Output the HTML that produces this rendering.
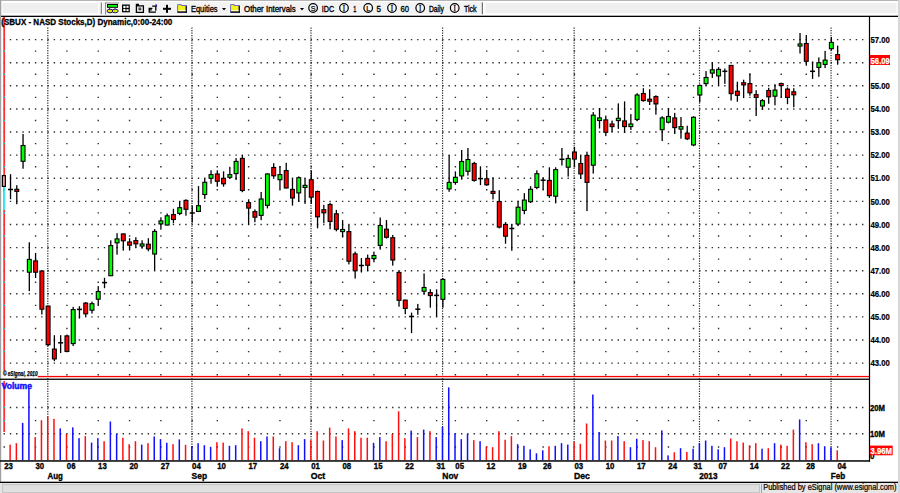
<!DOCTYPE html>
<html><head><meta charset="utf-8"><title>SBUX chart</title>
<style>html,body{margin:0;padding:0;background:#fff;width:900px;height:493px;overflow:hidden}svg{display:block}</style>
</head><body>
<svg width="900" height="493" viewBox="0 0 900 493"><rect x="0.00" y="0.00" width="900.00" height="493.00" fill="#ffffff"/>
<rect x="0.00" y="0.00" width="900.00" height="16.00" fill="#f3f3f3"/>
<rect x="0.00" y="0.00" width="900.00" height="1.10" fill="#b4b4b4"/>
<rect x="0.00" y="1.00" width="900.00" height="1.00" fill="#ffffff"/>
<rect x="2.00" y="2.50" width="96.50" height="11.30" fill="#efefef" stroke="#ffffff" stroke-width="1"/>
<rect x="100.80" y="2.50" width="1.20" height="12.00" fill="#888888"/><rect x="102.00" y="2.50" width="1.00" height="12.00" fill="#ffffff"/>
<rect x="485.00" y="2.50" width="412.00" height="11.30" fill="#efefef" stroke="#ffffff" stroke-width="1"/>
<rect x="481.80" y="2.50" width="1.30" height="12.50" fill="#707070"/><rect x="483.10" y="2.50" width="1.00" height="12.50" fill="#ffffff"/>
<rect x="0.00" y="14.20" width="900.00" height="1.50" fill="#ffffff"/>
<rect x="0.00" y="15.70" width="899.00" height="1.30" fill="#000000"/>
<rect x="0.00" y="0.00" width="1.20" height="483.00" fill="#a0a0a0"/>
<rect x="898.00" y="0.00" width="2.00" height="493.00" fill="#d6d6d6"/>
<path d="M3.55 362.44h1.40v1.40h-1.40zM9.82 362.44h1.40v1.40h-1.40zM16.08 362.44h1.40v1.40h-1.40zM22.35 362.44h1.40v1.40h-1.40zM28.61 362.44h1.40v1.40h-1.40zM34.88 362.44h1.40v1.40h-1.40zM41.15 362.44h1.40v1.40h-1.40zM47.41 362.44h1.40v1.40h-1.40zM53.68 362.44h1.40v1.40h-1.40zM59.94 362.44h1.40v1.40h-1.40zM66.21 362.44h1.40v1.40h-1.40zM72.48 362.44h1.40v1.40h-1.40zM78.74 362.44h1.40v1.40h-1.40zM85.01 362.44h1.40v1.40h-1.40zM91.27 362.44h1.40v1.40h-1.40zM97.54 362.44h1.40v1.40h-1.40zM103.81 362.44h1.40v1.40h-1.40zM110.07 362.44h1.40v1.40h-1.40zM116.34 362.44h1.40v1.40h-1.40zM122.60 362.44h1.40v1.40h-1.40zM128.87 362.44h1.40v1.40h-1.40zM135.14 362.44h1.40v1.40h-1.40zM141.40 362.44h1.40v1.40h-1.40zM147.67 362.44h1.40v1.40h-1.40zM153.93 362.44h1.40v1.40h-1.40zM160.20 362.44h1.40v1.40h-1.40zM166.47 362.44h1.40v1.40h-1.40zM172.73 362.44h1.40v1.40h-1.40zM179.00 362.44h1.40v1.40h-1.40zM185.26 362.44h1.40v1.40h-1.40zM191.53 362.44h1.40v1.40h-1.40zM197.80 362.44h1.40v1.40h-1.40zM204.06 362.44h1.40v1.40h-1.40zM210.33 362.44h1.40v1.40h-1.40zM216.59 362.44h1.40v1.40h-1.40zM222.86 362.44h1.40v1.40h-1.40zM229.13 362.44h1.40v1.40h-1.40zM235.39 362.44h1.40v1.40h-1.40zM241.66 362.44h1.40v1.40h-1.40zM247.92 362.44h1.40v1.40h-1.40zM254.19 362.44h1.40v1.40h-1.40zM260.46 362.44h1.40v1.40h-1.40zM266.72 362.44h1.40v1.40h-1.40zM272.99 362.44h1.40v1.40h-1.40zM279.25 362.44h1.40v1.40h-1.40zM285.52 362.44h1.40v1.40h-1.40zM291.79 362.44h1.40v1.40h-1.40zM298.05 362.44h1.40v1.40h-1.40zM304.32 362.44h1.40v1.40h-1.40zM310.58 362.44h1.40v1.40h-1.40zM316.85 362.44h1.40v1.40h-1.40zM323.12 362.44h1.40v1.40h-1.40zM329.38 362.44h1.40v1.40h-1.40zM335.65 362.44h1.40v1.40h-1.40zM341.91 362.44h1.40v1.40h-1.40zM348.18 362.44h1.40v1.40h-1.40zM354.45 362.44h1.40v1.40h-1.40zM360.71 362.44h1.40v1.40h-1.40zM366.98 362.44h1.40v1.40h-1.40zM373.24 362.44h1.40v1.40h-1.40zM379.51 362.44h1.40v1.40h-1.40zM385.78 362.44h1.40v1.40h-1.40zM392.04 362.44h1.40v1.40h-1.40zM398.31 362.44h1.40v1.40h-1.40zM404.57 362.44h1.40v1.40h-1.40zM410.84 362.44h1.40v1.40h-1.40zM417.11 362.44h1.40v1.40h-1.40zM423.37 362.44h1.40v1.40h-1.40zM429.64 362.44h1.40v1.40h-1.40zM435.90 362.44h1.40v1.40h-1.40zM442.17 362.44h1.40v1.40h-1.40zM448.44 362.44h1.40v1.40h-1.40zM454.70 362.44h1.40v1.40h-1.40zM460.97 362.44h1.40v1.40h-1.40zM467.23 362.44h1.40v1.40h-1.40zM473.50 362.44h1.40v1.40h-1.40zM479.77 362.44h1.40v1.40h-1.40zM486.03 362.44h1.40v1.40h-1.40zM492.30 362.44h1.40v1.40h-1.40zM498.56 362.44h1.40v1.40h-1.40zM504.83 362.44h1.40v1.40h-1.40zM511.10 362.44h1.40v1.40h-1.40zM517.36 362.44h1.40v1.40h-1.40zM523.63 362.44h1.40v1.40h-1.40zM529.89 362.44h1.40v1.40h-1.40zM536.16 362.44h1.40v1.40h-1.40zM542.43 362.44h1.40v1.40h-1.40zM548.69 362.44h1.40v1.40h-1.40zM554.96 362.44h1.40v1.40h-1.40zM561.22 362.44h1.40v1.40h-1.40zM567.49 362.44h1.40v1.40h-1.40zM573.76 362.44h1.40v1.40h-1.40zM580.02 362.44h1.40v1.40h-1.40zM586.29 362.44h1.40v1.40h-1.40zM592.55 362.44h1.40v1.40h-1.40zM598.82 362.44h1.40v1.40h-1.40zM605.09 362.44h1.40v1.40h-1.40zM611.35 362.44h1.40v1.40h-1.40zM617.62 362.44h1.40v1.40h-1.40zM623.88 362.44h1.40v1.40h-1.40zM630.15 362.44h1.40v1.40h-1.40zM636.42 362.44h1.40v1.40h-1.40zM642.68 362.44h1.40v1.40h-1.40zM648.95 362.44h1.40v1.40h-1.40zM655.21 362.44h1.40v1.40h-1.40zM661.48 362.44h1.40v1.40h-1.40zM667.75 362.44h1.40v1.40h-1.40zM674.01 362.44h1.40v1.40h-1.40zM680.28 362.44h1.40v1.40h-1.40zM686.54 362.44h1.40v1.40h-1.40zM692.81 362.44h1.40v1.40h-1.40zM699.08 362.44h1.40v1.40h-1.40zM705.34 362.44h1.40v1.40h-1.40zM711.61 362.44h1.40v1.40h-1.40zM717.87 362.44h1.40v1.40h-1.40zM724.14 362.44h1.40v1.40h-1.40zM730.41 362.44h1.40v1.40h-1.40zM736.67 362.44h1.40v1.40h-1.40zM742.94 362.44h1.40v1.40h-1.40zM749.20 362.44h1.40v1.40h-1.40zM755.47 362.44h1.40v1.40h-1.40zM761.74 362.44h1.40v1.40h-1.40zM768.00 362.44h1.40v1.40h-1.40zM774.27 362.44h1.40v1.40h-1.40zM780.53 362.44h1.40v1.40h-1.40zM786.80 362.44h1.40v1.40h-1.40zM793.07 362.44h1.40v1.40h-1.40zM799.33 362.44h1.40v1.40h-1.40zM805.60 362.44h1.40v1.40h-1.40zM811.86 362.44h1.40v1.40h-1.40zM818.13 362.44h1.40v1.40h-1.40zM824.40 362.44h1.40v1.40h-1.40zM830.66 362.44h1.40v1.40h-1.40zM836.93 362.44h1.40v1.40h-1.40zM843.19 362.44h1.40v1.40h-1.40zM849.46 362.44h1.40v1.40h-1.40zM855.73 362.44h1.40v1.40h-1.40zM861.99 362.44h1.40v1.40h-1.40zM3.55 339.33h1.40v1.40h-1.40zM9.82 339.33h1.40v1.40h-1.40zM16.08 339.33h1.40v1.40h-1.40zM22.35 339.33h1.40v1.40h-1.40zM28.61 339.33h1.40v1.40h-1.40zM34.88 339.33h1.40v1.40h-1.40zM41.15 339.33h1.40v1.40h-1.40zM47.41 339.33h1.40v1.40h-1.40zM53.68 339.33h1.40v1.40h-1.40zM59.94 339.33h1.40v1.40h-1.40zM66.21 339.33h1.40v1.40h-1.40zM72.48 339.33h1.40v1.40h-1.40zM78.74 339.33h1.40v1.40h-1.40zM85.01 339.33h1.40v1.40h-1.40zM91.27 339.33h1.40v1.40h-1.40zM97.54 339.33h1.40v1.40h-1.40zM103.81 339.33h1.40v1.40h-1.40zM110.07 339.33h1.40v1.40h-1.40zM116.34 339.33h1.40v1.40h-1.40zM122.60 339.33h1.40v1.40h-1.40zM128.87 339.33h1.40v1.40h-1.40zM135.14 339.33h1.40v1.40h-1.40zM141.40 339.33h1.40v1.40h-1.40zM147.67 339.33h1.40v1.40h-1.40zM153.93 339.33h1.40v1.40h-1.40zM160.20 339.33h1.40v1.40h-1.40zM166.47 339.33h1.40v1.40h-1.40zM172.73 339.33h1.40v1.40h-1.40zM179.00 339.33h1.40v1.40h-1.40zM185.26 339.33h1.40v1.40h-1.40zM191.53 339.33h1.40v1.40h-1.40zM197.80 339.33h1.40v1.40h-1.40zM204.06 339.33h1.40v1.40h-1.40zM210.33 339.33h1.40v1.40h-1.40zM216.59 339.33h1.40v1.40h-1.40zM222.86 339.33h1.40v1.40h-1.40zM229.13 339.33h1.40v1.40h-1.40zM235.39 339.33h1.40v1.40h-1.40zM241.66 339.33h1.40v1.40h-1.40zM247.92 339.33h1.40v1.40h-1.40zM254.19 339.33h1.40v1.40h-1.40zM260.46 339.33h1.40v1.40h-1.40zM266.72 339.33h1.40v1.40h-1.40zM272.99 339.33h1.40v1.40h-1.40zM279.25 339.33h1.40v1.40h-1.40zM285.52 339.33h1.40v1.40h-1.40zM291.79 339.33h1.40v1.40h-1.40zM298.05 339.33h1.40v1.40h-1.40zM304.32 339.33h1.40v1.40h-1.40zM310.58 339.33h1.40v1.40h-1.40zM316.85 339.33h1.40v1.40h-1.40zM323.12 339.33h1.40v1.40h-1.40zM329.38 339.33h1.40v1.40h-1.40zM335.65 339.33h1.40v1.40h-1.40zM341.91 339.33h1.40v1.40h-1.40zM348.18 339.33h1.40v1.40h-1.40zM354.45 339.33h1.40v1.40h-1.40zM360.71 339.33h1.40v1.40h-1.40zM366.98 339.33h1.40v1.40h-1.40zM373.24 339.33h1.40v1.40h-1.40zM379.51 339.33h1.40v1.40h-1.40zM385.78 339.33h1.40v1.40h-1.40zM392.04 339.33h1.40v1.40h-1.40zM398.31 339.33h1.40v1.40h-1.40zM404.57 339.33h1.40v1.40h-1.40zM410.84 339.33h1.40v1.40h-1.40zM417.11 339.33h1.40v1.40h-1.40zM423.37 339.33h1.40v1.40h-1.40zM429.64 339.33h1.40v1.40h-1.40zM435.90 339.33h1.40v1.40h-1.40zM442.17 339.33h1.40v1.40h-1.40zM448.44 339.33h1.40v1.40h-1.40zM454.70 339.33h1.40v1.40h-1.40zM460.97 339.33h1.40v1.40h-1.40zM467.23 339.33h1.40v1.40h-1.40zM473.50 339.33h1.40v1.40h-1.40zM479.77 339.33h1.40v1.40h-1.40zM486.03 339.33h1.40v1.40h-1.40zM492.30 339.33h1.40v1.40h-1.40zM498.56 339.33h1.40v1.40h-1.40zM504.83 339.33h1.40v1.40h-1.40zM511.10 339.33h1.40v1.40h-1.40zM517.36 339.33h1.40v1.40h-1.40zM523.63 339.33h1.40v1.40h-1.40zM529.89 339.33h1.40v1.40h-1.40zM536.16 339.33h1.40v1.40h-1.40zM542.43 339.33h1.40v1.40h-1.40zM548.69 339.33h1.40v1.40h-1.40zM554.96 339.33h1.40v1.40h-1.40zM561.22 339.33h1.40v1.40h-1.40zM567.49 339.33h1.40v1.40h-1.40zM573.76 339.33h1.40v1.40h-1.40zM580.02 339.33h1.40v1.40h-1.40zM586.29 339.33h1.40v1.40h-1.40zM592.55 339.33h1.40v1.40h-1.40zM598.82 339.33h1.40v1.40h-1.40zM605.09 339.33h1.40v1.40h-1.40zM611.35 339.33h1.40v1.40h-1.40zM617.62 339.33h1.40v1.40h-1.40zM623.88 339.33h1.40v1.40h-1.40zM630.15 339.33h1.40v1.40h-1.40zM636.42 339.33h1.40v1.40h-1.40zM642.68 339.33h1.40v1.40h-1.40zM648.95 339.33h1.40v1.40h-1.40zM655.21 339.33h1.40v1.40h-1.40zM661.48 339.33h1.40v1.40h-1.40zM667.75 339.33h1.40v1.40h-1.40zM674.01 339.33h1.40v1.40h-1.40zM680.28 339.33h1.40v1.40h-1.40zM686.54 339.33h1.40v1.40h-1.40zM692.81 339.33h1.40v1.40h-1.40zM699.08 339.33h1.40v1.40h-1.40zM705.34 339.33h1.40v1.40h-1.40zM711.61 339.33h1.40v1.40h-1.40zM717.87 339.33h1.40v1.40h-1.40zM724.14 339.33h1.40v1.40h-1.40zM730.41 339.33h1.40v1.40h-1.40zM736.67 339.33h1.40v1.40h-1.40zM742.94 339.33h1.40v1.40h-1.40zM749.20 339.33h1.40v1.40h-1.40zM755.47 339.33h1.40v1.40h-1.40zM761.74 339.33h1.40v1.40h-1.40zM768.00 339.33h1.40v1.40h-1.40zM774.27 339.33h1.40v1.40h-1.40zM780.53 339.33h1.40v1.40h-1.40zM786.80 339.33h1.40v1.40h-1.40zM793.07 339.33h1.40v1.40h-1.40zM799.33 339.33h1.40v1.40h-1.40zM805.60 339.33h1.40v1.40h-1.40zM811.86 339.33h1.40v1.40h-1.40zM818.13 339.33h1.40v1.40h-1.40zM824.40 339.33h1.40v1.40h-1.40zM830.66 339.33h1.40v1.40h-1.40zM836.93 339.33h1.40v1.40h-1.40zM843.19 339.33h1.40v1.40h-1.40zM849.46 339.33h1.40v1.40h-1.40zM855.73 339.33h1.40v1.40h-1.40zM861.99 339.33h1.40v1.40h-1.40zM3.55 316.22h1.40v1.40h-1.40zM9.82 316.22h1.40v1.40h-1.40zM16.08 316.22h1.40v1.40h-1.40zM22.35 316.22h1.40v1.40h-1.40zM28.61 316.22h1.40v1.40h-1.40zM34.88 316.22h1.40v1.40h-1.40zM41.15 316.22h1.40v1.40h-1.40zM47.41 316.22h1.40v1.40h-1.40zM53.68 316.22h1.40v1.40h-1.40zM59.94 316.22h1.40v1.40h-1.40zM66.21 316.22h1.40v1.40h-1.40zM72.48 316.22h1.40v1.40h-1.40zM78.74 316.22h1.40v1.40h-1.40zM85.01 316.22h1.40v1.40h-1.40zM91.27 316.22h1.40v1.40h-1.40zM97.54 316.22h1.40v1.40h-1.40zM103.81 316.22h1.40v1.40h-1.40zM110.07 316.22h1.40v1.40h-1.40zM116.34 316.22h1.40v1.40h-1.40zM122.60 316.22h1.40v1.40h-1.40zM128.87 316.22h1.40v1.40h-1.40zM135.14 316.22h1.40v1.40h-1.40zM141.40 316.22h1.40v1.40h-1.40zM147.67 316.22h1.40v1.40h-1.40zM153.93 316.22h1.40v1.40h-1.40zM160.20 316.22h1.40v1.40h-1.40zM166.47 316.22h1.40v1.40h-1.40zM172.73 316.22h1.40v1.40h-1.40zM179.00 316.22h1.40v1.40h-1.40zM185.26 316.22h1.40v1.40h-1.40zM191.53 316.22h1.40v1.40h-1.40zM197.80 316.22h1.40v1.40h-1.40zM204.06 316.22h1.40v1.40h-1.40zM210.33 316.22h1.40v1.40h-1.40zM216.59 316.22h1.40v1.40h-1.40zM222.86 316.22h1.40v1.40h-1.40zM229.13 316.22h1.40v1.40h-1.40zM235.39 316.22h1.40v1.40h-1.40zM241.66 316.22h1.40v1.40h-1.40zM247.92 316.22h1.40v1.40h-1.40zM254.19 316.22h1.40v1.40h-1.40zM260.46 316.22h1.40v1.40h-1.40zM266.72 316.22h1.40v1.40h-1.40zM272.99 316.22h1.40v1.40h-1.40zM279.25 316.22h1.40v1.40h-1.40zM285.52 316.22h1.40v1.40h-1.40zM291.79 316.22h1.40v1.40h-1.40zM298.05 316.22h1.40v1.40h-1.40zM304.32 316.22h1.40v1.40h-1.40zM310.58 316.22h1.40v1.40h-1.40zM316.85 316.22h1.40v1.40h-1.40zM323.12 316.22h1.40v1.40h-1.40zM329.38 316.22h1.40v1.40h-1.40zM335.65 316.22h1.40v1.40h-1.40zM341.91 316.22h1.40v1.40h-1.40zM348.18 316.22h1.40v1.40h-1.40zM354.45 316.22h1.40v1.40h-1.40zM360.71 316.22h1.40v1.40h-1.40zM366.98 316.22h1.40v1.40h-1.40zM373.24 316.22h1.40v1.40h-1.40zM379.51 316.22h1.40v1.40h-1.40zM385.78 316.22h1.40v1.40h-1.40zM392.04 316.22h1.40v1.40h-1.40zM398.31 316.22h1.40v1.40h-1.40zM404.57 316.22h1.40v1.40h-1.40zM410.84 316.22h1.40v1.40h-1.40zM417.11 316.22h1.40v1.40h-1.40zM423.37 316.22h1.40v1.40h-1.40zM429.64 316.22h1.40v1.40h-1.40zM435.90 316.22h1.40v1.40h-1.40zM442.17 316.22h1.40v1.40h-1.40zM448.44 316.22h1.40v1.40h-1.40zM454.70 316.22h1.40v1.40h-1.40zM460.97 316.22h1.40v1.40h-1.40zM467.23 316.22h1.40v1.40h-1.40zM473.50 316.22h1.40v1.40h-1.40zM479.77 316.22h1.40v1.40h-1.40zM486.03 316.22h1.40v1.40h-1.40zM492.30 316.22h1.40v1.40h-1.40zM498.56 316.22h1.40v1.40h-1.40zM504.83 316.22h1.40v1.40h-1.40zM511.10 316.22h1.40v1.40h-1.40zM517.36 316.22h1.40v1.40h-1.40zM523.63 316.22h1.40v1.40h-1.40zM529.89 316.22h1.40v1.40h-1.40zM536.16 316.22h1.40v1.40h-1.40zM542.43 316.22h1.40v1.40h-1.40zM548.69 316.22h1.40v1.40h-1.40zM554.96 316.22h1.40v1.40h-1.40zM561.22 316.22h1.40v1.40h-1.40zM567.49 316.22h1.40v1.40h-1.40zM573.76 316.22h1.40v1.40h-1.40zM580.02 316.22h1.40v1.40h-1.40zM586.29 316.22h1.40v1.40h-1.40zM592.55 316.22h1.40v1.40h-1.40zM598.82 316.22h1.40v1.40h-1.40zM605.09 316.22h1.40v1.40h-1.40zM611.35 316.22h1.40v1.40h-1.40zM617.62 316.22h1.40v1.40h-1.40zM623.88 316.22h1.40v1.40h-1.40zM630.15 316.22h1.40v1.40h-1.40zM636.42 316.22h1.40v1.40h-1.40zM642.68 316.22h1.40v1.40h-1.40zM648.95 316.22h1.40v1.40h-1.40zM655.21 316.22h1.40v1.40h-1.40zM661.48 316.22h1.40v1.40h-1.40zM667.75 316.22h1.40v1.40h-1.40zM674.01 316.22h1.40v1.40h-1.40zM680.28 316.22h1.40v1.40h-1.40zM686.54 316.22h1.40v1.40h-1.40zM692.81 316.22h1.40v1.40h-1.40zM699.08 316.22h1.40v1.40h-1.40zM705.34 316.22h1.40v1.40h-1.40zM711.61 316.22h1.40v1.40h-1.40zM717.87 316.22h1.40v1.40h-1.40zM724.14 316.22h1.40v1.40h-1.40zM730.41 316.22h1.40v1.40h-1.40zM736.67 316.22h1.40v1.40h-1.40zM742.94 316.22h1.40v1.40h-1.40zM749.20 316.22h1.40v1.40h-1.40zM755.47 316.22h1.40v1.40h-1.40zM761.74 316.22h1.40v1.40h-1.40zM768.00 316.22h1.40v1.40h-1.40zM774.27 316.22h1.40v1.40h-1.40zM780.53 316.22h1.40v1.40h-1.40zM786.80 316.22h1.40v1.40h-1.40zM793.07 316.22h1.40v1.40h-1.40zM799.33 316.22h1.40v1.40h-1.40zM805.60 316.22h1.40v1.40h-1.40zM811.86 316.22h1.40v1.40h-1.40zM818.13 316.22h1.40v1.40h-1.40zM824.40 316.22h1.40v1.40h-1.40zM830.66 316.22h1.40v1.40h-1.40zM836.93 316.22h1.40v1.40h-1.40zM843.19 316.22h1.40v1.40h-1.40zM849.46 316.22h1.40v1.40h-1.40zM855.73 316.22h1.40v1.40h-1.40zM861.99 316.22h1.40v1.40h-1.40zM3.55 293.11h1.40v1.40h-1.40zM9.82 293.11h1.40v1.40h-1.40zM16.08 293.11h1.40v1.40h-1.40zM22.35 293.11h1.40v1.40h-1.40zM28.61 293.11h1.40v1.40h-1.40zM34.88 293.11h1.40v1.40h-1.40zM41.15 293.11h1.40v1.40h-1.40zM47.41 293.11h1.40v1.40h-1.40zM53.68 293.11h1.40v1.40h-1.40zM59.94 293.11h1.40v1.40h-1.40zM66.21 293.11h1.40v1.40h-1.40zM72.48 293.11h1.40v1.40h-1.40zM78.74 293.11h1.40v1.40h-1.40zM85.01 293.11h1.40v1.40h-1.40zM91.27 293.11h1.40v1.40h-1.40zM97.54 293.11h1.40v1.40h-1.40zM103.81 293.11h1.40v1.40h-1.40zM110.07 293.11h1.40v1.40h-1.40zM116.34 293.11h1.40v1.40h-1.40zM122.60 293.11h1.40v1.40h-1.40zM128.87 293.11h1.40v1.40h-1.40zM135.14 293.11h1.40v1.40h-1.40zM141.40 293.11h1.40v1.40h-1.40zM147.67 293.11h1.40v1.40h-1.40zM153.93 293.11h1.40v1.40h-1.40zM160.20 293.11h1.40v1.40h-1.40zM166.47 293.11h1.40v1.40h-1.40zM172.73 293.11h1.40v1.40h-1.40zM179.00 293.11h1.40v1.40h-1.40zM185.26 293.11h1.40v1.40h-1.40zM191.53 293.11h1.40v1.40h-1.40zM197.80 293.11h1.40v1.40h-1.40zM204.06 293.11h1.40v1.40h-1.40zM210.33 293.11h1.40v1.40h-1.40zM216.59 293.11h1.40v1.40h-1.40zM222.86 293.11h1.40v1.40h-1.40zM229.13 293.11h1.40v1.40h-1.40zM235.39 293.11h1.40v1.40h-1.40zM241.66 293.11h1.40v1.40h-1.40zM247.92 293.11h1.40v1.40h-1.40zM254.19 293.11h1.40v1.40h-1.40zM260.46 293.11h1.40v1.40h-1.40zM266.72 293.11h1.40v1.40h-1.40zM272.99 293.11h1.40v1.40h-1.40zM279.25 293.11h1.40v1.40h-1.40zM285.52 293.11h1.40v1.40h-1.40zM291.79 293.11h1.40v1.40h-1.40zM298.05 293.11h1.40v1.40h-1.40zM304.32 293.11h1.40v1.40h-1.40zM310.58 293.11h1.40v1.40h-1.40zM316.85 293.11h1.40v1.40h-1.40zM323.12 293.11h1.40v1.40h-1.40zM329.38 293.11h1.40v1.40h-1.40zM335.65 293.11h1.40v1.40h-1.40zM341.91 293.11h1.40v1.40h-1.40zM348.18 293.11h1.40v1.40h-1.40zM354.45 293.11h1.40v1.40h-1.40zM360.71 293.11h1.40v1.40h-1.40zM366.98 293.11h1.40v1.40h-1.40zM373.24 293.11h1.40v1.40h-1.40zM379.51 293.11h1.40v1.40h-1.40zM385.78 293.11h1.40v1.40h-1.40zM392.04 293.11h1.40v1.40h-1.40zM398.31 293.11h1.40v1.40h-1.40zM404.57 293.11h1.40v1.40h-1.40zM410.84 293.11h1.40v1.40h-1.40zM417.11 293.11h1.40v1.40h-1.40zM423.37 293.11h1.40v1.40h-1.40zM429.64 293.11h1.40v1.40h-1.40zM435.90 293.11h1.40v1.40h-1.40zM442.17 293.11h1.40v1.40h-1.40zM448.44 293.11h1.40v1.40h-1.40zM454.70 293.11h1.40v1.40h-1.40zM460.97 293.11h1.40v1.40h-1.40zM467.23 293.11h1.40v1.40h-1.40zM473.50 293.11h1.40v1.40h-1.40zM479.77 293.11h1.40v1.40h-1.40zM486.03 293.11h1.40v1.40h-1.40zM492.30 293.11h1.40v1.40h-1.40zM498.56 293.11h1.40v1.40h-1.40zM504.83 293.11h1.40v1.40h-1.40zM511.10 293.11h1.40v1.40h-1.40zM517.36 293.11h1.40v1.40h-1.40zM523.63 293.11h1.40v1.40h-1.40zM529.89 293.11h1.40v1.40h-1.40zM536.16 293.11h1.40v1.40h-1.40zM542.43 293.11h1.40v1.40h-1.40zM548.69 293.11h1.40v1.40h-1.40zM554.96 293.11h1.40v1.40h-1.40zM561.22 293.11h1.40v1.40h-1.40zM567.49 293.11h1.40v1.40h-1.40zM573.76 293.11h1.40v1.40h-1.40zM580.02 293.11h1.40v1.40h-1.40zM586.29 293.11h1.40v1.40h-1.40zM592.55 293.11h1.40v1.40h-1.40zM598.82 293.11h1.40v1.40h-1.40zM605.09 293.11h1.40v1.40h-1.40zM611.35 293.11h1.40v1.40h-1.40zM617.62 293.11h1.40v1.40h-1.40zM623.88 293.11h1.40v1.40h-1.40zM630.15 293.11h1.40v1.40h-1.40zM636.42 293.11h1.40v1.40h-1.40zM642.68 293.11h1.40v1.40h-1.40zM648.95 293.11h1.40v1.40h-1.40zM655.21 293.11h1.40v1.40h-1.40zM661.48 293.11h1.40v1.40h-1.40zM667.75 293.11h1.40v1.40h-1.40zM674.01 293.11h1.40v1.40h-1.40zM680.28 293.11h1.40v1.40h-1.40zM686.54 293.11h1.40v1.40h-1.40zM692.81 293.11h1.40v1.40h-1.40zM699.08 293.11h1.40v1.40h-1.40zM705.34 293.11h1.40v1.40h-1.40zM711.61 293.11h1.40v1.40h-1.40zM717.87 293.11h1.40v1.40h-1.40zM724.14 293.11h1.40v1.40h-1.40zM730.41 293.11h1.40v1.40h-1.40zM736.67 293.11h1.40v1.40h-1.40zM742.94 293.11h1.40v1.40h-1.40zM749.20 293.11h1.40v1.40h-1.40zM755.47 293.11h1.40v1.40h-1.40zM761.74 293.11h1.40v1.40h-1.40zM768.00 293.11h1.40v1.40h-1.40zM774.27 293.11h1.40v1.40h-1.40zM780.53 293.11h1.40v1.40h-1.40zM786.80 293.11h1.40v1.40h-1.40zM793.07 293.11h1.40v1.40h-1.40zM799.33 293.11h1.40v1.40h-1.40zM805.60 293.11h1.40v1.40h-1.40zM811.86 293.11h1.40v1.40h-1.40zM818.13 293.11h1.40v1.40h-1.40zM824.40 293.11h1.40v1.40h-1.40zM830.66 293.11h1.40v1.40h-1.40zM836.93 293.11h1.40v1.40h-1.40zM843.19 293.11h1.40v1.40h-1.40zM849.46 293.11h1.40v1.40h-1.40zM855.73 293.11h1.40v1.40h-1.40zM861.99 293.11h1.40v1.40h-1.40zM3.55 270.00h1.40v1.40h-1.40zM9.82 270.00h1.40v1.40h-1.40zM16.08 270.00h1.40v1.40h-1.40zM22.35 270.00h1.40v1.40h-1.40zM28.61 270.00h1.40v1.40h-1.40zM34.88 270.00h1.40v1.40h-1.40zM41.15 270.00h1.40v1.40h-1.40zM47.41 270.00h1.40v1.40h-1.40zM53.68 270.00h1.40v1.40h-1.40zM59.94 270.00h1.40v1.40h-1.40zM66.21 270.00h1.40v1.40h-1.40zM72.48 270.00h1.40v1.40h-1.40zM78.74 270.00h1.40v1.40h-1.40zM85.01 270.00h1.40v1.40h-1.40zM91.27 270.00h1.40v1.40h-1.40zM97.54 270.00h1.40v1.40h-1.40zM103.81 270.00h1.40v1.40h-1.40zM110.07 270.00h1.40v1.40h-1.40zM116.34 270.00h1.40v1.40h-1.40zM122.60 270.00h1.40v1.40h-1.40zM128.87 270.00h1.40v1.40h-1.40zM135.14 270.00h1.40v1.40h-1.40zM141.40 270.00h1.40v1.40h-1.40zM147.67 270.00h1.40v1.40h-1.40zM153.93 270.00h1.40v1.40h-1.40zM160.20 270.00h1.40v1.40h-1.40zM166.47 270.00h1.40v1.40h-1.40zM172.73 270.00h1.40v1.40h-1.40zM179.00 270.00h1.40v1.40h-1.40zM185.26 270.00h1.40v1.40h-1.40zM191.53 270.00h1.40v1.40h-1.40zM197.80 270.00h1.40v1.40h-1.40zM204.06 270.00h1.40v1.40h-1.40zM210.33 270.00h1.40v1.40h-1.40zM216.59 270.00h1.40v1.40h-1.40zM222.86 270.00h1.40v1.40h-1.40zM229.13 270.00h1.40v1.40h-1.40zM235.39 270.00h1.40v1.40h-1.40zM241.66 270.00h1.40v1.40h-1.40zM247.92 270.00h1.40v1.40h-1.40zM254.19 270.00h1.40v1.40h-1.40zM260.46 270.00h1.40v1.40h-1.40zM266.72 270.00h1.40v1.40h-1.40zM272.99 270.00h1.40v1.40h-1.40zM279.25 270.00h1.40v1.40h-1.40zM285.52 270.00h1.40v1.40h-1.40zM291.79 270.00h1.40v1.40h-1.40zM298.05 270.00h1.40v1.40h-1.40zM304.32 270.00h1.40v1.40h-1.40zM310.58 270.00h1.40v1.40h-1.40zM316.85 270.00h1.40v1.40h-1.40zM323.12 270.00h1.40v1.40h-1.40zM329.38 270.00h1.40v1.40h-1.40zM335.65 270.00h1.40v1.40h-1.40zM341.91 270.00h1.40v1.40h-1.40zM348.18 270.00h1.40v1.40h-1.40zM354.45 270.00h1.40v1.40h-1.40zM360.71 270.00h1.40v1.40h-1.40zM366.98 270.00h1.40v1.40h-1.40zM373.24 270.00h1.40v1.40h-1.40zM379.51 270.00h1.40v1.40h-1.40zM385.78 270.00h1.40v1.40h-1.40zM392.04 270.00h1.40v1.40h-1.40zM398.31 270.00h1.40v1.40h-1.40zM404.57 270.00h1.40v1.40h-1.40zM410.84 270.00h1.40v1.40h-1.40zM417.11 270.00h1.40v1.40h-1.40zM423.37 270.00h1.40v1.40h-1.40zM429.64 270.00h1.40v1.40h-1.40zM435.90 270.00h1.40v1.40h-1.40zM442.17 270.00h1.40v1.40h-1.40zM448.44 270.00h1.40v1.40h-1.40zM454.70 270.00h1.40v1.40h-1.40zM460.97 270.00h1.40v1.40h-1.40zM467.23 270.00h1.40v1.40h-1.40zM473.50 270.00h1.40v1.40h-1.40zM479.77 270.00h1.40v1.40h-1.40zM486.03 270.00h1.40v1.40h-1.40zM492.30 270.00h1.40v1.40h-1.40zM498.56 270.00h1.40v1.40h-1.40zM504.83 270.00h1.40v1.40h-1.40zM511.10 270.00h1.40v1.40h-1.40zM517.36 270.00h1.40v1.40h-1.40zM523.63 270.00h1.40v1.40h-1.40zM529.89 270.00h1.40v1.40h-1.40zM536.16 270.00h1.40v1.40h-1.40zM542.43 270.00h1.40v1.40h-1.40zM548.69 270.00h1.40v1.40h-1.40zM554.96 270.00h1.40v1.40h-1.40zM561.22 270.00h1.40v1.40h-1.40zM567.49 270.00h1.40v1.40h-1.40zM573.76 270.00h1.40v1.40h-1.40zM580.02 270.00h1.40v1.40h-1.40zM586.29 270.00h1.40v1.40h-1.40zM592.55 270.00h1.40v1.40h-1.40zM598.82 270.00h1.40v1.40h-1.40zM605.09 270.00h1.40v1.40h-1.40zM611.35 270.00h1.40v1.40h-1.40zM617.62 270.00h1.40v1.40h-1.40zM623.88 270.00h1.40v1.40h-1.40zM630.15 270.00h1.40v1.40h-1.40zM636.42 270.00h1.40v1.40h-1.40zM642.68 270.00h1.40v1.40h-1.40zM648.95 270.00h1.40v1.40h-1.40zM655.21 270.00h1.40v1.40h-1.40zM661.48 270.00h1.40v1.40h-1.40zM667.75 270.00h1.40v1.40h-1.40zM674.01 270.00h1.40v1.40h-1.40zM680.28 270.00h1.40v1.40h-1.40zM686.54 270.00h1.40v1.40h-1.40zM692.81 270.00h1.40v1.40h-1.40zM699.08 270.00h1.40v1.40h-1.40zM705.34 270.00h1.40v1.40h-1.40zM711.61 270.00h1.40v1.40h-1.40zM717.87 270.00h1.40v1.40h-1.40zM724.14 270.00h1.40v1.40h-1.40zM730.41 270.00h1.40v1.40h-1.40zM736.67 270.00h1.40v1.40h-1.40zM742.94 270.00h1.40v1.40h-1.40zM749.20 270.00h1.40v1.40h-1.40zM755.47 270.00h1.40v1.40h-1.40zM761.74 270.00h1.40v1.40h-1.40zM768.00 270.00h1.40v1.40h-1.40zM774.27 270.00h1.40v1.40h-1.40zM780.53 270.00h1.40v1.40h-1.40zM786.80 270.00h1.40v1.40h-1.40zM793.07 270.00h1.40v1.40h-1.40zM799.33 270.00h1.40v1.40h-1.40zM805.60 270.00h1.40v1.40h-1.40zM811.86 270.00h1.40v1.40h-1.40zM818.13 270.00h1.40v1.40h-1.40zM824.40 270.00h1.40v1.40h-1.40zM830.66 270.00h1.40v1.40h-1.40zM836.93 270.00h1.40v1.40h-1.40zM843.19 270.00h1.40v1.40h-1.40zM849.46 270.00h1.40v1.40h-1.40zM855.73 270.00h1.40v1.40h-1.40zM861.99 270.00h1.40v1.40h-1.40zM3.55 246.89h1.40v1.40h-1.40zM9.82 246.89h1.40v1.40h-1.40zM16.08 246.89h1.40v1.40h-1.40zM22.35 246.89h1.40v1.40h-1.40zM28.61 246.89h1.40v1.40h-1.40zM34.88 246.89h1.40v1.40h-1.40zM41.15 246.89h1.40v1.40h-1.40zM47.41 246.89h1.40v1.40h-1.40zM53.68 246.89h1.40v1.40h-1.40zM59.94 246.89h1.40v1.40h-1.40zM66.21 246.89h1.40v1.40h-1.40zM72.48 246.89h1.40v1.40h-1.40zM78.74 246.89h1.40v1.40h-1.40zM85.01 246.89h1.40v1.40h-1.40zM91.27 246.89h1.40v1.40h-1.40zM97.54 246.89h1.40v1.40h-1.40zM103.81 246.89h1.40v1.40h-1.40zM110.07 246.89h1.40v1.40h-1.40zM116.34 246.89h1.40v1.40h-1.40zM122.60 246.89h1.40v1.40h-1.40zM128.87 246.89h1.40v1.40h-1.40zM135.14 246.89h1.40v1.40h-1.40zM141.40 246.89h1.40v1.40h-1.40zM147.67 246.89h1.40v1.40h-1.40zM153.93 246.89h1.40v1.40h-1.40zM160.20 246.89h1.40v1.40h-1.40zM166.47 246.89h1.40v1.40h-1.40zM172.73 246.89h1.40v1.40h-1.40zM179.00 246.89h1.40v1.40h-1.40zM185.26 246.89h1.40v1.40h-1.40zM191.53 246.89h1.40v1.40h-1.40zM197.80 246.89h1.40v1.40h-1.40zM204.06 246.89h1.40v1.40h-1.40zM210.33 246.89h1.40v1.40h-1.40zM216.59 246.89h1.40v1.40h-1.40zM222.86 246.89h1.40v1.40h-1.40zM229.13 246.89h1.40v1.40h-1.40zM235.39 246.89h1.40v1.40h-1.40zM241.66 246.89h1.40v1.40h-1.40zM247.92 246.89h1.40v1.40h-1.40zM254.19 246.89h1.40v1.40h-1.40zM260.46 246.89h1.40v1.40h-1.40zM266.72 246.89h1.40v1.40h-1.40zM272.99 246.89h1.40v1.40h-1.40zM279.25 246.89h1.40v1.40h-1.40zM285.52 246.89h1.40v1.40h-1.40zM291.79 246.89h1.40v1.40h-1.40zM298.05 246.89h1.40v1.40h-1.40zM304.32 246.89h1.40v1.40h-1.40zM310.58 246.89h1.40v1.40h-1.40zM316.85 246.89h1.40v1.40h-1.40zM323.12 246.89h1.40v1.40h-1.40zM329.38 246.89h1.40v1.40h-1.40zM335.65 246.89h1.40v1.40h-1.40zM341.91 246.89h1.40v1.40h-1.40zM348.18 246.89h1.40v1.40h-1.40zM354.45 246.89h1.40v1.40h-1.40zM360.71 246.89h1.40v1.40h-1.40zM366.98 246.89h1.40v1.40h-1.40zM373.24 246.89h1.40v1.40h-1.40zM379.51 246.89h1.40v1.40h-1.40zM385.78 246.89h1.40v1.40h-1.40zM392.04 246.89h1.40v1.40h-1.40zM398.31 246.89h1.40v1.40h-1.40zM404.57 246.89h1.40v1.40h-1.40zM410.84 246.89h1.40v1.40h-1.40zM417.11 246.89h1.40v1.40h-1.40zM423.37 246.89h1.40v1.40h-1.40zM429.64 246.89h1.40v1.40h-1.40zM435.90 246.89h1.40v1.40h-1.40zM442.17 246.89h1.40v1.40h-1.40zM448.44 246.89h1.40v1.40h-1.40zM454.70 246.89h1.40v1.40h-1.40zM460.97 246.89h1.40v1.40h-1.40zM467.23 246.89h1.40v1.40h-1.40zM473.50 246.89h1.40v1.40h-1.40zM479.77 246.89h1.40v1.40h-1.40zM486.03 246.89h1.40v1.40h-1.40zM492.30 246.89h1.40v1.40h-1.40zM498.56 246.89h1.40v1.40h-1.40zM504.83 246.89h1.40v1.40h-1.40zM511.10 246.89h1.40v1.40h-1.40zM517.36 246.89h1.40v1.40h-1.40zM523.63 246.89h1.40v1.40h-1.40zM529.89 246.89h1.40v1.40h-1.40zM536.16 246.89h1.40v1.40h-1.40zM542.43 246.89h1.40v1.40h-1.40zM548.69 246.89h1.40v1.40h-1.40zM554.96 246.89h1.40v1.40h-1.40zM561.22 246.89h1.40v1.40h-1.40zM567.49 246.89h1.40v1.40h-1.40zM573.76 246.89h1.40v1.40h-1.40zM580.02 246.89h1.40v1.40h-1.40zM586.29 246.89h1.40v1.40h-1.40zM592.55 246.89h1.40v1.40h-1.40zM598.82 246.89h1.40v1.40h-1.40zM605.09 246.89h1.40v1.40h-1.40zM611.35 246.89h1.40v1.40h-1.40zM617.62 246.89h1.40v1.40h-1.40zM623.88 246.89h1.40v1.40h-1.40zM630.15 246.89h1.40v1.40h-1.40zM636.42 246.89h1.40v1.40h-1.40zM642.68 246.89h1.40v1.40h-1.40zM648.95 246.89h1.40v1.40h-1.40zM655.21 246.89h1.40v1.40h-1.40zM661.48 246.89h1.40v1.40h-1.40zM667.75 246.89h1.40v1.40h-1.40zM674.01 246.89h1.40v1.40h-1.40zM680.28 246.89h1.40v1.40h-1.40zM686.54 246.89h1.40v1.40h-1.40zM692.81 246.89h1.40v1.40h-1.40zM699.08 246.89h1.40v1.40h-1.40zM705.34 246.89h1.40v1.40h-1.40zM711.61 246.89h1.40v1.40h-1.40zM717.87 246.89h1.40v1.40h-1.40zM724.14 246.89h1.40v1.40h-1.40zM730.41 246.89h1.40v1.40h-1.40zM736.67 246.89h1.40v1.40h-1.40zM742.94 246.89h1.40v1.40h-1.40zM749.20 246.89h1.40v1.40h-1.40zM755.47 246.89h1.40v1.40h-1.40zM761.74 246.89h1.40v1.40h-1.40zM768.00 246.89h1.40v1.40h-1.40zM774.27 246.89h1.40v1.40h-1.40zM780.53 246.89h1.40v1.40h-1.40zM786.80 246.89h1.40v1.40h-1.40zM793.07 246.89h1.40v1.40h-1.40zM799.33 246.89h1.40v1.40h-1.40zM805.60 246.89h1.40v1.40h-1.40zM811.86 246.89h1.40v1.40h-1.40zM818.13 246.89h1.40v1.40h-1.40zM824.40 246.89h1.40v1.40h-1.40zM830.66 246.89h1.40v1.40h-1.40zM836.93 246.89h1.40v1.40h-1.40zM843.19 246.89h1.40v1.40h-1.40zM849.46 246.89h1.40v1.40h-1.40zM855.73 246.89h1.40v1.40h-1.40zM861.99 246.89h1.40v1.40h-1.40zM3.55 223.78h1.40v1.40h-1.40zM9.82 223.78h1.40v1.40h-1.40zM16.08 223.78h1.40v1.40h-1.40zM22.35 223.78h1.40v1.40h-1.40zM28.61 223.78h1.40v1.40h-1.40zM34.88 223.78h1.40v1.40h-1.40zM41.15 223.78h1.40v1.40h-1.40zM47.41 223.78h1.40v1.40h-1.40zM53.68 223.78h1.40v1.40h-1.40zM59.94 223.78h1.40v1.40h-1.40zM66.21 223.78h1.40v1.40h-1.40zM72.48 223.78h1.40v1.40h-1.40zM78.74 223.78h1.40v1.40h-1.40zM85.01 223.78h1.40v1.40h-1.40zM91.27 223.78h1.40v1.40h-1.40zM97.54 223.78h1.40v1.40h-1.40zM103.81 223.78h1.40v1.40h-1.40zM110.07 223.78h1.40v1.40h-1.40zM116.34 223.78h1.40v1.40h-1.40zM122.60 223.78h1.40v1.40h-1.40zM128.87 223.78h1.40v1.40h-1.40zM135.14 223.78h1.40v1.40h-1.40zM141.40 223.78h1.40v1.40h-1.40zM147.67 223.78h1.40v1.40h-1.40zM153.93 223.78h1.40v1.40h-1.40zM160.20 223.78h1.40v1.40h-1.40zM166.47 223.78h1.40v1.40h-1.40zM172.73 223.78h1.40v1.40h-1.40zM179.00 223.78h1.40v1.40h-1.40zM185.26 223.78h1.40v1.40h-1.40zM191.53 223.78h1.40v1.40h-1.40zM197.80 223.78h1.40v1.40h-1.40zM204.06 223.78h1.40v1.40h-1.40zM210.33 223.78h1.40v1.40h-1.40zM216.59 223.78h1.40v1.40h-1.40zM222.86 223.78h1.40v1.40h-1.40zM229.13 223.78h1.40v1.40h-1.40zM235.39 223.78h1.40v1.40h-1.40zM241.66 223.78h1.40v1.40h-1.40zM247.92 223.78h1.40v1.40h-1.40zM254.19 223.78h1.40v1.40h-1.40zM260.46 223.78h1.40v1.40h-1.40zM266.72 223.78h1.40v1.40h-1.40zM272.99 223.78h1.40v1.40h-1.40zM279.25 223.78h1.40v1.40h-1.40zM285.52 223.78h1.40v1.40h-1.40zM291.79 223.78h1.40v1.40h-1.40zM298.05 223.78h1.40v1.40h-1.40zM304.32 223.78h1.40v1.40h-1.40zM310.58 223.78h1.40v1.40h-1.40zM316.85 223.78h1.40v1.40h-1.40zM323.12 223.78h1.40v1.40h-1.40zM329.38 223.78h1.40v1.40h-1.40zM335.65 223.78h1.40v1.40h-1.40zM341.91 223.78h1.40v1.40h-1.40zM348.18 223.78h1.40v1.40h-1.40zM354.45 223.78h1.40v1.40h-1.40zM360.71 223.78h1.40v1.40h-1.40zM366.98 223.78h1.40v1.40h-1.40zM373.24 223.78h1.40v1.40h-1.40zM379.51 223.78h1.40v1.40h-1.40zM385.78 223.78h1.40v1.40h-1.40zM392.04 223.78h1.40v1.40h-1.40zM398.31 223.78h1.40v1.40h-1.40zM404.57 223.78h1.40v1.40h-1.40zM410.84 223.78h1.40v1.40h-1.40zM417.11 223.78h1.40v1.40h-1.40zM423.37 223.78h1.40v1.40h-1.40zM429.64 223.78h1.40v1.40h-1.40zM435.90 223.78h1.40v1.40h-1.40zM442.17 223.78h1.40v1.40h-1.40zM448.44 223.78h1.40v1.40h-1.40zM454.70 223.78h1.40v1.40h-1.40zM460.97 223.78h1.40v1.40h-1.40zM467.23 223.78h1.40v1.40h-1.40zM473.50 223.78h1.40v1.40h-1.40zM479.77 223.78h1.40v1.40h-1.40zM486.03 223.78h1.40v1.40h-1.40zM492.30 223.78h1.40v1.40h-1.40zM498.56 223.78h1.40v1.40h-1.40zM504.83 223.78h1.40v1.40h-1.40zM511.10 223.78h1.40v1.40h-1.40zM517.36 223.78h1.40v1.40h-1.40zM523.63 223.78h1.40v1.40h-1.40zM529.89 223.78h1.40v1.40h-1.40zM536.16 223.78h1.40v1.40h-1.40zM542.43 223.78h1.40v1.40h-1.40zM548.69 223.78h1.40v1.40h-1.40zM554.96 223.78h1.40v1.40h-1.40zM561.22 223.78h1.40v1.40h-1.40zM567.49 223.78h1.40v1.40h-1.40zM573.76 223.78h1.40v1.40h-1.40zM580.02 223.78h1.40v1.40h-1.40zM586.29 223.78h1.40v1.40h-1.40zM592.55 223.78h1.40v1.40h-1.40zM598.82 223.78h1.40v1.40h-1.40zM605.09 223.78h1.40v1.40h-1.40zM611.35 223.78h1.40v1.40h-1.40zM617.62 223.78h1.40v1.40h-1.40zM623.88 223.78h1.40v1.40h-1.40zM630.15 223.78h1.40v1.40h-1.40zM636.42 223.78h1.40v1.40h-1.40zM642.68 223.78h1.40v1.40h-1.40zM648.95 223.78h1.40v1.40h-1.40zM655.21 223.78h1.40v1.40h-1.40zM661.48 223.78h1.40v1.40h-1.40zM667.75 223.78h1.40v1.40h-1.40zM674.01 223.78h1.40v1.40h-1.40zM680.28 223.78h1.40v1.40h-1.40zM686.54 223.78h1.40v1.40h-1.40zM692.81 223.78h1.40v1.40h-1.40zM699.08 223.78h1.40v1.40h-1.40zM705.34 223.78h1.40v1.40h-1.40zM711.61 223.78h1.40v1.40h-1.40zM717.87 223.78h1.40v1.40h-1.40zM724.14 223.78h1.40v1.40h-1.40zM730.41 223.78h1.40v1.40h-1.40zM736.67 223.78h1.40v1.40h-1.40zM742.94 223.78h1.40v1.40h-1.40zM749.20 223.78h1.40v1.40h-1.40zM755.47 223.78h1.40v1.40h-1.40zM761.74 223.78h1.40v1.40h-1.40zM768.00 223.78h1.40v1.40h-1.40zM774.27 223.78h1.40v1.40h-1.40zM780.53 223.78h1.40v1.40h-1.40zM786.80 223.78h1.40v1.40h-1.40zM793.07 223.78h1.40v1.40h-1.40zM799.33 223.78h1.40v1.40h-1.40zM805.60 223.78h1.40v1.40h-1.40zM811.86 223.78h1.40v1.40h-1.40zM818.13 223.78h1.40v1.40h-1.40zM824.40 223.78h1.40v1.40h-1.40zM830.66 223.78h1.40v1.40h-1.40zM836.93 223.78h1.40v1.40h-1.40zM843.19 223.78h1.40v1.40h-1.40zM849.46 223.78h1.40v1.40h-1.40zM855.73 223.78h1.40v1.40h-1.40zM861.99 223.78h1.40v1.40h-1.40zM3.55 200.67h1.40v1.40h-1.40zM9.82 200.67h1.40v1.40h-1.40zM16.08 200.67h1.40v1.40h-1.40zM22.35 200.67h1.40v1.40h-1.40zM28.61 200.67h1.40v1.40h-1.40zM34.88 200.67h1.40v1.40h-1.40zM41.15 200.67h1.40v1.40h-1.40zM47.41 200.67h1.40v1.40h-1.40zM53.68 200.67h1.40v1.40h-1.40zM59.94 200.67h1.40v1.40h-1.40zM66.21 200.67h1.40v1.40h-1.40zM72.48 200.67h1.40v1.40h-1.40zM78.74 200.67h1.40v1.40h-1.40zM85.01 200.67h1.40v1.40h-1.40zM91.27 200.67h1.40v1.40h-1.40zM97.54 200.67h1.40v1.40h-1.40zM103.81 200.67h1.40v1.40h-1.40zM110.07 200.67h1.40v1.40h-1.40zM116.34 200.67h1.40v1.40h-1.40zM122.60 200.67h1.40v1.40h-1.40zM128.87 200.67h1.40v1.40h-1.40zM135.14 200.67h1.40v1.40h-1.40zM141.40 200.67h1.40v1.40h-1.40zM147.67 200.67h1.40v1.40h-1.40zM153.93 200.67h1.40v1.40h-1.40zM160.20 200.67h1.40v1.40h-1.40zM166.47 200.67h1.40v1.40h-1.40zM172.73 200.67h1.40v1.40h-1.40zM179.00 200.67h1.40v1.40h-1.40zM185.26 200.67h1.40v1.40h-1.40zM191.53 200.67h1.40v1.40h-1.40zM197.80 200.67h1.40v1.40h-1.40zM204.06 200.67h1.40v1.40h-1.40zM210.33 200.67h1.40v1.40h-1.40zM216.59 200.67h1.40v1.40h-1.40zM222.86 200.67h1.40v1.40h-1.40zM229.13 200.67h1.40v1.40h-1.40zM235.39 200.67h1.40v1.40h-1.40zM241.66 200.67h1.40v1.40h-1.40zM247.92 200.67h1.40v1.40h-1.40zM254.19 200.67h1.40v1.40h-1.40zM260.46 200.67h1.40v1.40h-1.40zM266.72 200.67h1.40v1.40h-1.40zM272.99 200.67h1.40v1.40h-1.40zM279.25 200.67h1.40v1.40h-1.40zM285.52 200.67h1.40v1.40h-1.40zM291.79 200.67h1.40v1.40h-1.40zM298.05 200.67h1.40v1.40h-1.40zM304.32 200.67h1.40v1.40h-1.40zM310.58 200.67h1.40v1.40h-1.40zM316.85 200.67h1.40v1.40h-1.40zM323.12 200.67h1.40v1.40h-1.40zM329.38 200.67h1.40v1.40h-1.40zM335.65 200.67h1.40v1.40h-1.40zM341.91 200.67h1.40v1.40h-1.40zM348.18 200.67h1.40v1.40h-1.40zM354.45 200.67h1.40v1.40h-1.40zM360.71 200.67h1.40v1.40h-1.40zM366.98 200.67h1.40v1.40h-1.40zM373.24 200.67h1.40v1.40h-1.40zM379.51 200.67h1.40v1.40h-1.40zM385.78 200.67h1.40v1.40h-1.40zM392.04 200.67h1.40v1.40h-1.40zM398.31 200.67h1.40v1.40h-1.40zM404.57 200.67h1.40v1.40h-1.40zM410.84 200.67h1.40v1.40h-1.40zM417.11 200.67h1.40v1.40h-1.40zM423.37 200.67h1.40v1.40h-1.40zM429.64 200.67h1.40v1.40h-1.40zM435.90 200.67h1.40v1.40h-1.40zM442.17 200.67h1.40v1.40h-1.40zM448.44 200.67h1.40v1.40h-1.40zM454.70 200.67h1.40v1.40h-1.40zM460.97 200.67h1.40v1.40h-1.40zM467.23 200.67h1.40v1.40h-1.40zM473.50 200.67h1.40v1.40h-1.40zM479.77 200.67h1.40v1.40h-1.40zM486.03 200.67h1.40v1.40h-1.40zM492.30 200.67h1.40v1.40h-1.40zM498.56 200.67h1.40v1.40h-1.40zM504.83 200.67h1.40v1.40h-1.40zM511.10 200.67h1.40v1.40h-1.40zM517.36 200.67h1.40v1.40h-1.40zM523.63 200.67h1.40v1.40h-1.40zM529.89 200.67h1.40v1.40h-1.40zM536.16 200.67h1.40v1.40h-1.40zM542.43 200.67h1.40v1.40h-1.40zM548.69 200.67h1.40v1.40h-1.40zM554.96 200.67h1.40v1.40h-1.40zM561.22 200.67h1.40v1.40h-1.40zM567.49 200.67h1.40v1.40h-1.40zM573.76 200.67h1.40v1.40h-1.40zM580.02 200.67h1.40v1.40h-1.40zM586.29 200.67h1.40v1.40h-1.40zM592.55 200.67h1.40v1.40h-1.40zM598.82 200.67h1.40v1.40h-1.40zM605.09 200.67h1.40v1.40h-1.40zM611.35 200.67h1.40v1.40h-1.40zM617.62 200.67h1.40v1.40h-1.40zM623.88 200.67h1.40v1.40h-1.40zM630.15 200.67h1.40v1.40h-1.40zM636.42 200.67h1.40v1.40h-1.40zM642.68 200.67h1.40v1.40h-1.40zM648.95 200.67h1.40v1.40h-1.40zM655.21 200.67h1.40v1.40h-1.40zM661.48 200.67h1.40v1.40h-1.40zM667.75 200.67h1.40v1.40h-1.40zM674.01 200.67h1.40v1.40h-1.40zM680.28 200.67h1.40v1.40h-1.40zM686.54 200.67h1.40v1.40h-1.40zM692.81 200.67h1.40v1.40h-1.40zM699.08 200.67h1.40v1.40h-1.40zM705.34 200.67h1.40v1.40h-1.40zM711.61 200.67h1.40v1.40h-1.40zM717.87 200.67h1.40v1.40h-1.40zM724.14 200.67h1.40v1.40h-1.40zM730.41 200.67h1.40v1.40h-1.40zM736.67 200.67h1.40v1.40h-1.40zM742.94 200.67h1.40v1.40h-1.40zM749.20 200.67h1.40v1.40h-1.40zM755.47 200.67h1.40v1.40h-1.40zM761.74 200.67h1.40v1.40h-1.40zM768.00 200.67h1.40v1.40h-1.40zM774.27 200.67h1.40v1.40h-1.40zM780.53 200.67h1.40v1.40h-1.40zM786.80 200.67h1.40v1.40h-1.40zM793.07 200.67h1.40v1.40h-1.40zM799.33 200.67h1.40v1.40h-1.40zM805.60 200.67h1.40v1.40h-1.40zM811.86 200.67h1.40v1.40h-1.40zM818.13 200.67h1.40v1.40h-1.40zM824.40 200.67h1.40v1.40h-1.40zM830.66 200.67h1.40v1.40h-1.40zM836.93 200.67h1.40v1.40h-1.40zM843.19 200.67h1.40v1.40h-1.40zM849.46 200.67h1.40v1.40h-1.40zM855.73 200.67h1.40v1.40h-1.40zM861.99 200.67h1.40v1.40h-1.40zM3.55 177.56h1.40v1.40h-1.40zM9.82 177.56h1.40v1.40h-1.40zM16.08 177.56h1.40v1.40h-1.40zM22.35 177.56h1.40v1.40h-1.40zM28.61 177.56h1.40v1.40h-1.40zM34.88 177.56h1.40v1.40h-1.40zM41.15 177.56h1.40v1.40h-1.40zM47.41 177.56h1.40v1.40h-1.40zM53.68 177.56h1.40v1.40h-1.40zM59.94 177.56h1.40v1.40h-1.40zM66.21 177.56h1.40v1.40h-1.40zM72.48 177.56h1.40v1.40h-1.40zM78.74 177.56h1.40v1.40h-1.40zM85.01 177.56h1.40v1.40h-1.40zM91.27 177.56h1.40v1.40h-1.40zM97.54 177.56h1.40v1.40h-1.40zM103.81 177.56h1.40v1.40h-1.40zM110.07 177.56h1.40v1.40h-1.40zM116.34 177.56h1.40v1.40h-1.40zM122.60 177.56h1.40v1.40h-1.40zM128.87 177.56h1.40v1.40h-1.40zM135.14 177.56h1.40v1.40h-1.40zM141.40 177.56h1.40v1.40h-1.40zM147.67 177.56h1.40v1.40h-1.40zM153.93 177.56h1.40v1.40h-1.40zM160.20 177.56h1.40v1.40h-1.40zM166.47 177.56h1.40v1.40h-1.40zM172.73 177.56h1.40v1.40h-1.40zM179.00 177.56h1.40v1.40h-1.40zM185.26 177.56h1.40v1.40h-1.40zM191.53 177.56h1.40v1.40h-1.40zM197.80 177.56h1.40v1.40h-1.40zM204.06 177.56h1.40v1.40h-1.40zM210.33 177.56h1.40v1.40h-1.40zM216.59 177.56h1.40v1.40h-1.40zM222.86 177.56h1.40v1.40h-1.40zM229.13 177.56h1.40v1.40h-1.40zM235.39 177.56h1.40v1.40h-1.40zM241.66 177.56h1.40v1.40h-1.40zM247.92 177.56h1.40v1.40h-1.40zM254.19 177.56h1.40v1.40h-1.40zM260.46 177.56h1.40v1.40h-1.40zM266.72 177.56h1.40v1.40h-1.40zM272.99 177.56h1.40v1.40h-1.40zM279.25 177.56h1.40v1.40h-1.40zM285.52 177.56h1.40v1.40h-1.40zM291.79 177.56h1.40v1.40h-1.40zM298.05 177.56h1.40v1.40h-1.40zM304.32 177.56h1.40v1.40h-1.40zM310.58 177.56h1.40v1.40h-1.40zM316.85 177.56h1.40v1.40h-1.40zM323.12 177.56h1.40v1.40h-1.40zM329.38 177.56h1.40v1.40h-1.40zM335.65 177.56h1.40v1.40h-1.40zM341.91 177.56h1.40v1.40h-1.40zM348.18 177.56h1.40v1.40h-1.40zM354.45 177.56h1.40v1.40h-1.40zM360.71 177.56h1.40v1.40h-1.40zM366.98 177.56h1.40v1.40h-1.40zM373.24 177.56h1.40v1.40h-1.40zM379.51 177.56h1.40v1.40h-1.40zM385.78 177.56h1.40v1.40h-1.40zM392.04 177.56h1.40v1.40h-1.40zM398.31 177.56h1.40v1.40h-1.40zM404.57 177.56h1.40v1.40h-1.40zM410.84 177.56h1.40v1.40h-1.40zM417.11 177.56h1.40v1.40h-1.40zM423.37 177.56h1.40v1.40h-1.40zM429.64 177.56h1.40v1.40h-1.40zM435.90 177.56h1.40v1.40h-1.40zM442.17 177.56h1.40v1.40h-1.40zM448.44 177.56h1.40v1.40h-1.40zM454.70 177.56h1.40v1.40h-1.40zM460.97 177.56h1.40v1.40h-1.40zM467.23 177.56h1.40v1.40h-1.40zM473.50 177.56h1.40v1.40h-1.40zM479.77 177.56h1.40v1.40h-1.40zM486.03 177.56h1.40v1.40h-1.40zM492.30 177.56h1.40v1.40h-1.40zM498.56 177.56h1.40v1.40h-1.40zM504.83 177.56h1.40v1.40h-1.40zM511.10 177.56h1.40v1.40h-1.40zM517.36 177.56h1.40v1.40h-1.40zM523.63 177.56h1.40v1.40h-1.40zM529.89 177.56h1.40v1.40h-1.40zM536.16 177.56h1.40v1.40h-1.40zM542.43 177.56h1.40v1.40h-1.40zM548.69 177.56h1.40v1.40h-1.40zM554.96 177.56h1.40v1.40h-1.40zM561.22 177.56h1.40v1.40h-1.40zM567.49 177.56h1.40v1.40h-1.40zM573.76 177.56h1.40v1.40h-1.40zM580.02 177.56h1.40v1.40h-1.40zM586.29 177.56h1.40v1.40h-1.40zM592.55 177.56h1.40v1.40h-1.40zM598.82 177.56h1.40v1.40h-1.40zM605.09 177.56h1.40v1.40h-1.40zM611.35 177.56h1.40v1.40h-1.40zM617.62 177.56h1.40v1.40h-1.40zM623.88 177.56h1.40v1.40h-1.40zM630.15 177.56h1.40v1.40h-1.40zM636.42 177.56h1.40v1.40h-1.40zM642.68 177.56h1.40v1.40h-1.40zM648.95 177.56h1.40v1.40h-1.40zM655.21 177.56h1.40v1.40h-1.40zM661.48 177.56h1.40v1.40h-1.40zM667.75 177.56h1.40v1.40h-1.40zM674.01 177.56h1.40v1.40h-1.40zM680.28 177.56h1.40v1.40h-1.40zM686.54 177.56h1.40v1.40h-1.40zM692.81 177.56h1.40v1.40h-1.40zM699.08 177.56h1.40v1.40h-1.40zM705.34 177.56h1.40v1.40h-1.40zM711.61 177.56h1.40v1.40h-1.40zM717.87 177.56h1.40v1.40h-1.40zM724.14 177.56h1.40v1.40h-1.40zM730.41 177.56h1.40v1.40h-1.40zM736.67 177.56h1.40v1.40h-1.40zM742.94 177.56h1.40v1.40h-1.40zM749.20 177.56h1.40v1.40h-1.40zM755.47 177.56h1.40v1.40h-1.40zM761.74 177.56h1.40v1.40h-1.40zM768.00 177.56h1.40v1.40h-1.40zM774.27 177.56h1.40v1.40h-1.40zM780.53 177.56h1.40v1.40h-1.40zM786.80 177.56h1.40v1.40h-1.40zM793.07 177.56h1.40v1.40h-1.40zM799.33 177.56h1.40v1.40h-1.40zM805.60 177.56h1.40v1.40h-1.40zM811.86 177.56h1.40v1.40h-1.40zM818.13 177.56h1.40v1.40h-1.40zM824.40 177.56h1.40v1.40h-1.40zM830.66 177.56h1.40v1.40h-1.40zM836.93 177.56h1.40v1.40h-1.40zM843.19 177.56h1.40v1.40h-1.40zM849.46 177.56h1.40v1.40h-1.40zM855.73 177.56h1.40v1.40h-1.40zM861.99 177.56h1.40v1.40h-1.40zM3.55 154.45h1.40v1.40h-1.40zM9.82 154.45h1.40v1.40h-1.40zM16.08 154.45h1.40v1.40h-1.40zM22.35 154.45h1.40v1.40h-1.40zM28.61 154.45h1.40v1.40h-1.40zM34.88 154.45h1.40v1.40h-1.40zM41.15 154.45h1.40v1.40h-1.40zM47.41 154.45h1.40v1.40h-1.40zM53.68 154.45h1.40v1.40h-1.40zM59.94 154.45h1.40v1.40h-1.40zM66.21 154.45h1.40v1.40h-1.40zM72.48 154.45h1.40v1.40h-1.40zM78.74 154.45h1.40v1.40h-1.40zM85.01 154.45h1.40v1.40h-1.40zM91.27 154.45h1.40v1.40h-1.40zM97.54 154.45h1.40v1.40h-1.40zM103.81 154.45h1.40v1.40h-1.40zM110.07 154.45h1.40v1.40h-1.40zM116.34 154.45h1.40v1.40h-1.40zM122.60 154.45h1.40v1.40h-1.40zM128.87 154.45h1.40v1.40h-1.40zM135.14 154.45h1.40v1.40h-1.40zM141.40 154.45h1.40v1.40h-1.40zM147.67 154.45h1.40v1.40h-1.40zM153.93 154.45h1.40v1.40h-1.40zM160.20 154.45h1.40v1.40h-1.40zM166.47 154.45h1.40v1.40h-1.40zM172.73 154.45h1.40v1.40h-1.40zM179.00 154.45h1.40v1.40h-1.40zM185.26 154.45h1.40v1.40h-1.40zM191.53 154.45h1.40v1.40h-1.40zM197.80 154.45h1.40v1.40h-1.40zM204.06 154.45h1.40v1.40h-1.40zM210.33 154.45h1.40v1.40h-1.40zM216.59 154.45h1.40v1.40h-1.40zM222.86 154.45h1.40v1.40h-1.40zM229.13 154.45h1.40v1.40h-1.40zM235.39 154.45h1.40v1.40h-1.40zM241.66 154.45h1.40v1.40h-1.40zM247.92 154.45h1.40v1.40h-1.40zM254.19 154.45h1.40v1.40h-1.40zM260.46 154.45h1.40v1.40h-1.40zM266.72 154.45h1.40v1.40h-1.40zM272.99 154.45h1.40v1.40h-1.40zM279.25 154.45h1.40v1.40h-1.40zM285.52 154.45h1.40v1.40h-1.40zM291.79 154.45h1.40v1.40h-1.40zM298.05 154.45h1.40v1.40h-1.40zM304.32 154.45h1.40v1.40h-1.40zM310.58 154.45h1.40v1.40h-1.40zM316.85 154.45h1.40v1.40h-1.40zM323.12 154.45h1.40v1.40h-1.40zM329.38 154.45h1.40v1.40h-1.40zM335.65 154.45h1.40v1.40h-1.40zM341.91 154.45h1.40v1.40h-1.40zM348.18 154.45h1.40v1.40h-1.40zM354.45 154.45h1.40v1.40h-1.40zM360.71 154.45h1.40v1.40h-1.40zM366.98 154.45h1.40v1.40h-1.40zM373.24 154.45h1.40v1.40h-1.40zM379.51 154.45h1.40v1.40h-1.40zM385.78 154.45h1.40v1.40h-1.40zM392.04 154.45h1.40v1.40h-1.40zM398.31 154.45h1.40v1.40h-1.40zM404.57 154.45h1.40v1.40h-1.40zM410.84 154.45h1.40v1.40h-1.40zM417.11 154.45h1.40v1.40h-1.40zM423.37 154.45h1.40v1.40h-1.40zM429.64 154.45h1.40v1.40h-1.40zM435.90 154.45h1.40v1.40h-1.40zM442.17 154.45h1.40v1.40h-1.40zM448.44 154.45h1.40v1.40h-1.40zM454.70 154.45h1.40v1.40h-1.40zM460.97 154.45h1.40v1.40h-1.40zM467.23 154.45h1.40v1.40h-1.40zM473.50 154.45h1.40v1.40h-1.40zM479.77 154.45h1.40v1.40h-1.40zM486.03 154.45h1.40v1.40h-1.40zM492.30 154.45h1.40v1.40h-1.40zM498.56 154.45h1.40v1.40h-1.40zM504.83 154.45h1.40v1.40h-1.40zM511.10 154.45h1.40v1.40h-1.40zM517.36 154.45h1.40v1.40h-1.40zM523.63 154.45h1.40v1.40h-1.40zM529.89 154.45h1.40v1.40h-1.40zM536.16 154.45h1.40v1.40h-1.40zM542.43 154.45h1.40v1.40h-1.40zM548.69 154.45h1.40v1.40h-1.40zM554.96 154.45h1.40v1.40h-1.40zM561.22 154.45h1.40v1.40h-1.40zM567.49 154.45h1.40v1.40h-1.40zM573.76 154.45h1.40v1.40h-1.40zM580.02 154.45h1.40v1.40h-1.40zM586.29 154.45h1.40v1.40h-1.40zM592.55 154.45h1.40v1.40h-1.40zM598.82 154.45h1.40v1.40h-1.40zM605.09 154.45h1.40v1.40h-1.40zM611.35 154.45h1.40v1.40h-1.40zM617.62 154.45h1.40v1.40h-1.40zM623.88 154.45h1.40v1.40h-1.40zM630.15 154.45h1.40v1.40h-1.40zM636.42 154.45h1.40v1.40h-1.40zM642.68 154.45h1.40v1.40h-1.40zM648.95 154.45h1.40v1.40h-1.40zM655.21 154.45h1.40v1.40h-1.40zM661.48 154.45h1.40v1.40h-1.40zM667.75 154.45h1.40v1.40h-1.40zM674.01 154.45h1.40v1.40h-1.40zM680.28 154.45h1.40v1.40h-1.40zM686.54 154.45h1.40v1.40h-1.40zM692.81 154.45h1.40v1.40h-1.40zM699.08 154.45h1.40v1.40h-1.40zM705.34 154.45h1.40v1.40h-1.40zM711.61 154.45h1.40v1.40h-1.40zM717.87 154.45h1.40v1.40h-1.40zM724.14 154.45h1.40v1.40h-1.40zM730.41 154.45h1.40v1.40h-1.40zM736.67 154.45h1.40v1.40h-1.40zM742.94 154.45h1.40v1.40h-1.40zM749.20 154.45h1.40v1.40h-1.40zM755.47 154.45h1.40v1.40h-1.40zM761.74 154.45h1.40v1.40h-1.40zM768.00 154.45h1.40v1.40h-1.40zM774.27 154.45h1.40v1.40h-1.40zM780.53 154.45h1.40v1.40h-1.40zM786.80 154.45h1.40v1.40h-1.40zM793.07 154.45h1.40v1.40h-1.40zM799.33 154.45h1.40v1.40h-1.40zM805.60 154.45h1.40v1.40h-1.40zM811.86 154.45h1.40v1.40h-1.40zM818.13 154.45h1.40v1.40h-1.40zM824.40 154.45h1.40v1.40h-1.40zM830.66 154.45h1.40v1.40h-1.40zM836.93 154.45h1.40v1.40h-1.40zM843.19 154.45h1.40v1.40h-1.40zM849.46 154.45h1.40v1.40h-1.40zM855.73 154.45h1.40v1.40h-1.40zM861.99 154.45h1.40v1.40h-1.40zM3.55 131.34h1.40v1.40h-1.40zM9.82 131.34h1.40v1.40h-1.40zM16.08 131.34h1.40v1.40h-1.40zM22.35 131.34h1.40v1.40h-1.40zM28.61 131.34h1.40v1.40h-1.40zM34.88 131.34h1.40v1.40h-1.40zM41.15 131.34h1.40v1.40h-1.40zM47.41 131.34h1.40v1.40h-1.40zM53.68 131.34h1.40v1.40h-1.40zM59.94 131.34h1.40v1.40h-1.40zM66.21 131.34h1.40v1.40h-1.40zM72.48 131.34h1.40v1.40h-1.40zM78.74 131.34h1.40v1.40h-1.40zM85.01 131.34h1.40v1.40h-1.40zM91.27 131.34h1.40v1.40h-1.40zM97.54 131.34h1.40v1.40h-1.40zM103.81 131.34h1.40v1.40h-1.40zM110.07 131.34h1.40v1.40h-1.40zM116.34 131.34h1.40v1.40h-1.40zM122.60 131.34h1.40v1.40h-1.40zM128.87 131.34h1.40v1.40h-1.40zM135.14 131.34h1.40v1.40h-1.40zM141.40 131.34h1.40v1.40h-1.40zM147.67 131.34h1.40v1.40h-1.40zM153.93 131.34h1.40v1.40h-1.40zM160.20 131.34h1.40v1.40h-1.40zM166.47 131.34h1.40v1.40h-1.40zM172.73 131.34h1.40v1.40h-1.40zM179.00 131.34h1.40v1.40h-1.40zM185.26 131.34h1.40v1.40h-1.40zM191.53 131.34h1.40v1.40h-1.40zM197.80 131.34h1.40v1.40h-1.40zM204.06 131.34h1.40v1.40h-1.40zM210.33 131.34h1.40v1.40h-1.40zM216.59 131.34h1.40v1.40h-1.40zM222.86 131.34h1.40v1.40h-1.40zM229.13 131.34h1.40v1.40h-1.40zM235.39 131.34h1.40v1.40h-1.40zM241.66 131.34h1.40v1.40h-1.40zM247.92 131.34h1.40v1.40h-1.40zM254.19 131.34h1.40v1.40h-1.40zM260.46 131.34h1.40v1.40h-1.40zM266.72 131.34h1.40v1.40h-1.40zM272.99 131.34h1.40v1.40h-1.40zM279.25 131.34h1.40v1.40h-1.40zM285.52 131.34h1.40v1.40h-1.40zM291.79 131.34h1.40v1.40h-1.40zM298.05 131.34h1.40v1.40h-1.40zM304.32 131.34h1.40v1.40h-1.40zM310.58 131.34h1.40v1.40h-1.40zM316.85 131.34h1.40v1.40h-1.40zM323.12 131.34h1.40v1.40h-1.40zM329.38 131.34h1.40v1.40h-1.40zM335.65 131.34h1.40v1.40h-1.40zM341.91 131.34h1.40v1.40h-1.40zM348.18 131.34h1.40v1.40h-1.40zM354.45 131.34h1.40v1.40h-1.40zM360.71 131.34h1.40v1.40h-1.40zM366.98 131.34h1.40v1.40h-1.40zM373.24 131.34h1.40v1.40h-1.40zM379.51 131.34h1.40v1.40h-1.40zM385.78 131.34h1.40v1.40h-1.40zM392.04 131.34h1.40v1.40h-1.40zM398.31 131.34h1.40v1.40h-1.40zM404.57 131.34h1.40v1.40h-1.40zM410.84 131.34h1.40v1.40h-1.40zM417.11 131.34h1.40v1.40h-1.40zM423.37 131.34h1.40v1.40h-1.40zM429.64 131.34h1.40v1.40h-1.40zM435.90 131.34h1.40v1.40h-1.40zM442.17 131.34h1.40v1.40h-1.40zM448.44 131.34h1.40v1.40h-1.40zM454.70 131.34h1.40v1.40h-1.40zM460.97 131.34h1.40v1.40h-1.40zM467.23 131.34h1.40v1.40h-1.40zM473.50 131.34h1.40v1.40h-1.40zM479.77 131.34h1.40v1.40h-1.40zM486.03 131.34h1.40v1.40h-1.40zM492.30 131.34h1.40v1.40h-1.40zM498.56 131.34h1.40v1.40h-1.40zM504.83 131.34h1.40v1.40h-1.40zM511.10 131.34h1.40v1.40h-1.40zM517.36 131.34h1.40v1.40h-1.40zM523.63 131.34h1.40v1.40h-1.40zM529.89 131.34h1.40v1.40h-1.40zM536.16 131.34h1.40v1.40h-1.40zM542.43 131.34h1.40v1.40h-1.40zM548.69 131.34h1.40v1.40h-1.40zM554.96 131.34h1.40v1.40h-1.40zM561.22 131.34h1.40v1.40h-1.40zM567.49 131.34h1.40v1.40h-1.40zM573.76 131.34h1.40v1.40h-1.40zM580.02 131.34h1.40v1.40h-1.40zM586.29 131.34h1.40v1.40h-1.40zM592.55 131.34h1.40v1.40h-1.40zM598.82 131.34h1.40v1.40h-1.40zM605.09 131.34h1.40v1.40h-1.40zM611.35 131.34h1.40v1.40h-1.40zM617.62 131.34h1.40v1.40h-1.40zM623.88 131.34h1.40v1.40h-1.40zM630.15 131.34h1.40v1.40h-1.40zM636.42 131.34h1.40v1.40h-1.40zM642.68 131.34h1.40v1.40h-1.40zM648.95 131.34h1.40v1.40h-1.40zM655.21 131.34h1.40v1.40h-1.40zM661.48 131.34h1.40v1.40h-1.40zM667.75 131.34h1.40v1.40h-1.40zM674.01 131.34h1.40v1.40h-1.40zM680.28 131.34h1.40v1.40h-1.40zM686.54 131.34h1.40v1.40h-1.40zM692.81 131.34h1.40v1.40h-1.40zM699.08 131.34h1.40v1.40h-1.40zM705.34 131.34h1.40v1.40h-1.40zM711.61 131.34h1.40v1.40h-1.40zM717.87 131.34h1.40v1.40h-1.40zM724.14 131.34h1.40v1.40h-1.40zM730.41 131.34h1.40v1.40h-1.40zM736.67 131.34h1.40v1.40h-1.40zM742.94 131.34h1.40v1.40h-1.40zM749.20 131.34h1.40v1.40h-1.40zM755.47 131.34h1.40v1.40h-1.40zM761.74 131.34h1.40v1.40h-1.40zM768.00 131.34h1.40v1.40h-1.40zM774.27 131.34h1.40v1.40h-1.40zM780.53 131.34h1.40v1.40h-1.40zM786.80 131.34h1.40v1.40h-1.40zM793.07 131.34h1.40v1.40h-1.40zM799.33 131.34h1.40v1.40h-1.40zM805.60 131.34h1.40v1.40h-1.40zM811.86 131.34h1.40v1.40h-1.40zM818.13 131.34h1.40v1.40h-1.40zM824.40 131.34h1.40v1.40h-1.40zM830.66 131.34h1.40v1.40h-1.40zM836.93 131.34h1.40v1.40h-1.40zM843.19 131.34h1.40v1.40h-1.40zM849.46 131.34h1.40v1.40h-1.40zM855.73 131.34h1.40v1.40h-1.40zM861.99 131.34h1.40v1.40h-1.40zM3.55 108.23h1.40v1.40h-1.40zM9.82 108.23h1.40v1.40h-1.40zM16.08 108.23h1.40v1.40h-1.40zM22.35 108.23h1.40v1.40h-1.40zM28.61 108.23h1.40v1.40h-1.40zM34.88 108.23h1.40v1.40h-1.40zM41.15 108.23h1.40v1.40h-1.40zM47.41 108.23h1.40v1.40h-1.40zM53.68 108.23h1.40v1.40h-1.40zM59.94 108.23h1.40v1.40h-1.40zM66.21 108.23h1.40v1.40h-1.40zM72.48 108.23h1.40v1.40h-1.40zM78.74 108.23h1.40v1.40h-1.40zM85.01 108.23h1.40v1.40h-1.40zM91.27 108.23h1.40v1.40h-1.40zM97.54 108.23h1.40v1.40h-1.40zM103.81 108.23h1.40v1.40h-1.40zM110.07 108.23h1.40v1.40h-1.40zM116.34 108.23h1.40v1.40h-1.40zM122.60 108.23h1.40v1.40h-1.40zM128.87 108.23h1.40v1.40h-1.40zM135.14 108.23h1.40v1.40h-1.40zM141.40 108.23h1.40v1.40h-1.40zM147.67 108.23h1.40v1.40h-1.40zM153.93 108.23h1.40v1.40h-1.40zM160.20 108.23h1.40v1.40h-1.40zM166.47 108.23h1.40v1.40h-1.40zM172.73 108.23h1.40v1.40h-1.40zM179.00 108.23h1.40v1.40h-1.40zM185.26 108.23h1.40v1.40h-1.40zM191.53 108.23h1.40v1.40h-1.40zM197.80 108.23h1.40v1.40h-1.40zM204.06 108.23h1.40v1.40h-1.40zM210.33 108.23h1.40v1.40h-1.40zM216.59 108.23h1.40v1.40h-1.40zM222.86 108.23h1.40v1.40h-1.40zM229.13 108.23h1.40v1.40h-1.40zM235.39 108.23h1.40v1.40h-1.40zM241.66 108.23h1.40v1.40h-1.40zM247.92 108.23h1.40v1.40h-1.40zM254.19 108.23h1.40v1.40h-1.40zM260.46 108.23h1.40v1.40h-1.40zM266.72 108.23h1.40v1.40h-1.40zM272.99 108.23h1.40v1.40h-1.40zM279.25 108.23h1.40v1.40h-1.40zM285.52 108.23h1.40v1.40h-1.40zM291.79 108.23h1.40v1.40h-1.40zM298.05 108.23h1.40v1.40h-1.40zM304.32 108.23h1.40v1.40h-1.40zM310.58 108.23h1.40v1.40h-1.40zM316.85 108.23h1.40v1.40h-1.40zM323.12 108.23h1.40v1.40h-1.40zM329.38 108.23h1.40v1.40h-1.40zM335.65 108.23h1.40v1.40h-1.40zM341.91 108.23h1.40v1.40h-1.40zM348.18 108.23h1.40v1.40h-1.40zM354.45 108.23h1.40v1.40h-1.40zM360.71 108.23h1.40v1.40h-1.40zM366.98 108.23h1.40v1.40h-1.40zM373.24 108.23h1.40v1.40h-1.40zM379.51 108.23h1.40v1.40h-1.40zM385.78 108.23h1.40v1.40h-1.40zM392.04 108.23h1.40v1.40h-1.40zM398.31 108.23h1.40v1.40h-1.40zM404.57 108.23h1.40v1.40h-1.40zM410.84 108.23h1.40v1.40h-1.40zM417.11 108.23h1.40v1.40h-1.40zM423.37 108.23h1.40v1.40h-1.40zM429.64 108.23h1.40v1.40h-1.40zM435.90 108.23h1.40v1.40h-1.40zM442.17 108.23h1.40v1.40h-1.40zM448.44 108.23h1.40v1.40h-1.40zM454.70 108.23h1.40v1.40h-1.40zM460.97 108.23h1.40v1.40h-1.40zM467.23 108.23h1.40v1.40h-1.40zM473.50 108.23h1.40v1.40h-1.40zM479.77 108.23h1.40v1.40h-1.40zM486.03 108.23h1.40v1.40h-1.40zM492.30 108.23h1.40v1.40h-1.40zM498.56 108.23h1.40v1.40h-1.40zM504.83 108.23h1.40v1.40h-1.40zM511.10 108.23h1.40v1.40h-1.40zM517.36 108.23h1.40v1.40h-1.40zM523.63 108.23h1.40v1.40h-1.40zM529.89 108.23h1.40v1.40h-1.40zM536.16 108.23h1.40v1.40h-1.40zM542.43 108.23h1.40v1.40h-1.40zM548.69 108.23h1.40v1.40h-1.40zM554.96 108.23h1.40v1.40h-1.40zM561.22 108.23h1.40v1.40h-1.40zM567.49 108.23h1.40v1.40h-1.40zM573.76 108.23h1.40v1.40h-1.40zM580.02 108.23h1.40v1.40h-1.40zM586.29 108.23h1.40v1.40h-1.40zM592.55 108.23h1.40v1.40h-1.40zM598.82 108.23h1.40v1.40h-1.40zM605.09 108.23h1.40v1.40h-1.40zM611.35 108.23h1.40v1.40h-1.40zM617.62 108.23h1.40v1.40h-1.40zM623.88 108.23h1.40v1.40h-1.40zM630.15 108.23h1.40v1.40h-1.40zM636.42 108.23h1.40v1.40h-1.40zM642.68 108.23h1.40v1.40h-1.40zM648.95 108.23h1.40v1.40h-1.40zM655.21 108.23h1.40v1.40h-1.40zM661.48 108.23h1.40v1.40h-1.40zM667.75 108.23h1.40v1.40h-1.40zM674.01 108.23h1.40v1.40h-1.40zM680.28 108.23h1.40v1.40h-1.40zM686.54 108.23h1.40v1.40h-1.40zM692.81 108.23h1.40v1.40h-1.40zM699.08 108.23h1.40v1.40h-1.40zM705.34 108.23h1.40v1.40h-1.40zM711.61 108.23h1.40v1.40h-1.40zM717.87 108.23h1.40v1.40h-1.40zM724.14 108.23h1.40v1.40h-1.40zM730.41 108.23h1.40v1.40h-1.40zM736.67 108.23h1.40v1.40h-1.40zM742.94 108.23h1.40v1.40h-1.40zM749.20 108.23h1.40v1.40h-1.40zM755.47 108.23h1.40v1.40h-1.40zM761.74 108.23h1.40v1.40h-1.40zM768.00 108.23h1.40v1.40h-1.40zM774.27 108.23h1.40v1.40h-1.40zM780.53 108.23h1.40v1.40h-1.40zM786.80 108.23h1.40v1.40h-1.40zM793.07 108.23h1.40v1.40h-1.40zM799.33 108.23h1.40v1.40h-1.40zM805.60 108.23h1.40v1.40h-1.40zM811.86 108.23h1.40v1.40h-1.40zM818.13 108.23h1.40v1.40h-1.40zM824.40 108.23h1.40v1.40h-1.40zM830.66 108.23h1.40v1.40h-1.40zM836.93 108.23h1.40v1.40h-1.40zM843.19 108.23h1.40v1.40h-1.40zM849.46 108.23h1.40v1.40h-1.40zM855.73 108.23h1.40v1.40h-1.40zM861.99 108.23h1.40v1.40h-1.40zM3.55 85.12h1.40v1.40h-1.40zM9.82 85.12h1.40v1.40h-1.40zM16.08 85.12h1.40v1.40h-1.40zM22.35 85.12h1.40v1.40h-1.40zM28.61 85.12h1.40v1.40h-1.40zM34.88 85.12h1.40v1.40h-1.40zM41.15 85.12h1.40v1.40h-1.40zM47.41 85.12h1.40v1.40h-1.40zM53.68 85.12h1.40v1.40h-1.40zM59.94 85.12h1.40v1.40h-1.40zM66.21 85.12h1.40v1.40h-1.40zM72.48 85.12h1.40v1.40h-1.40zM78.74 85.12h1.40v1.40h-1.40zM85.01 85.12h1.40v1.40h-1.40zM91.27 85.12h1.40v1.40h-1.40zM97.54 85.12h1.40v1.40h-1.40zM103.81 85.12h1.40v1.40h-1.40zM110.07 85.12h1.40v1.40h-1.40zM116.34 85.12h1.40v1.40h-1.40zM122.60 85.12h1.40v1.40h-1.40zM128.87 85.12h1.40v1.40h-1.40zM135.14 85.12h1.40v1.40h-1.40zM141.40 85.12h1.40v1.40h-1.40zM147.67 85.12h1.40v1.40h-1.40zM153.93 85.12h1.40v1.40h-1.40zM160.20 85.12h1.40v1.40h-1.40zM166.47 85.12h1.40v1.40h-1.40zM172.73 85.12h1.40v1.40h-1.40zM179.00 85.12h1.40v1.40h-1.40zM185.26 85.12h1.40v1.40h-1.40zM191.53 85.12h1.40v1.40h-1.40zM197.80 85.12h1.40v1.40h-1.40zM204.06 85.12h1.40v1.40h-1.40zM210.33 85.12h1.40v1.40h-1.40zM216.59 85.12h1.40v1.40h-1.40zM222.86 85.12h1.40v1.40h-1.40zM229.13 85.12h1.40v1.40h-1.40zM235.39 85.12h1.40v1.40h-1.40zM241.66 85.12h1.40v1.40h-1.40zM247.92 85.12h1.40v1.40h-1.40zM254.19 85.12h1.40v1.40h-1.40zM260.46 85.12h1.40v1.40h-1.40zM266.72 85.12h1.40v1.40h-1.40zM272.99 85.12h1.40v1.40h-1.40zM279.25 85.12h1.40v1.40h-1.40zM285.52 85.12h1.40v1.40h-1.40zM291.79 85.12h1.40v1.40h-1.40zM298.05 85.12h1.40v1.40h-1.40zM304.32 85.12h1.40v1.40h-1.40zM310.58 85.12h1.40v1.40h-1.40zM316.85 85.12h1.40v1.40h-1.40zM323.12 85.12h1.40v1.40h-1.40zM329.38 85.12h1.40v1.40h-1.40zM335.65 85.12h1.40v1.40h-1.40zM341.91 85.12h1.40v1.40h-1.40zM348.18 85.12h1.40v1.40h-1.40zM354.45 85.12h1.40v1.40h-1.40zM360.71 85.12h1.40v1.40h-1.40zM366.98 85.12h1.40v1.40h-1.40zM373.24 85.12h1.40v1.40h-1.40zM379.51 85.12h1.40v1.40h-1.40zM385.78 85.12h1.40v1.40h-1.40zM392.04 85.12h1.40v1.40h-1.40zM398.31 85.12h1.40v1.40h-1.40zM404.57 85.12h1.40v1.40h-1.40zM410.84 85.12h1.40v1.40h-1.40zM417.11 85.12h1.40v1.40h-1.40zM423.37 85.12h1.40v1.40h-1.40zM429.64 85.12h1.40v1.40h-1.40zM435.90 85.12h1.40v1.40h-1.40zM442.17 85.12h1.40v1.40h-1.40zM448.44 85.12h1.40v1.40h-1.40zM454.70 85.12h1.40v1.40h-1.40zM460.97 85.12h1.40v1.40h-1.40zM467.23 85.12h1.40v1.40h-1.40zM473.50 85.12h1.40v1.40h-1.40zM479.77 85.12h1.40v1.40h-1.40zM486.03 85.12h1.40v1.40h-1.40zM492.30 85.12h1.40v1.40h-1.40zM498.56 85.12h1.40v1.40h-1.40zM504.83 85.12h1.40v1.40h-1.40zM511.10 85.12h1.40v1.40h-1.40zM517.36 85.12h1.40v1.40h-1.40zM523.63 85.12h1.40v1.40h-1.40zM529.89 85.12h1.40v1.40h-1.40zM536.16 85.12h1.40v1.40h-1.40zM542.43 85.12h1.40v1.40h-1.40zM548.69 85.12h1.40v1.40h-1.40zM554.96 85.12h1.40v1.40h-1.40zM561.22 85.12h1.40v1.40h-1.40zM567.49 85.12h1.40v1.40h-1.40zM573.76 85.12h1.40v1.40h-1.40zM580.02 85.12h1.40v1.40h-1.40zM586.29 85.12h1.40v1.40h-1.40zM592.55 85.12h1.40v1.40h-1.40zM598.82 85.12h1.40v1.40h-1.40zM605.09 85.12h1.40v1.40h-1.40zM611.35 85.12h1.40v1.40h-1.40zM617.62 85.12h1.40v1.40h-1.40zM623.88 85.12h1.40v1.40h-1.40zM630.15 85.12h1.40v1.40h-1.40zM636.42 85.12h1.40v1.40h-1.40zM642.68 85.12h1.40v1.40h-1.40zM648.95 85.12h1.40v1.40h-1.40zM655.21 85.12h1.40v1.40h-1.40zM661.48 85.12h1.40v1.40h-1.40zM667.75 85.12h1.40v1.40h-1.40zM674.01 85.12h1.40v1.40h-1.40zM680.28 85.12h1.40v1.40h-1.40zM686.54 85.12h1.40v1.40h-1.40zM692.81 85.12h1.40v1.40h-1.40zM699.08 85.12h1.40v1.40h-1.40zM705.34 85.12h1.40v1.40h-1.40zM711.61 85.12h1.40v1.40h-1.40zM717.87 85.12h1.40v1.40h-1.40zM724.14 85.12h1.40v1.40h-1.40zM730.41 85.12h1.40v1.40h-1.40zM736.67 85.12h1.40v1.40h-1.40zM742.94 85.12h1.40v1.40h-1.40zM749.20 85.12h1.40v1.40h-1.40zM755.47 85.12h1.40v1.40h-1.40zM761.74 85.12h1.40v1.40h-1.40zM768.00 85.12h1.40v1.40h-1.40zM774.27 85.12h1.40v1.40h-1.40zM780.53 85.12h1.40v1.40h-1.40zM786.80 85.12h1.40v1.40h-1.40zM793.07 85.12h1.40v1.40h-1.40zM799.33 85.12h1.40v1.40h-1.40zM805.60 85.12h1.40v1.40h-1.40zM811.86 85.12h1.40v1.40h-1.40zM818.13 85.12h1.40v1.40h-1.40zM824.40 85.12h1.40v1.40h-1.40zM830.66 85.12h1.40v1.40h-1.40zM836.93 85.12h1.40v1.40h-1.40zM843.19 85.12h1.40v1.40h-1.40zM849.46 85.12h1.40v1.40h-1.40zM855.73 85.12h1.40v1.40h-1.40zM861.99 85.12h1.40v1.40h-1.40zM3.55 62.01h1.40v1.40h-1.40zM9.82 62.01h1.40v1.40h-1.40zM16.08 62.01h1.40v1.40h-1.40zM22.35 62.01h1.40v1.40h-1.40zM28.61 62.01h1.40v1.40h-1.40zM34.88 62.01h1.40v1.40h-1.40zM41.15 62.01h1.40v1.40h-1.40zM47.41 62.01h1.40v1.40h-1.40zM53.68 62.01h1.40v1.40h-1.40zM59.94 62.01h1.40v1.40h-1.40zM66.21 62.01h1.40v1.40h-1.40zM72.48 62.01h1.40v1.40h-1.40zM78.74 62.01h1.40v1.40h-1.40zM85.01 62.01h1.40v1.40h-1.40zM91.27 62.01h1.40v1.40h-1.40zM97.54 62.01h1.40v1.40h-1.40zM103.81 62.01h1.40v1.40h-1.40zM110.07 62.01h1.40v1.40h-1.40zM116.34 62.01h1.40v1.40h-1.40zM122.60 62.01h1.40v1.40h-1.40zM128.87 62.01h1.40v1.40h-1.40zM135.14 62.01h1.40v1.40h-1.40zM141.40 62.01h1.40v1.40h-1.40zM147.67 62.01h1.40v1.40h-1.40zM153.93 62.01h1.40v1.40h-1.40zM160.20 62.01h1.40v1.40h-1.40zM166.47 62.01h1.40v1.40h-1.40zM172.73 62.01h1.40v1.40h-1.40zM179.00 62.01h1.40v1.40h-1.40zM185.26 62.01h1.40v1.40h-1.40zM191.53 62.01h1.40v1.40h-1.40zM197.80 62.01h1.40v1.40h-1.40zM204.06 62.01h1.40v1.40h-1.40zM210.33 62.01h1.40v1.40h-1.40zM216.59 62.01h1.40v1.40h-1.40zM222.86 62.01h1.40v1.40h-1.40zM229.13 62.01h1.40v1.40h-1.40zM235.39 62.01h1.40v1.40h-1.40zM241.66 62.01h1.40v1.40h-1.40zM247.92 62.01h1.40v1.40h-1.40zM254.19 62.01h1.40v1.40h-1.40zM260.46 62.01h1.40v1.40h-1.40zM266.72 62.01h1.40v1.40h-1.40zM272.99 62.01h1.40v1.40h-1.40zM279.25 62.01h1.40v1.40h-1.40zM285.52 62.01h1.40v1.40h-1.40zM291.79 62.01h1.40v1.40h-1.40zM298.05 62.01h1.40v1.40h-1.40zM304.32 62.01h1.40v1.40h-1.40zM310.58 62.01h1.40v1.40h-1.40zM316.85 62.01h1.40v1.40h-1.40zM323.12 62.01h1.40v1.40h-1.40zM329.38 62.01h1.40v1.40h-1.40zM335.65 62.01h1.40v1.40h-1.40zM341.91 62.01h1.40v1.40h-1.40zM348.18 62.01h1.40v1.40h-1.40zM354.45 62.01h1.40v1.40h-1.40zM360.71 62.01h1.40v1.40h-1.40zM366.98 62.01h1.40v1.40h-1.40zM373.24 62.01h1.40v1.40h-1.40zM379.51 62.01h1.40v1.40h-1.40zM385.78 62.01h1.40v1.40h-1.40zM392.04 62.01h1.40v1.40h-1.40zM398.31 62.01h1.40v1.40h-1.40zM404.57 62.01h1.40v1.40h-1.40zM410.84 62.01h1.40v1.40h-1.40zM417.11 62.01h1.40v1.40h-1.40zM423.37 62.01h1.40v1.40h-1.40zM429.64 62.01h1.40v1.40h-1.40zM435.90 62.01h1.40v1.40h-1.40zM442.17 62.01h1.40v1.40h-1.40zM448.44 62.01h1.40v1.40h-1.40zM454.70 62.01h1.40v1.40h-1.40zM460.97 62.01h1.40v1.40h-1.40zM467.23 62.01h1.40v1.40h-1.40zM473.50 62.01h1.40v1.40h-1.40zM479.77 62.01h1.40v1.40h-1.40zM486.03 62.01h1.40v1.40h-1.40zM492.30 62.01h1.40v1.40h-1.40zM498.56 62.01h1.40v1.40h-1.40zM504.83 62.01h1.40v1.40h-1.40zM511.10 62.01h1.40v1.40h-1.40zM517.36 62.01h1.40v1.40h-1.40zM523.63 62.01h1.40v1.40h-1.40zM529.89 62.01h1.40v1.40h-1.40zM536.16 62.01h1.40v1.40h-1.40zM542.43 62.01h1.40v1.40h-1.40zM548.69 62.01h1.40v1.40h-1.40zM554.96 62.01h1.40v1.40h-1.40zM561.22 62.01h1.40v1.40h-1.40zM567.49 62.01h1.40v1.40h-1.40zM573.76 62.01h1.40v1.40h-1.40zM580.02 62.01h1.40v1.40h-1.40zM586.29 62.01h1.40v1.40h-1.40zM592.55 62.01h1.40v1.40h-1.40zM598.82 62.01h1.40v1.40h-1.40zM605.09 62.01h1.40v1.40h-1.40zM611.35 62.01h1.40v1.40h-1.40zM617.62 62.01h1.40v1.40h-1.40zM623.88 62.01h1.40v1.40h-1.40zM630.15 62.01h1.40v1.40h-1.40zM636.42 62.01h1.40v1.40h-1.40zM642.68 62.01h1.40v1.40h-1.40zM648.95 62.01h1.40v1.40h-1.40zM655.21 62.01h1.40v1.40h-1.40zM661.48 62.01h1.40v1.40h-1.40zM667.75 62.01h1.40v1.40h-1.40zM674.01 62.01h1.40v1.40h-1.40zM680.28 62.01h1.40v1.40h-1.40zM686.54 62.01h1.40v1.40h-1.40zM692.81 62.01h1.40v1.40h-1.40zM699.08 62.01h1.40v1.40h-1.40zM705.34 62.01h1.40v1.40h-1.40zM711.61 62.01h1.40v1.40h-1.40zM717.87 62.01h1.40v1.40h-1.40zM724.14 62.01h1.40v1.40h-1.40zM730.41 62.01h1.40v1.40h-1.40zM736.67 62.01h1.40v1.40h-1.40zM742.94 62.01h1.40v1.40h-1.40zM749.20 62.01h1.40v1.40h-1.40zM755.47 62.01h1.40v1.40h-1.40zM761.74 62.01h1.40v1.40h-1.40zM768.00 62.01h1.40v1.40h-1.40zM774.27 62.01h1.40v1.40h-1.40zM780.53 62.01h1.40v1.40h-1.40zM786.80 62.01h1.40v1.40h-1.40zM793.07 62.01h1.40v1.40h-1.40zM799.33 62.01h1.40v1.40h-1.40zM805.60 62.01h1.40v1.40h-1.40zM811.86 62.01h1.40v1.40h-1.40zM818.13 62.01h1.40v1.40h-1.40zM824.40 62.01h1.40v1.40h-1.40zM830.66 62.01h1.40v1.40h-1.40zM836.93 62.01h1.40v1.40h-1.40zM843.19 62.01h1.40v1.40h-1.40zM849.46 62.01h1.40v1.40h-1.40zM855.73 62.01h1.40v1.40h-1.40zM861.99 62.01h1.40v1.40h-1.40zM3.55 38.90h1.40v1.40h-1.40zM9.82 38.90h1.40v1.40h-1.40zM16.08 38.90h1.40v1.40h-1.40zM22.35 38.90h1.40v1.40h-1.40zM28.61 38.90h1.40v1.40h-1.40zM34.88 38.90h1.40v1.40h-1.40zM41.15 38.90h1.40v1.40h-1.40zM47.41 38.90h1.40v1.40h-1.40zM53.68 38.90h1.40v1.40h-1.40zM59.94 38.90h1.40v1.40h-1.40zM66.21 38.90h1.40v1.40h-1.40zM72.48 38.90h1.40v1.40h-1.40zM78.74 38.90h1.40v1.40h-1.40zM85.01 38.90h1.40v1.40h-1.40zM91.27 38.90h1.40v1.40h-1.40zM97.54 38.90h1.40v1.40h-1.40zM103.81 38.90h1.40v1.40h-1.40zM110.07 38.90h1.40v1.40h-1.40zM116.34 38.90h1.40v1.40h-1.40zM122.60 38.90h1.40v1.40h-1.40zM128.87 38.90h1.40v1.40h-1.40zM135.14 38.90h1.40v1.40h-1.40zM141.40 38.90h1.40v1.40h-1.40zM147.67 38.90h1.40v1.40h-1.40zM153.93 38.90h1.40v1.40h-1.40zM160.20 38.90h1.40v1.40h-1.40zM166.47 38.90h1.40v1.40h-1.40zM172.73 38.90h1.40v1.40h-1.40zM179.00 38.90h1.40v1.40h-1.40zM185.26 38.90h1.40v1.40h-1.40zM191.53 38.90h1.40v1.40h-1.40zM197.80 38.90h1.40v1.40h-1.40zM204.06 38.90h1.40v1.40h-1.40zM210.33 38.90h1.40v1.40h-1.40zM216.59 38.90h1.40v1.40h-1.40zM222.86 38.90h1.40v1.40h-1.40zM229.13 38.90h1.40v1.40h-1.40zM235.39 38.90h1.40v1.40h-1.40zM241.66 38.90h1.40v1.40h-1.40zM247.92 38.90h1.40v1.40h-1.40zM254.19 38.90h1.40v1.40h-1.40zM260.46 38.90h1.40v1.40h-1.40zM266.72 38.90h1.40v1.40h-1.40zM272.99 38.90h1.40v1.40h-1.40zM279.25 38.90h1.40v1.40h-1.40zM285.52 38.90h1.40v1.40h-1.40zM291.79 38.90h1.40v1.40h-1.40zM298.05 38.90h1.40v1.40h-1.40zM304.32 38.90h1.40v1.40h-1.40zM310.58 38.90h1.40v1.40h-1.40zM316.85 38.90h1.40v1.40h-1.40zM323.12 38.90h1.40v1.40h-1.40zM329.38 38.90h1.40v1.40h-1.40zM335.65 38.90h1.40v1.40h-1.40zM341.91 38.90h1.40v1.40h-1.40zM348.18 38.90h1.40v1.40h-1.40zM354.45 38.90h1.40v1.40h-1.40zM360.71 38.90h1.40v1.40h-1.40zM366.98 38.90h1.40v1.40h-1.40zM373.24 38.90h1.40v1.40h-1.40zM379.51 38.90h1.40v1.40h-1.40zM385.78 38.90h1.40v1.40h-1.40zM392.04 38.90h1.40v1.40h-1.40zM398.31 38.90h1.40v1.40h-1.40zM404.57 38.90h1.40v1.40h-1.40zM410.84 38.90h1.40v1.40h-1.40zM417.11 38.90h1.40v1.40h-1.40zM423.37 38.90h1.40v1.40h-1.40zM429.64 38.90h1.40v1.40h-1.40zM435.90 38.90h1.40v1.40h-1.40zM442.17 38.90h1.40v1.40h-1.40zM448.44 38.90h1.40v1.40h-1.40zM454.70 38.90h1.40v1.40h-1.40zM460.97 38.90h1.40v1.40h-1.40zM467.23 38.90h1.40v1.40h-1.40zM473.50 38.90h1.40v1.40h-1.40zM479.77 38.90h1.40v1.40h-1.40zM486.03 38.90h1.40v1.40h-1.40zM492.30 38.90h1.40v1.40h-1.40zM498.56 38.90h1.40v1.40h-1.40zM504.83 38.90h1.40v1.40h-1.40zM511.10 38.90h1.40v1.40h-1.40zM517.36 38.90h1.40v1.40h-1.40zM523.63 38.90h1.40v1.40h-1.40zM529.89 38.90h1.40v1.40h-1.40zM536.16 38.90h1.40v1.40h-1.40zM542.43 38.90h1.40v1.40h-1.40zM548.69 38.90h1.40v1.40h-1.40zM554.96 38.90h1.40v1.40h-1.40zM561.22 38.90h1.40v1.40h-1.40zM567.49 38.90h1.40v1.40h-1.40zM573.76 38.90h1.40v1.40h-1.40zM580.02 38.90h1.40v1.40h-1.40zM586.29 38.90h1.40v1.40h-1.40zM592.55 38.90h1.40v1.40h-1.40zM598.82 38.90h1.40v1.40h-1.40zM605.09 38.90h1.40v1.40h-1.40zM611.35 38.90h1.40v1.40h-1.40zM617.62 38.90h1.40v1.40h-1.40zM623.88 38.90h1.40v1.40h-1.40zM630.15 38.90h1.40v1.40h-1.40zM636.42 38.90h1.40v1.40h-1.40zM642.68 38.90h1.40v1.40h-1.40zM648.95 38.90h1.40v1.40h-1.40zM655.21 38.90h1.40v1.40h-1.40zM661.48 38.90h1.40v1.40h-1.40zM667.75 38.90h1.40v1.40h-1.40zM674.01 38.90h1.40v1.40h-1.40zM680.28 38.90h1.40v1.40h-1.40zM686.54 38.90h1.40v1.40h-1.40zM692.81 38.90h1.40v1.40h-1.40zM699.08 38.90h1.40v1.40h-1.40zM705.34 38.90h1.40v1.40h-1.40zM711.61 38.90h1.40v1.40h-1.40zM717.87 38.90h1.40v1.40h-1.40zM724.14 38.90h1.40v1.40h-1.40zM730.41 38.90h1.40v1.40h-1.40zM736.67 38.90h1.40v1.40h-1.40zM742.94 38.90h1.40v1.40h-1.40zM749.20 38.90h1.40v1.40h-1.40zM755.47 38.90h1.40v1.40h-1.40zM761.74 38.90h1.40v1.40h-1.40zM768.00 38.90h1.40v1.40h-1.40zM774.27 38.90h1.40v1.40h-1.40zM780.53 38.90h1.40v1.40h-1.40zM786.80 38.90h1.40v1.40h-1.40zM793.07 38.90h1.40v1.40h-1.40zM799.33 38.90h1.40v1.40h-1.40zM805.60 38.90h1.40v1.40h-1.40zM811.86 38.90h1.40v1.40h-1.40zM818.13 38.90h1.40v1.40h-1.40zM824.40 38.90h1.40v1.40h-1.40zM830.66 38.90h1.40v1.40h-1.40zM836.93 38.90h1.40v1.40h-1.40zM843.19 38.90h1.40v1.40h-1.40zM849.46 38.90h1.40v1.40h-1.40zM855.73 38.90h1.40v1.40h-1.40zM861.99 38.90h1.40v1.40h-1.40zM3.55 50.45h1.40v1.40h-1.40zM3.55 73.56h1.40v1.40h-1.40zM3.55 96.67h1.40v1.40h-1.40zM3.55 119.78h1.40v1.40h-1.40zM3.55 142.90h1.40v1.40h-1.40zM3.55 166.00h1.40v1.40h-1.40zM3.55 189.12h1.40v1.40h-1.40zM3.55 212.22h1.40v1.40h-1.40zM3.55 235.34h1.40v1.40h-1.40zM3.55 258.44h1.40v1.40h-1.40zM3.55 281.56h1.40v1.40h-1.40zM3.55 304.67h1.40v1.40h-1.40zM3.55 327.78h1.40v1.40h-1.40zM3.55 350.89h1.40v1.40h-1.40zM3.55 374.00h1.40v1.40h-1.40zM34.88 50.45h1.40v1.40h-1.40zM34.88 73.56h1.40v1.40h-1.40zM34.88 96.67h1.40v1.40h-1.40zM34.88 119.78h1.40v1.40h-1.40zM34.88 142.90h1.40v1.40h-1.40zM34.88 166.00h1.40v1.40h-1.40zM34.88 189.12h1.40v1.40h-1.40zM34.88 212.22h1.40v1.40h-1.40zM34.88 235.34h1.40v1.40h-1.40zM34.88 258.44h1.40v1.40h-1.40zM34.88 281.56h1.40v1.40h-1.40zM34.88 304.67h1.40v1.40h-1.40zM34.88 327.78h1.40v1.40h-1.40zM34.88 350.89h1.40v1.40h-1.40zM34.88 374.00h1.40v1.40h-1.40zM66.21 50.45h1.40v1.40h-1.40zM66.21 73.56h1.40v1.40h-1.40zM66.21 96.67h1.40v1.40h-1.40zM66.21 119.78h1.40v1.40h-1.40zM66.21 142.90h1.40v1.40h-1.40zM66.21 166.00h1.40v1.40h-1.40zM66.21 189.12h1.40v1.40h-1.40zM66.21 212.22h1.40v1.40h-1.40zM66.21 235.34h1.40v1.40h-1.40zM66.21 258.44h1.40v1.40h-1.40zM66.21 281.56h1.40v1.40h-1.40zM66.21 304.67h1.40v1.40h-1.40zM66.21 327.78h1.40v1.40h-1.40zM66.21 350.89h1.40v1.40h-1.40zM66.21 374.00h1.40v1.40h-1.40zM97.54 50.45h1.40v1.40h-1.40zM97.54 73.56h1.40v1.40h-1.40zM97.54 96.67h1.40v1.40h-1.40zM97.54 119.78h1.40v1.40h-1.40zM97.54 142.90h1.40v1.40h-1.40zM97.54 166.00h1.40v1.40h-1.40zM97.54 189.12h1.40v1.40h-1.40zM97.54 212.22h1.40v1.40h-1.40zM97.54 235.34h1.40v1.40h-1.40zM97.54 258.44h1.40v1.40h-1.40zM97.54 281.56h1.40v1.40h-1.40zM97.54 304.67h1.40v1.40h-1.40zM97.54 327.78h1.40v1.40h-1.40zM97.54 350.89h1.40v1.40h-1.40zM97.54 374.00h1.40v1.40h-1.40zM128.87 50.45h1.40v1.40h-1.40zM128.87 73.56h1.40v1.40h-1.40zM128.87 96.67h1.40v1.40h-1.40zM128.87 119.78h1.40v1.40h-1.40zM128.87 142.90h1.40v1.40h-1.40zM128.87 166.00h1.40v1.40h-1.40zM128.87 189.12h1.40v1.40h-1.40zM128.87 212.22h1.40v1.40h-1.40zM128.87 235.34h1.40v1.40h-1.40zM128.87 258.44h1.40v1.40h-1.40zM128.87 281.56h1.40v1.40h-1.40zM128.87 304.67h1.40v1.40h-1.40zM128.87 327.78h1.40v1.40h-1.40zM128.87 350.89h1.40v1.40h-1.40zM128.87 374.00h1.40v1.40h-1.40zM160.20 50.45h1.40v1.40h-1.40zM160.20 73.56h1.40v1.40h-1.40zM160.20 96.67h1.40v1.40h-1.40zM160.20 119.78h1.40v1.40h-1.40zM160.20 142.90h1.40v1.40h-1.40zM160.20 166.00h1.40v1.40h-1.40zM160.20 189.12h1.40v1.40h-1.40zM160.20 212.22h1.40v1.40h-1.40zM160.20 235.34h1.40v1.40h-1.40zM160.20 258.44h1.40v1.40h-1.40zM160.20 281.56h1.40v1.40h-1.40zM160.20 304.67h1.40v1.40h-1.40zM160.20 327.78h1.40v1.40h-1.40zM160.20 350.89h1.40v1.40h-1.40zM160.20 374.00h1.40v1.40h-1.40zM191.53 50.45h1.40v1.40h-1.40zM191.53 73.56h1.40v1.40h-1.40zM191.53 96.67h1.40v1.40h-1.40zM191.53 119.78h1.40v1.40h-1.40zM191.53 142.90h1.40v1.40h-1.40zM191.53 166.00h1.40v1.40h-1.40zM191.53 189.12h1.40v1.40h-1.40zM191.53 212.22h1.40v1.40h-1.40zM191.53 235.34h1.40v1.40h-1.40zM191.53 258.44h1.40v1.40h-1.40zM191.53 281.56h1.40v1.40h-1.40zM191.53 304.67h1.40v1.40h-1.40zM191.53 327.78h1.40v1.40h-1.40zM191.53 350.89h1.40v1.40h-1.40zM191.53 374.00h1.40v1.40h-1.40zM216.59 50.45h1.40v1.40h-1.40zM216.59 73.56h1.40v1.40h-1.40zM216.59 96.67h1.40v1.40h-1.40zM216.59 119.78h1.40v1.40h-1.40zM216.59 142.90h1.40v1.40h-1.40zM216.59 166.00h1.40v1.40h-1.40zM216.59 189.12h1.40v1.40h-1.40zM216.59 212.22h1.40v1.40h-1.40zM216.59 235.34h1.40v1.40h-1.40zM216.59 258.44h1.40v1.40h-1.40zM216.59 281.56h1.40v1.40h-1.40zM216.59 304.67h1.40v1.40h-1.40zM216.59 327.78h1.40v1.40h-1.40zM216.59 350.89h1.40v1.40h-1.40zM216.59 374.00h1.40v1.40h-1.40zM247.92 50.45h1.40v1.40h-1.40zM247.92 73.56h1.40v1.40h-1.40zM247.92 96.67h1.40v1.40h-1.40zM247.92 119.78h1.40v1.40h-1.40zM247.92 142.90h1.40v1.40h-1.40zM247.92 166.00h1.40v1.40h-1.40zM247.92 189.12h1.40v1.40h-1.40zM247.92 212.22h1.40v1.40h-1.40zM247.92 235.34h1.40v1.40h-1.40zM247.92 258.44h1.40v1.40h-1.40zM247.92 281.56h1.40v1.40h-1.40zM247.92 304.67h1.40v1.40h-1.40zM247.92 327.78h1.40v1.40h-1.40zM247.92 350.89h1.40v1.40h-1.40zM247.92 374.00h1.40v1.40h-1.40zM279.25 50.45h1.40v1.40h-1.40zM279.25 73.56h1.40v1.40h-1.40zM279.25 96.67h1.40v1.40h-1.40zM279.25 119.78h1.40v1.40h-1.40zM279.25 142.90h1.40v1.40h-1.40zM279.25 166.00h1.40v1.40h-1.40zM279.25 189.12h1.40v1.40h-1.40zM279.25 212.22h1.40v1.40h-1.40zM279.25 235.34h1.40v1.40h-1.40zM279.25 258.44h1.40v1.40h-1.40zM279.25 281.56h1.40v1.40h-1.40zM279.25 304.67h1.40v1.40h-1.40zM279.25 327.78h1.40v1.40h-1.40zM279.25 350.89h1.40v1.40h-1.40zM279.25 374.00h1.40v1.40h-1.40zM310.58 50.45h1.40v1.40h-1.40zM310.58 73.56h1.40v1.40h-1.40zM310.58 96.67h1.40v1.40h-1.40zM310.58 119.78h1.40v1.40h-1.40zM310.58 142.90h1.40v1.40h-1.40zM310.58 166.00h1.40v1.40h-1.40zM310.58 189.12h1.40v1.40h-1.40zM310.58 212.22h1.40v1.40h-1.40zM310.58 235.34h1.40v1.40h-1.40zM310.58 258.44h1.40v1.40h-1.40zM310.58 281.56h1.40v1.40h-1.40zM310.58 304.67h1.40v1.40h-1.40zM310.58 327.78h1.40v1.40h-1.40zM310.58 350.89h1.40v1.40h-1.40zM310.58 374.00h1.40v1.40h-1.40zM341.91 50.45h1.40v1.40h-1.40zM341.91 73.56h1.40v1.40h-1.40zM341.91 96.67h1.40v1.40h-1.40zM341.91 119.78h1.40v1.40h-1.40zM341.91 142.90h1.40v1.40h-1.40zM341.91 166.00h1.40v1.40h-1.40zM341.91 189.12h1.40v1.40h-1.40zM341.91 212.22h1.40v1.40h-1.40zM341.91 235.34h1.40v1.40h-1.40zM341.91 258.44h1.40v1.40h-1.40zM341.91 281.56h1.40v1.40h-1.40zM341.91 304.67h1.40v1.40h-1.40zM341.91 327.78h1.40v1.40h-1.40zM341.91 350.89h1.40v1.40h-1.40zM341.91 374.00h1.40v1.40h-1.40zM373.24 50.45h1.40v1.40h-1.40zM373.24 73.56h1.40v1.40h-1.40zM373.24 96.67h1.40v1.40h-1.40zM373.24 119.78h1.40v1.40h-1.40zM373.24 142.90h1.40v1.40h-1.40zM373.24 166.00h1.40v1.40h-1.40zM373.24 189.12h1.40v1.40h-1.40zM373.24 212.22h1.40v1.40h-1.40zM373.24 235.34h1.40v1.40h-1.40zM373.24 258.44h1.40v1.40h-1.40zM373.24 281.56h1.40v1.40h-1.40zM373.24 304.67h1.40v1.40h-1.40zM373.24 327.78h1.40v1.40h-1.40zM373.24 350.89h1.40v1.40h-1.40zM373.24 374.00h1.40v1.40h-1.40zM404.57 50.45h1.40v1.40h-1.40zM404.57 73.56h1.40v1.40h-1.40zM404.57 96.67h1.40v1.40h-1.40zM404.57 119.78h1.40v1.40h-1.40zM404.57 142.90h1.40v1.40h-1.40zM404.57 166.00h1.40v1.40h-1.40zM404.57 189.12h1.40v1.40h-1.40zM404.57 212.22h1.40v1.40h-1.40zM404.57 235.34h1.40v1.40h-1.40zM404.57 258.44h1.40v1.40h-1.40zM404.57 281.56h1.40v1.40h-1.40zM404.57 304.67h1.40v1.40h-1.40zM404.57 327.78h1.40v1.40h-1.40zM404.57 350.89h1.40v1.40h-1.40zM404.57 374.00h1.40v1.40h-1.40zM435.90 50.45h1.40v1.40h-1.40zM435.90 73.56h1.40v1.40h-1.40zM435.90 96.67h1.40v1.40h-1.40zM435.90 119.78h1.40v1.40h-1.40zM435.90 142.90h1.40v1.40h-1.40zM435.90 166.00h1.40v1.40h-1.40zM435.90 189.12h1.40v1.40h-1.40zM435.90 212.22h1.40v1.40h-1.40zM435.90 235.34h1.40v1.40h-1.40zM435.90 258.44h1.40v1.40h-1.40zM435.90 281.56h1.40v1.40h-1.40zM435.90 304.67h1.40v1.40h-1.40zM435.90 327.78h1.40v1.40h-1.40zM435.90 350.89h1.40v1.40h-1.40zM435.90 374.00h1.40v1.40h-1.40zM454.70 50.45h1.40v1.40h-1.40zM454.70 73.56h1.40v1.40h-1.40zM454.70 96.67h1.40v1.40h-1.40zM454.70 119.78h1.40v1.40h-1.40zM454.70 142.90h1.40v1.40h-1.40zM454.70 166.00h1.40v1.40h-1.40zM454.70 189.12h1.40v1.40h-1.40zM454.70 212.22h1.40v1.40h-1.40zM454.70 235.34h1.40v1.40h-1.40zM454.70 258.44h1.40v1.40h-1.40zM454.70 281.56h1.40v1.40h-1.40zM454.70 304.67h1.40v1.40h-1.40zM454.70 327.78h1.40v1.40h-1.40zM454.70 350.89h1.40v1.40h-1.40zM454.70 374.00h1.40v1.40h-1.40zM486.03 50.45h1.40v1.40h-1.40zM486.03 73.56h1.40v1.40h-1.40zM486.03 96.67h1.40v1.40h-1.40zM486.03 119.78h1.40v1.40h-1.40zM486.03 142.90h1.40v1.40h-1.40zM486.03 166.00h1.40v1.40h-1.40zM486.03 189.12h1.40v1.40h-1.40zM486.03 212.22h1.40v1.40h-1.40zM486.03 235.34h1.40v1.40h-1.40zM486.03 258.44h1.40v1.40h-1.40zM486.03 281.56h1.40v1.40h-1.40zM486.03 304.67h1.40v1.40h-1.40zM486.03 327.78h1.40v1.40h-1.40zM486.03 350.89h1.40v1.40h-1.40zM486.03 374.00h1.40v1.40h-1.40zM517.36 50.45h1.40v1.40h-1.40zM517.36 73.56h1.40v1.40h-1.40zM517.36 96.67h1.40v1.40h-1.40zM517.36 119.78h1.40v1.40h-1.40zM517.36 142.90h1.40v1.40h-1.40zM517.36 166.00h1.40v1.40h-1.40zM517.36 189.12h1.40v1.40h-1.40zM517.36 212.22h1.40v1.40h-1.40zM517.36 235.34h1.40v1.40h-1.40zM517.36 258.44h1.40v1.40h-1.40zM517.36 281.56h1.40v1.40h-1.40zM517.36 304.67h1.40v1.40h-1.40zM517.36 327.78h1.40v1.40h-1.40zM517.36 350.89h1.40v1.40h-1.40zM517.36 374.00h1.40v1.40h-1.40zM542.43 50.45h1.40v1.40h-1.40zM542.43 73.56h1.40v1.40h-1.40zM542.43 96.67h1.40v1.40h-1.40zM542.43 119.78h1.40v1.40h-1.40zM542.43 142.90h1.40v1.40h-1.40zM542.43 166.00h1.40v1.40h-1.40zM542.43 189.12h1.40v1.40h-1.40zM542.43 212.22h1.40v1.40h-1.40zM542.43 235.34h1.40v1.40h-1.40zM542.43 258.44h1.40v1.40h-1.40zM542.43 281.56h1.40v1.40h-1.40zM542.43 304.67h1.40v1.40h-1.40zM542.43 327.78h1.40v1.40h-1.40zM542.43 350.89h1.40v1.40h-1.40zM542.43 374.00h1.40v1.40h-1.40zM573.76 50.45h1.40v1.40h-1.40zM573.76 73.56h1.40v1.40h-1.40zM573.76 96.67h1.40v1.40h-1.40zM573.76 119.78h1.40v1.40h-1.40zM573.76 142.90h1.40v1.40h-1.40zM573.76 166.00h1.40v1.40h-1.40zM573.76 189.12h1.40v1.40h-1.40zM573.76 212.22h1.40v1.40h-1.40zM573.76 235.34h1.40v1.40h-1.40zM573.76 258.44h1.40v1.40h-1.40zM573.76 281.56h1.40v1.40h-1.40zM573.76 304.67h1.40v1.40h-1.40zM573.76 327.78h1.40v1.40h-1.40zM573.76 350.89h1.40v1.40h-1.40zM573.76 374.00h1.40v1.40h-1.40zM605.09 50.45h1.40v1.40h-1.40zM605.09 73.56h1.40v1.40h-1.40zM605.09 96.67h1.40v1.40h-1.40zM605.09 119.78h1.40v1.40h-1.40zM605.09 142.90h1.40v1.40h-1.40zM605.09 166.00h1.40v1.40h-1.40zM605.09 189.12h1.40v1.40h-1.40zM605.09 212.22h1.40v1.40h-1.40zM605.09 235.34h1.40v1.40h-1.40zM605.09 258.44h1.40v1.40h-1.40zM605.09 281.56h1.40v1.40h-1.40zM605.09 304.67h1.40v1.40h-1.40zM605.09 327.78h1.40v1.40h-1.40zM605.09 350.89h1.40v1.40h-1.40zM605.09 374.00h1.40v1.40h-1.40zM636.42 50.45h1.40v1.40h-1.40zM636.42 73.56h1.40v1.40h-1.40zM636.42 96.67h1.40v1.40h-1.40zM636.42 119.78h1.40v1.40h-1.40zM636.42 142.90h1.40v1.40h-1.40zM636.42 166.00h1.40v1.40h-1.40zM636.42 189.12h1.40v1.40h-1.40zM636.42 212.22h1.40v1.40h-1.40zM636.42 235.34h1.40v1.40h-1.40zM636.42 258.44h1.40v1.40h-1.40zM636.42 281.56h1.40v1.40h-1.40zM636.42 304.67h1.40v1.40h-1.40zM636.42 327.78h1.40v1.40h-1.40zM636.42 350.89h1.40v1.40h-1.40zM636.42 374.00h1.40v1.40h-1.40zM667.75 50.45h1.40v1.40h-1.40zM667.75 73.56h1.40v1.40h-1.40zM667.75 96.67h1.40v1.40h-1.40zM667.75 119.78h1.40v1.40h-1.40zM667.75 142.90h1.40v1.40h-1.40zM667.75 166.00h1.40v1.40h-1.40zM667.75 189.12h1.40v1.40h-1.40zM667.75 212.22h1.40v1.40h-1.40zM667.75 235.34h1.40v1.40h-1.40zM667.75 258.44h1.40v1.40h-1.40zM667.75 281.56h1.40v1.40h-1.40zM667.75 304.67h1.40v1.40h-1.40zM667.75 327.78h1.40v1.40h-1.40zM667.75 350.89h1.40v1.40h-1.40zM667.75 374.00h1.40v1.40h-1.40zM692.81 50.45h1.40v1.40h-1.40zM692.81 73.56h1.40v1.40h-1.40zM692.81 96.67h1.40v1.40h-1.40zM692.81 119.78h1.40v1.40h-1.40zM692.81 142.90h1.40v1.40h-1.40zM692.81 166.00h1.40v1.40h-1.40zM692.81 189.12h1.40v1.40h-1.40zM692.81 212.22h1.40v1.40h-1.40zM692.81 235.34h1.40v1.40h-1.40zM692.81 258.44h1.40v1.40h-1.40zM692.81 281.56h1.40v1.40h-1.40zM692.81 304.67h1.40v1.40h-1.40zM692.81 327.78h1.40v1.40h-1.40zM692.81 350.89h1.40v1.40h-1.40zM692.81 374.00h1.40v1.40h-1.40zM717.87 50.45h1.40v1.40h-1.40zM717.87 73.56h1.40v1.40h-1.40zM717.87 96.67h1.40v1.40h-1.40zM717.87 119.78h1.40v1.40h-1.40zM717.87 142.90h1.40v1.40h-1.40zM717.87 166.00h1.40v1.40h-1.40zM717.87 189.12h1.40v1.40h-1.40zM717.87 212.22h1.40v1.40h-1.40zM717.87 235.34h1.40v1.40h-1.40zM717.87 258.44h1.40v1.40h-1.40zM717.87 281.56h1.40v1.40h-1.40zM717.87 304.67h1.40v1.40h-1.40zM717.87 327.78h1.40v1.40h-1.40zM717.87 350.89h1.40v1.40h-1.40zM717.87 374.00h1.40v1.40h-1.40zM749.20 50.45h1.40v1.40h-1.40zM749.20 73.56h1.40v1.40h-1.40zM749.20 96.67h1.40v1.40h-1.40zM749.20 119.78h1.40v1.40h-1.40zM749.20 142.90h1.40v1.40h-1.40zM749.20 166.00h1.40v1.40h-1.40zM749.20 189.12h1.40v1.40h-1.40zM749.20 212.22h1.40v1.40h-1.40zM749.20 235.34h1.40v1.40h-1.40zM749.20 258.44h1.40v1.40h-1.40zM749.20 281.56h1.40v1.40h-1.40zM749.20 304.67h1.40v1.40h-1.40zM749.20 327.78h1.40v1.40h-1.40zM749.20 350.89h1.40v1.40h-1.40zM749.20 374.00h1.40v1.40h-1.40zM780.53 50.45h1.40v1.40h-1.40zM780.53 73.56h1.40v1.40h-1.40zM780.53 96.67h1.40v1.40h-1.40zM780.53 119.78h1.40v1.40h-1.40zM780.53 142.90h1.40v1.40h-1.40zM780.53 166.00h1.40v1.40h-1.40zM780.53 189.12h1.40v1.40h-1.40zM780.53 212.22h1.40v1.40h-1.40zM780.53 235.34h1.40v1.40h-1.40zM780.53 258.44h1.40v1.40h-1.40zM780.53 281.56h1.40v1.40h-1.40zM780.53 304.67h1.40v1.40h-1.40zM780.53 327.78h1.40v1.40h-1.40zM780.53 350.89h1.40v1.40h-1.40zM780.53 374.00h1.40v1.40h-1.40zM805.60 50.45h1.40v1.40h-1.40zM805.60 73.56h1.40v1.40h-1.40zM805.60 96.67h1.40v1.40h-1.40zM805.60 119.78h1.40v1.40h-1.40zM805.60 142.90h1.40v1.40h-1.40zM805.60 166.00h1.40v1.40h-1.40zM805.60 189.12h1.40v1.40h-1.40zM805.60 212.22h1.40v1.40h-1.40zM805.60 235.34h1.40v1.40h-1.40zM805.60 258.44h1.40v1.40h-1.40zM805.60 281.56h1.40v1.40h-1.40zM805.60 304.67h1.40v1.40h-1.40zM805.60 327.78h1.40v1.40h-1.40zM805.60 350.89h1.40v1.40h-1.40zM805.60 374.00h1.40v1.40h-1.40zM836.93 50.45h1.40v1.40h-1.40zM836.93 73.56h1.40v1.40h-1.40zM836.93 96.67h1.40v1.40h-1.40zM836.93 119.78h1.40v1.40h-1.40zM836.93 142.90h1.40v1.40h-1.40zM836.93 166.00h1.40v1.40h-1.40zM836.93 189.12h1.40v1.40h-1.40zM836.93 212.22h1.40v1.40h-1.40zM836.93 235.34h1.40v1.40h-1.40zM836.93 258.44h1.40v1.40h-1.40zM836.93 281.56h1.40v1.40h-1.40zM836.93 304.67h1.40v1.40h-1.40zM836.93 327.78h1.40v1.40h-1.40zM836.93 350.89h1.40v1.40h-1.40zM836.93 374.00h1.40v1.40h-1.40zM3.55 433.10h1.40v1.40h-1.40zM9.82 433.10h1.40v1.40h-1.40zM16.08 433.10h1.40v1.40h-1.40zM22.35 433.10h1.40v1.40h-1.40zM28.61 433.10h1.40v1.40h-1.40zM34.88 433.10h1.40v1.40h-1.40zM41.15 433.10h1.40v1.40h-1.40zM47.41 433.10h1.40v1.40h-1.40zM53.68 433.10h1.40v1.40h-1.40zM59.94 433.10h1.40v1.40h-1.40zM66.21 433.10h1.40v1.40h-1.40zM72.48 433.10h1.40v1.40h-1.40zM78.74 433.10h1.40v1.40h-1.40zM85.01 433.10h1.40v1.40h-1.40zM91.27 433.10h1.40v1.40h-1.40zM97.54 433.10h1.40v1.40h-1.40zM103.81 433.10h1.40v1.40h-1.40zM110.07 433.10h1.40v1.40h-1.40zM116.34 433.10h1.40v1.40h-1.40zM122.60 433.10h1.40v1.40h-1.40zM128.87 433.10h1.40v1.40h-1.40zM135.14 433.10h1.40v1.40h-1.40zM141.40 433.10h1.40v1.40h-1.40zM147.67 433.10h1.40v1.40h-1.40zM153.93 433.10h1.40v1.40h-1.40zM160.20 433.10h1.40v1.40h-1.40zM166.47 433.10h1.40v1.40h-1.40zM172.73 433.10h1.40v1.40h-1.40zM179.00 433.10h1.40v1.40h-1.40zM185.26 433.10h1.40v1.40h-1.40zM191.53 433.10h1.40v1.40h-1.40zM197.80 433.10h1.40v1.40h-1.40zM204.06 433.10h1.40v1.40h-1.40zM210.33 433.10h1.40v1.40h-1.40zM216.59 433.10h1.40v1.40h-1.40zM222.86 433.10h1.40v1.40h-1.40zM229.13 433.10h1.40v1.40h-1.40zM235.39 433.10h1.40v1.40h-1.40zM241.66 433.10h1.40v1.40h-1.40zM247.92 433.10h1.40v1.40h-1.40zM254.19 433.10h1.40v1.40h-1.40zM260.46 433.10h1.40v1.40h-1.40zM266.72 433.10h1.40v1.40h-1.40zM272.99 433.10h1.40v1.40h-1.40zM279.25 433.10h1.40v1.40h-1.40zM285.52 433.10h1.40v1.40h-1.40zM291.79 433.10h1.40v1.40h-1.40zM298.05 433.10h1.40v1.40h-1.40zM304.32 433.10h1.40v1.40h-1.40zM310.58 433.10h1.40v1.40h-1.40zM316.85 433.10h1.40v1.40h-1.40zM323.12 433.10h1.40v1.40h-1.40zM329.38 433.10h1.40v1.40h-1.40zM335.65 433.10h1.40v1.40h-1.40zM341.91 433.10h1.40v1.40h-1.40zM348.18 433.10h1.40v1.40h-1.40zM354.45 433.10h1.40v1.40h-1.40zM360.71 433.10h1.40v1.40h-1.40zM366.98 433.10h1.40v1.40h-1.40zM373.24 433.10h1.40v1.40h-1.40zM379.51 433.10h1.40v1.40h-1.40zM385.78 433.10h1.40v1.40h-1.40zM392.04 433.10h1.40v1.40h-1.40zM398.31 433.10h1.40v1.40h-1.40zM404.57 433.10h1.40v1.40h-1.40zM410.84 433.10h1.40v1.40h-1.40zM417.11 433.10h1.40v1.40h-1.40zM423.37 433.10h1.40v1.40h-1.40zM429.64 433.10h1.40v1.40h-1.40zM435.90 433.10h1.40v1.40h-1.40zM442.17 433.10h1.40v1.40h-1.40zM448.44 433.10h1.40v1.40h-1.40zM454.70 433.10h1.40v1.40h-1.40zM460.97 433.10h1.40v1.40h-1.40zM467.23 433.10h1.40v1.40h-1.40zM473.50 433.10h1.40v1.40h-1.40zM479.77 433.10h1.40v1.40h-1.40zM486.03 433.10h1.40v1.40h-1.40zM492.30 433.10h1.40v1.40h-1.40zM498.56 433.10h1.40v1.40h-1.40zM504.83 433.10h1.40v1.40h-1.40zM511.10 433.10h1.40v1.40h-1.40zM517.36 433.10h1.40v1.40h-1.40zM523.63 433.10h1.40v1.40h-1.40zM529.89 433.10h1.40v1.40h-1.40zM536.16 433.10h1.40v1.40h-1.40zM542.43 433.10h1.40v1.40h-1.40zM548.69 433.10h1.40v1.40h-1.40zM554.96 433.10h1.40v1.40h-1.40zM561.22 433.10h1.40v1.40h-1.40zM567.49 433.10h1.40v1.40h-1.40zM573.76 433.10h1.40v1.40h-1.40zM580.02 433.10h1.40v1.40h-1.40zM586.29 433.10h1.40v1.40h-1.40zM592.55 433.10h1.40v1.40h-1.40zM598.82 433.10h1.40v1.40h-1.40zM605.09 433.10h1.40v1.40h-1.40zM611.35 433.10h1.40v1.40h-1.40zM617.62 433.10h1.40v1.40h-1.40zM623.88 433.10h1.40v1.40h-1.40zM630.15 433.10h1.40v1.40h-1.40zM636.42 433.10h1.40v1.40h-1.40zM642.68 433.10h1.40v1.40h-1.40zM648.95 433.10h1.40v1.40h-1.40zM655.21 433.10h1.40v1.40h-1.40zM661.48 433.10h1.40v1.40h-1.40zM667.75 433.10h1.40v1.40h-1.40zM674.01 433.10h1.40v1.40h-1.40zM680.28 433.10h1.40v1.40h-1.40zM686.54 433.10h1.40v1.40h-1.40zM692.81 433.10h1.40v1.40h-1.40zM699.08 433.10h1.40v1.40h-1.40zM705.34 433.10h1.40v1.40h-1.40zM711.61 433.10h1.40v1.40h-1.40zM717.87 433.10h1.40v1.40h-1.40zM724.14 433.10h1.40v1.40h-1.40zM730.41 433.10h1.40v1.40h-1.40zM736.67 433.10h1.40v1.40h-1.40zM742.94 433.10h1.40v1.40h-1.40zM749.20 433.10h1.40v1.40h-1.40zM755.47 433.10h1.40v1.40h-1.40zM761.74 433.10h1.40v1.40h-1.40zM768.00 433.10h1.40v1.40h-1.40zM774.27 433.10h1.40v1.40h-1.40zM780.53 433.10h1.40v1.40h-1.40zM786.80 433.10h1.40v1.40h-1.40zM793.07 433.10h1.40v1.40h-1.40zM799.33 433.10h1.40v1.40h-1.40zM805.60 433.10h1.40v1.40h-1.40zM811.86 433.10h1.40v1.40h-1.40zM818.13 433.10h1.40v1.40h-1.40zM824.40 433.10h1.40v1.40h-1.40zM830.66 433.10h1.40v1.40h-1.40zM836.93 433.10h1.40v1.40h-1.40zM843.19 433.10h1.40v1.40h-1.40zM849.46 433.10h1.40v1.40h-1.40zM855.73 433.10h1.40v1.40h-1.40zM861.99 433.10h1.40v1.40h-1.40zM3.55 406.80h1.40v1.40h-1.40zM9.82 406.80h1.40v1.40h-1.40zM16.08 406.80h1.40v1.40h-1.40zM22.35 406.80h1.40v1.40h-1.40zM28.61 406.80h1.40v1.40h-1.40zM34.88 406.80h1.40v1.40h-1.40zM41.15 406.80h1.40v1.40h-1.40zM47.41 406.80h1.40v1.40h-1.40zM53.68 406.80h1.40v1.40h-1.40zM59.94 406.80h1.40v1.40h-1.40zM66.21 406.80h1.40v1.40h-1.40zM72.48 406.80h1.40v1.40h-1.40zM78.74 406.80h1.40v1.40h-1.40zM85.01 406.80h1.40v1.40h-1.40zM91.27 406.80h1.40v1.40h-1.40zM97.54 406.80h1.40v1.40h-1.40zM103.81 406.80h1.40v1.40h-1.40zM110.07 406.80h1.40v1.40h-1.40zM116.34 406.80h1.40v1.40h-1.40zM122.60 406.80h1.40v1.40h-1.40zM128.87 406.80h1.40v1.40h-1.40zM135.14 406.80h1.40v1.40h-1.40zM141.40 406.80h1.40v1.40h-1.40zM147.67 406.80h1.40v1.40h-1.40zM153.93 406.80h1.40v1.40h-1.40zM160.20 406.80h1.40v1.40h-1.40zM166.47 406.80h1.40v1.40h-1.40zM172.73 406.80h1.40v1.40h-1.40zM179.00 406.80h1.40v1.40h-1.40zM185.26 406.80h1.40v1.40h-1.40zM191.53 406.80h1.40v1.40h-1.40zM197.80 406.80h1.40v1.40h-1.40zM204.06 406.80h1.40v1.40h-1.40zM210.33 406.80h1.40v1.40h-1.40zM216.59 406.80h1.40v1.40h-1.40zM222.86 406.80h1.40v1.40h-1.40zM229.13 406.80h1.40v1.40h-1.40zM235.39 406.80h1.40v1.40h-1.40zM241.66 406.80h1.40v1.40h-1.40zM247.92 406.80h1.40v1.40h-1.40zM254.19 406.80h1.40v1.40h-1.40zM260.46 406.80h1.40v1.40h-1.40zM266.72 406.80h1.40v1.40h-1.40zM272.99 406.80h1.40v1.40h-1.40zM279.25 406.80h1.40v1.40h-1.40zM285.52 406.80h1.40v1.40h-1.40zM291.79 406.80h1.40v1.40h-1.40zM298.05 406.80h1.40v1.40h-1.40zM304.32 406.80h1.40v1.40h-1.40zM310.58 406.80h1.40v1.40h-1.40zM316.85 406.80h1.40v1.40h-1.40zM323.12 406.80h1.40v1.40h-1.40zM329.38 406.80h1.40v1.40h-1.40zM335.65 406.80h1.40v1.40h-1.40zM341.91 406.80h1.40v1.40h-1.40zM348.18 406.80h1.40v1.40h-1.40zM354.45 406.80h1.40v1.40h-1.40zM360.71 406.80h1.40v1.40h-1.40zM366.98 406.80h1.40v1.40h-1.40zM373.24 406.80h1.40v1.40h-1.40zM379.51 406.80h1.40v1.40h-1.40zM385.78 406.80h1.40v1.40h-1.40zM392.04 406.80h1.40v1.40h-1.40zM398.31 406.80h1.40v1.40h-1.40zM404.57 406.80h1.40v1.40h-1.40zM410.84 406.80h1.40v1.40h-1.40zM417.11 406.80h1.40v1.40h-1.40zM423.37 406.80h1.40v1.40h-1.40zM429.64 406.80h1.40v1.40h-1.40zM435.90 406.80h1.40v1.40h-1.40zM442.17 406.80h1.40v1.40h-1.40zM448.44 406.80h1.40v1.40h-1.40zM454.70 406.80h1.40v1.40h-1.40zM460.97 406.80h1.40v1.40h-1.40zM467.23 406.80h1.40v1.40h-1.40zM473.50 406.80h1.40v1.40h-1.40zM479.77 406.80h1.40v1.40h-1.40zM486.03 406.80h1.40v1.40h-1.40zM492.30 406.80h1.40v1.40h-1.40zM498.56 406.80h1.40v1.40h-1.40zM504.83 406.80h1.40v1.40h-1.40zM511.10 406.80h1.40v1.40h-1.40zM517.36 406.80h1.40v1.40h-1.40zM523.63 406.80h1.40v1.40h-1.40zM529.89 406.80h1.40v1.40h-1.40zM536.16 406.80h1.40v1.40h-1.40zM542.43 406.80h1.40v1.40h-1.40zM548.69 406.80h1.40v1.40h-1.40zM554.96 406.80h1.40v1.40h-1.40zM561.22 406.80h1.40v1.40h-1.40zM567.49 406.80h1.40v1.40h-1.40zM573.76 406.80h1.40v1.40h-1.40zM580.02 406.80h1.40v1.40h-1.40zM586.29 406.80h1.40v1.40h-1.40zM592.55 406.80h1.40v1.40h-1.40zM598.82 406.80h1.40v1.40h-1.40zM605.09 406.80h1.40v1.40h-1.40zM611.35 406.80h1.40v1.40h-1.40zM617.62 406.80h1.40v1.40h-1.40zM623.88 406.80h1.40v1.40h-1.40zM630.15 406.80h1.40v1.40h-1.40zM636.42 406.80h1.40v1.40h-1.40zM642.68 406.80h1.40v1.40h-1.40zM648.95 406.80h1.40v1.40h-1.40zM655.21 406.80h1.40v1.40h-1.40zM661.48 406.80h1.40v1.40h-1.40zM667.75 406.80h1.40v1.40h-1.40zM674.01 406.80h1.40v1.40h-1.40zM680.28 406.80h1.40v1.40h-1.40zM686.54 406.80h1.40v1.40h-1.40zM692.81 406.80h1.40v1.40h-1.40zM699.08 406.80h1.40v1.40h-1.40zM705.34 406.80h1.40v1.40h-1.40zM711.61 406.80h1.40v1.40h-1.40zM717.87 406.80h1.40v1.40h-1.40zM724.14 406.80h1.40v1.40h-1.40zM730.41 406.80h1.40v1.40h-1.40zM736.67 406.80h1.40v1.40h-1.40zM742.94 406.80h1.40v1.40h-1.40zM749.20 406.80h1.40v1.40h-1.40zM755.47 406.80h1.40v1.40h-1.40zM761.74 406.80h1.40v1.40h-1.40zM768.00 406.80h1.40v1.40h-1.40zM774.27 406.80h1.40v1.40h-1.40zM780.53 406.80h1.40v1.40h-1.40zM786.80 406.80h1.40v1.40h-1.40zM793.07 406.80h1.40v1.40h-1.40zM799.33 406.80h1.40v1.40h-1.40zM805.60 406.80h1.40v1.40h-1.40zM811.86 406.80h1.40v1.40h-1.40zM818.13 406.80h1.40v1.40h-1.40zM824.40 406.80h1.40v1.40h-1.40zM830.66 406.80h1.40v1.40h-1.40zM836.93 406.80h1.40v1.40h-1.40zM843.19 406.80h1.40v1.40h-1.40zM849.46 406.80h1.40v1.40h-1.40zM855.73 406.80h1.40v1.40h-1.40zM861.99 406.80h1.40v1.40h-1.40zM3.55 446.25h1.40v1.40h-1.40zM3.55 419.95h1.40v1.40h-1.40zM34.88 446.25h1.40v1.40h-1.40zM34.88 419.95h1.40v1.40h-1.40zM66.21 446.25h1.40v1.40h-1.40zM66.21 419.95h1.40v1.40h-1.40zM97.54 446.25h1.40v1.40h-1.40zM97.54 419.95h1.40v1.40h-1.40zM128.87 446.25h1.40v1.40h-1.40zM128.87 419.95h1.40v1.40h-1.40zM160.20 446.25h1.40v1.40h-1.40zM160.20 419.95h1.40v1.40h-1.40zM191.53 446.25h1.40v1.40h-1.40zM191.53 419.95h1.40v1.40h-1.40zM216.59 446.25h1.40v1.40h-1.40zM216.59 419.95h1.40v1.40h-1.40zM247.92 446.25h1.40v1.40h-1.40zM247.92 419.95h1.40v1.40h-1.40zM279.25 446.25h1.40v1.40h-1.40zM279.25 419.95h1.40v1.40h-1.40zM310.58 446.25h1.40v1.40h-1.40zM310.58 419.95h1.40v1.40h-1.40zM341.91 446.25h1.40v1.40h-1.40zM341.91 419.95h1.40v1.40h-1.40zM373.24 446.25h1.40v1.40h-1.40zM373.24 419.95h1.40v1.40h-1.40zM404.57 446.25h1.40v1.40h-1.40zM404.57 419.95h1.40v1.40h-1.40zM435.90 446.25h1.40v1.40h-1.40zM435.90 419.95h1.40v1.40h-1.40zM454.70 446.25h1.40v1.40h-1.40zM454.70 419.95h1.40v1.40h-1.40zM486.03 446.25h1.40v1.40h-1.40zM486.03 419.95h1.40v1.40h-1.40zM517.36 446.25h1.40v1.40h-1.40zM517.36 419.95h1.40v1.40h-1.40zM542.43 446.25h1.40v1.40h-1.40zM542.43 419.95h1.40v1.40h-1.40zM573.76 446.25h1.40v1.40h-1.40zM573.76 419.95h1.40v1.40h-1.40zM605.09 446.25h1.40v1.40h-1.40zM605.09 419.95h1.40v1.40h-1.40zM636.42 446.25h1.40v1.40h-1.40zM636.42 419.95h1.40v1.40h-1.40zM667.75 446.25h1.40v1.40h-1.40zM667.75 419.95h1.40v1.40h-1.40zM692.81 446.25h1.40v1.40h-1.40zM692.81 419.95h1.40v1.40h-1.40zM717.87 446.25h1.40v1.40h-1.40zM717.87 419.95h1.40v1.40h-1.40zM749.20 446.25h1.40v1.40h-1.40zM749.20 419.95h1.40v1.40h-1.40zM780.53 446.25h1.40v1.40h-1.40zM780.53 419.95h1.40v1.40h-1.40zM805.60 446.25h1.40v1.40h-1.40zM805.60 419.95h1.40v1.40h-1.40zM836.93 446.25h1.40v1.40h-1.40zM836.93 419.95h1.40v1.40h-1.40z" fill="#2c2c2c"/>
<path d="M47.21 27.40h1.20v1.25h-1.20zM47.21 29.91h1.20v1.25h-1.20zM47.21 32.41h1.20v1.25h-1.20zM47.21 34.92h1.20v1.25h-1.20zM47.21 37.43h1.20v1.25h-1.20zM47.21 39.93h1.20v1.25h-1.20zM47.21 42.44h1.20v1.25h-1.20zM47.21 44.94h1.20v1.25h-1.20zM47.21 47.45h1.20v1.25h-1.20zM47.21 49.96h1.20v1.25h-1.20zM47.21 52.46h1.20v1.25h-1.20zM47.21 54.97h1.20v1.25h-1.20zM47.21 57.48h1.20v1.25h-1.20zM47.21 59.98h1.20v1.25h-1.20zM47.21 62.49h1.20v1.25h-1.20zM47.21 65.00h1.20v1.25h-1.20zM47.21 67.50h1.20v1.25h-1.20zM47.21 70.01h1.20v1.25h-1.20zM47.21 72.52h1.20v1.25h-1.20zM47.21 75.02h1.20v1.25h-1.20zM47.21 77.53h1.20v1.25h-1.20zM47.21 80.03h1.20v1.25h-1.20zM47.21 82.54h1.20v1.25h-1.20zM47.21 85.05h1.20v1.25h-1.20zM47.21 87.55h1.20v1.25h-1.20zM47.21 90.06h1.20v1.25h-1.20zM47.21 92.57h1.20v1.25h-1.20zM47.21 95.07h1.20v1.25h-1.20zM47.21 97.58h1.20v1.25h-1.20zM47.21 100.09h1.20v1.25h-1.20zM47.21 102.59h1.20v1.25h-1.20zM47.21 105.10h1.20v1.25h-1.20zM47.21 107.60h1.20v1.25h-1.20zM47.21 110.11h1.20v1.25h-1.20zM47.21 112.62h1.20v1.25h-1.20zM47.21 115.12h1.20v1.25h-1.20zM47.21 117.63h1.20v1.25h-1.20zM47.21 120.14h1.20v1.25h-1.20zM47.21 122.64h1.20v1.25h-1.20zM47.21 125.15h1.20v1.25h-1.20zM47.21 127.66h1.20v1.25h-1.20zM47.21 130.16h1.20v1.25h-1.20zM47.21 132.67h1.20v1.25h-1.20zM47.21 135.18h1.20v1.25h-1.20zM47.21 137.68h1.20v1.25h-1.20zM47.21 140.19h1.20v1.25h-1.20zM47.21 142.69h1.20v1.25h-1.20zM47.21 145.20h1.20v1.25h-1.20zM47.21 147.71h1.20v1.25h-1.20zM47.21 150.21h1.20v1.25h-1.20zM47.21 152.72h1.20v1.25h-1.20zM47.21 155.23h1.20v1.25h-1.20zM47.21 157.73h1.20v1.25h-1.20zM47.21 160.24h1.20v1.25h-1.20zM47.21 162.75h1.20v1.25h-1.20zM47.21 165.25h1.20v1.25h-1.20zM47.21 167.76h1.20v1.25h-1.20zM47.21 170.26h1.20v1.25h-1.20zM47.21 172.77h1.20v1.25h-1.20zM47.21 175.28h1.20v1.25h-1.20zM47.21 177.78h1.20v1.25h-1.20zM47.21 180.29h1.20v1.25h-1.20zM47.21 182.80h1.20v1.25h-1.20zM47.21 185.30h1.20v1.25h-1.20zM47.21 187.81h1.20v1.25h-1.20zM47.21 190.32h1.20v1.25h-1.20zM47.21 192.82h1.20v1.25h-1.20zM47.21 195.33h1.20v1.25h-1.20zM47.21 197.84h1.20v1.25h-1.20zM47.21 200.34h1.20v1.25h-1.20zM47.21 202.85h1.20v1.25h-1.20zM47.21 205.35h1.20v1.25h-1.20zM47.21 207.86h1.20v1.25h-1.20zM47.21 210.37h1.20v1.25h-1.20zM47.21 212.87h1.20v1.25h-1.20zM47.21 215.38h1.20v1.25h-1.20zM47.21 217.89h1.20v1.25h-1.20zM47.21 220.39h1.20v1.25h-1.20zM47.21 222.90h1.20v1.25h-1.20zM47.21 225.41h1.20v1.25h-1.20zM47.21 227.91h1.20v1.25h-1.20zM47.21 230.42h1.20v1.25h-1.20zM47.21 232.92h1.20v1.25h-1.20zM47.21 235.43h1.20v1.25h-1.20zM47.21 237.94h1.20v1.25h-1.20zM47.21 240.44h1.20v1.25h-1.20zM47.21 242.95h1.20v1.25h-1.20zM47.21 245.46h1.20v1.25h-1.20zM47.21 247.96h1.20v1.25h-1.20zM47.21 250.47h1.20v1.25h-1.20zM47.21 252.98h1.20v1.25h-1.20zM47.21 255.48h1.20v1.25h-1.20zM47.21 257.99h1.20v1.25h-1.20zM47.21 260.50h1.20v1.25h-1.20zM47.21 263.00h1.20v1.25h-1.20zM47.21 265.51h1.20v1.25h-1.20zM47.21 268.01h1.20v1.25h-1.20zM47.21 270.52h1.20v1.25h-1.20zM47.21 273.03h1.20v1.25h-1.20zM47.21 275.53h1.20v1.25h-1.20zM47.21 278.04h1.20v1.25h-1.20zM47.21 280.55h1.20v1.25h-1.20zM47.21 283.05h1.20v1.25h-1.20zM47.21 285.56h1.20v1.25h-1.20zM47.21 288.07h1.20v1.25h-1.20zM47.21 290.57h1.20v1.25h-1.20zM47.21 293.08h1.20v1.25h-1.20zM47.21 295.58h1.20v1.25h-1.20zM47.21 298.09h1.20v1.25h-1.20zM47.21 300.60h1.20v1.25h-1.20zM47.21 303.10h1.20v1.25h-1.20zM47.21 305.61h1.20v1.25h-1.20zM47.21 308.12h1.20v1.25h-1.20zM47.21 310.62h1.20v1.25h-1.20zM47.21 313.13h1.20v1.25h-1.20zM47.21 315.64h1.20v1.25h-1.20zM47.21 318.14h1.20v1.25h-1.20zM47.21 320.65h1.20v1.25h-1.20zM47.21 323.16h1.20v1.25h-1.20zM47.21 325.66h1.20v1.25h-1.20zM47.21 328.17h1.20v1.25h-1.20zM47.21 330.67h1.20v1.25h-1.20zM47.21 333.18h1.20v1.25h-1.20zM47.21 335.69h1.20v1.25h-1.20zM47.21 338.19h1.20v1.25h-1.20zM47.21 340.70h1.20v1.25h-1.20zM47.21 343.21h1.20v1.25h-1.20zM47.21 345.71h1.20v1.25h-1.20zM47.21 348.22h1.20v1.25h-1.20zM47.21 350.73h1.20v1.25h-1.20zM47.21 353.23h1.20v1.25h-1.20zM47.21 355.74h1.20v1.25h-1.20zM47.21 358.24h1.20v1.25h-1.20zM47.21 360.75h1.20v1.25h-1.20zM47.21 363.26h1.20v1.25h-1.20zM47.21 365.76h1.20v1.25h-1.20zM47.21 368.27h1.20v1.25h-1.20zM47.21 370.78h1.20v1.25h-1.20zM47.21 373.28h1.20v1.25h-1.20zM47.21 375.79h1.20v1.25h-1.20zM47.21 378.30h1.20v1.25h-1.20zM47.21 380.80h1.20v1.25h-1.20zM47.21 383.31h1.20v1.25h-1.20zM47.21 385.82h1.20v1.25h-1.20zM47.21 388.32h1.20v1.25h-1.20zM47.21 390.83h1.20v1.25h-1.20zM47.21 393.33h1.20v1.25h-1.20zM47.21 395.84h1.20v1.25h-1.20zM47.21 398.35h1.20v1.25h-1.20zM47.21 400.85h1.20v1.25h-1.20zM47.21 403.36h1.20v1.25h-1.20zM47.21 405.87h1.20v1.25h-1.20zM47.21 408.37h1.20v1.25h-1.20zM47.21 410.88h1.20v1.25h-1.20zM47.21 413.39h1.20v1.25h-1.20zM47.21 415.89h1.20v1.25h-1.20zM47.21 418.40h1.20v1.25h-1.20zM47.21 420.90h1.20v1.25h-1.20zM47.21 423.41h1.20v1.25h-1.20zM47.21 425.92h1.20v1.25h-1.20zM47.21 428.42h1.20v1.25h-1.20zM47.21 430.93h1.20v1.25h-1.20zM47.21 433.44h1.20v1.25h-1.20zM47.21 435.94h1.20v1.25h-1.20zM47.21 438.45h1.20v1.25h-1.20zM47.21 440.96h1.20v1.25h-1.20zM47.21 443.46h1.20v1.25h-1.20zM47.21 445.97h1.20v1.25h-1.20zM47.21 448.48h1.20v1.25h-1.20zM47.21 450.98h1.20v1.25h-1.20zM47.21 453.49h1.20v1.25h-1.20zM47.21 455.99h1.20v1.25h-1.20zM47.21 458.50h1.20v1.25h-1.20zM191.33 27.40h1.20v1.25h-1.20zM191.33 29.91h1.20v1.25h-1.20zM191.33 32.41h1.20v1.25h-1.20zM191.33 34.92h1.20v1.25h-1.20zM191.33 37.43h1.20v1.25h-1.20zM191.33 39.93h1.20v1.25h-1.20zM191.33 42.44h1.20v1.25h-1.20zM191.33 44.94h1.20v1.25h-1.20zM191.33 47.45h1.20v1.25h-1.20zM191.33 49.96h1.20v1.25h-1.20zM191.33 52.46h1.20v1.25h-1.20zM191.33 54.97h1.20v1.25h-1.20zM191.33 57.48h1.20v1.25h-1.20zM191.33 59.98h1.20v1.25h-1.20zM191.33 62.49h1.20v1.25h-1.20zM191.33 65.00h1.20v1.25h-1.20zM191.33 67.50h1.20v1.25h-1.20zM191.33 70.01h1.20v1.25h-1.20zM191.33 72.52h1.20v1.25h-1.20zM191.33 75.02h1.20v1.25h-1.20zM191.33 77.53h1.20v1.25h-1.20zM191.33 80.03h1.20v1.25h-1.20zM191.33 82.54h1.20v1.25h-1.20zM191.33 85.05h1.20v1.25h-1.20zM191.33 87.55h1.20v1.25h-1.20zM191.33 90.06h1.20v1.25h-1.20zM191.33 92.57h1.20v1.25h-1.20zM191.33 95.07h1.20v1.25h-1.20zM191.33 97.58h1.20v1.25h-1.20zM191.33 100.09h1.20v1.25h-1.20zM191.33 102.59h1.20v1.25h-1.20zM191.33 105.10h1.20v1.25h-1.20zM191.33 107.60h1.20v1.25h-1.20zM191.33 110.11h1.20v1.25h-1.20zM191.33 112.62h1.20v1.25h-1.20zM191.33 115.12h1.20v1.25h-1.20zM191.33 117.63h1.20v1.25h-1.20zM191.33 120.14h1.20v1.25h-1.20zM191.33 122.64h1.20v1.25h-1.20zM191.33 125.15h1.20v1.25h-1.20zM191.33 127.66h1.20v1.25h-1.20zM191.33 130.16h1.20v1.25h-1.20zM191.33 132.67h1.20v1.25h-1.20zM191.33 135.18h1.20v1.25h-1.20zM191.33 137.68h1.20v1.25h-1.20zM191.33 140.19h1.20v1.25h-1.20zM191.33 142.69h1.20v1.25h-1.20zM191.33 145.20h1.20v1.25h-1.20zM191.33 147.71h1.20v1.25h-1.20zM191.33 150.21h1.20v1.25h-1.20zM191.33 152.72h1.20v1.25h-1.20zM191.33 155.23h1.20v1.25h-1.20zM191.33 157.73h1.20v1.25h-1.20zM191.33 160.24h1.20v1.25h-1.20zM191.33 162.75h1.20v1.25h-1.20zM191.33 165.25h1.20v1.25h-1.20zM191.33 167.76h1.20v1.25h-1.20zM191.33 170.26h1.20v1.25h-1.20zM191.33 172.77h1.20v1.25h-1.20zM191.33 175.28h1.20v1.25h-1.20zM191.33 177.78h1.20v1.25h-1.20zM191.33 180.29h1.20v1.25h-1.20zM191.33 182.80h1.20v1.25h-1.20zM191.33 185.30h1.20v1.25h-1.20zM191.33 187.81h1.20v1.25h-1.20zM191.33 190.32h1.20v1.25h-1.20zM191.33 192.82h1.20v1.25h-1.20zM191.33 195.33h1.20v1.25h-1.20zM191.33 197.84h1.20v1.25h-1.20zM191.33 200.34h1.20v1.25h-1.20zM191.33 202.85h1.20v1.25h-1.20zM191.33 205.35h1.20v1.25h-1.20zM191.33 207.86h1.20v1.25h-1.20zM191.33 210.37h1.20v1.25h-1.20zM191.33 212.87h1.20v1.25h-1.20zM191.33 215.38h1.20v1.25h-1.20zM191.33 217.89h1.20v1.25h-1.20zM191.33 220.39h1.20v1.25h-1.20zM191.33 222.90h1.20v1.25h-1.20zM191.33 225.41h1.20v1.25h-1.20zM191.33 227.91h1.20v1.25h-1.20zM191.33 230.42h1.20v1.25h-1.20zM191.33 232.92h1.20v1.25h-1.20zM191.33 235.43h1.20v1.25h-1.20zM191.33 237.94h1.20v1.25h-1.20zM191.33 240.44h1.20v1.25h-1.20zM191.33 242.95h1.20v1.25h-1.20zM191.33 245.46h1.20v1.25h-1.20zM191.33 247.96h1.20v1.25h-1.20zM191.33 250.47h1.20v1.25h-1.20zM191.33 252.98h1.20v1.25h-1.20zM191.33 255.48h1.20v1.25h-1.20zM191.33 257.99h1.20v1.25h-1.20zM191.33 260.50h1.20v1.25h-1.20zM191.33 263.00h1.20v1.25h-1.20zM191.33 265.51h1.20v1.25h-1.20zM191.33 268.01h1.20v1.25h-1.20zM191.33 270.52h1.20v1.25h-1.20zM191.33 273.03h1.20v1.25h-1.20zM191.33 275.53h1.20v1.25h-1.20zM191.33 278.04h1.20v1.25h-1.20zM191.33 280.55h1.20v1.25h-1.20zM191.33 283.05h1.20v1.25h-1.20zM191.33 285.56h1.20v1.25h-1.20zM191.33 288.07h1.20v1.25h-1.20zM191.33 290.57h1.20v1.25h-1.20zM191.33 293.08h1.20v1.25h-1.20zM191.33 295.58h1.20v1.25h-1.20zM191.33 298.09h1.20v1.25h-1.20zM191.33 300.60h1.20v1.25h-1.20zM191.33 303.10h1.20v1.25h-1.20zM191.33 305.61h1.20v1.25h-1.20zM191.33 308.12h1.20v1.25h-1.20zM191.33 310.62h1.20v1.25h-1.20zM191.33 313.13h1.20v1.25h-1.20zM191.33 315.64h1.20v1.25h-1.20zM191.33 318.14h1.20v1.25h-1.20zM191.33 320.65h1.20v1.25h-1.20zM191.33 323.16h1.20v1.25h-1.20zM191.33 325.66h1.20v1.25h-1.20zM191.33 328.17h1.20v1.25h-1.20zM191.33 330.67h1.20v1.25h-1.20zM191.33 333.18h1.20v1.25h-1.20zM191.33 335.69h1.20v1.25h-1.20zM191.33 338.19h1.20v1.25h-1.20zM191.33 340.70h1.20v1.25h-1.20zM191.33 343.21h1.20v1.25h-1.20zM191.33 345.71h1.20v1.25h-1.20zM191.33 348.22h1.20v1.25h-1.20zM191.33 350.73h1.20v1.25h-1.20zM191.33 353.23h1.20v1.25h-1.20zM191.33 355.74h1.20v1.25h-1.20zM191.33 358.24h1.20v1.25h-1.20zM191.33 360.75h1.20v1.25h-1.20zM191.33 363.26h1.20v1.25h-1.20zM191.33 365.76h1.20v1.25h-1.20zM191.33 368.27h1.20v1.25h-1.20zM191.33 370.78h1.20v1.25h-1.20zM191.33 373.28h1.20v1.25h-1.20zM191.33 375.79h1.20v1.25h-1.20zM191.33 378.30h1.20v1.25h-1.20zM191.33 380.80h1.20v1.25h-1.20zM191.33 383.31h1.20v1.25h-1.20zM191.33 385.82h1.20v1.25h-1.20zM191.33 388.32h1.20v1.25h-1.20zM191.33 390.83h1.20v1.25h-1.20zM191.33 393.33h1.20v1.25h-1.20zM191.33 395.84h1.20v1.25h-1.20zM191.33 398.35h1.20v1.25h-1.20zM191.33 400.85h1.20v1.25h-1.20zM191.33 403.36h1.20v1.25h-1.20zM191.33 405.87h1.20v1.25h-1.20zM191.33 408.37h1.20v1.25h-1.20zM191.33 410.88h1.20v1.25h-1.20zM191.33 413.39h1.20v1.25h-1.20zM191.33 415.89h1.20v1.25h-1.20zM191.33 418.40h1.20v1.25h-1.20zM191.33 420.90h1.20v1.25h-1.20zM191.33 423.41h1.20v1.25h-1.20zM191.33 425.92h1.20v1.25h-1.20zM191.33 428.42h1.20v1.25h-1.20zM191.33 430.93h1.20v1.25h-1.20zM191.33 433.44h1.20v1.25h-1.20zM191.33 435.94h1.20v1.25h-1.20zM191.33 438.45h1.20v1.25h-1.20zM191.33 440.96h1.20v1.25h-1.20zM191.33 443.46h1.20v1.25h-1.20zM191.33 445.97h1.20v1.25h-1.20zM191.33 448.48h1.20v1.25h-1.20zM191.33 450.98h1.20v1.25h-1.20zM191.33 453.49h1.20v1.25h-1.20zM191.33 455.99h1.20v1.25h-1.20zM191.33 458.50h1.20v1.25h-1.20zM310.38 27.40h1.20v1.25h-1.20zM310.38 29.91h1.20v1.25h-1.20zM310.38 32.41h1.20v1.25h-1.20zM310.38 34.92h1.20v1.25h-1.20zM310.38 37.43h1.20v1.25h-1.20zM310.38 39.93h1.20v1.25h-1.20zM310.38 42.44h1.20v1.25h-1.20zM310.38 44.94h1.20v1.25h-1.20zM310.38 47.45h1.20v1.25h-1.20zM310.38 49.96h1.20v1.25h-1.20zM310.38 52.46h1.20v1.25h-1.20zM310.38 54.97h1.20v1.25h-1.20zM310.38 57.48h1.20v1.25h-1.20zM310.38 59.98h1.20v1.25h-1.20zM310.38 62.49h1.20v1.25h-1.20zM310.38 65.00h1.20v1.25h-1.20zM310.38 67.50h1.20v1.25h-1.20zM310.38 70.01h1.20v1.25h-1.20zM310.38 72.52h1.20v1.25h-1.20zM310.38 75.02h1.20v1.25h-1.20zM310.38 77.53h1.20v1.25h-1.20zM310.38 80.03h1.20v1.25h-1.20zM310.38 82.54h1.20v1.25h-1.20zM310.38 85.05h1.20v1.25h-1.20zM310.38 87.55h1.20v1.25h-1.20zM310.38 90.06h1.20v1.25h-1.20zM310.38 92.57h1.20v1.25h-1.20zM310.38 95.07h1.20v1.25h-1.20zM310.38 97.58h1.20v1.25h-1.20zM310.38 100.09h1.20v1.25h-1.20zM310.38 102.59h1.20v1.25h-1.20zM310.38 105.10h1.20v1.25h-1.20zM310.38 107.60h1.20v1.25h-1.20zM310.38 110.11h1.20v1.25h-1.20zM310.38 112.62h1.20v1.25h-1.20zM310.38 115.12h1.20v1.25h-1.20zM310.38 117.63h1.20v1.25h-1.20zM310.38 120.14h1.20v1.25h-1.20zM310.38 122.64h1.20v1.25h-1.20zM310.38 125.15h1.20v1.25h-1.20zM310.38 127.66h1.20v1.25h-1.20zM310.38 130.16h1.20v1.25h-1.20zM310.38 132.67h1.20v1.25h-1.20zM310.38 135.18h1.20v1.25h-1.20zM310.38 137.68h1.20v1.25h-1.20zM310.38 140.19h1.20v1.25h-1.20zM310.38 142.69h1.20v1.25h-1.20zM310.38 145.20h1.20v1.25h-1.20zM310.38 147.71h1.20v1.25h-1.20zM310.38 150.21h1.20v1.25h-1.20zM310.38 152.72h1.20v1.25h-1.20zM310.38 155.23h1.20v1.25h-1.20zM310.38 157.73h1.20v1.25h-1.20zM310.38 160.24h1.20v1.25h-1.20zM310.38 162.75h1.20v1.25h-1.20zM310.38 165.25h1.20v1.25h-1.20zM310.38 167.76h1.20v1.25h-1.20zM310.38 170.26h1.20v1.25h-1.20zM310.38 172.77h1.20v1.25h-1.20zM310.38 175.28h1.20v1.25h-1.20zM310.38 177.78h1.20v1.25h-1.20zM310.38 180.29h1.20v1.25h-1.20zM310.38 182.80h1.20v1.25h-1.20zM310.38 185.30h1.20v1.25h-1.20zM310.38 187.81h1.20v1.25h-1.20zM310.38 190.32h1.20v1.25h-1.20zM310.38 192.82h1.20v1.25h-1.20zM310.38 195.33h1.20v1.25h-1.20zM310.38 197.84h1.20v1.25h-1.20zM310.38 200.34h1.20v1.25h-1.20zM310.38 202.85h1.20v1.25h-1.20zM310.38 205.35h1.20v1.25h-1.20zM310.38 207.86h1.20v1.25h-1.20zM310.38 210.37h1.20v1.25h-1.20zM310.38 212.87h1.20v1.25h-1.20zM310.38 215.38h1.20v1.25h-1.20zM310.38 217.89h1.20v1.25h-1.20zM310.38 220.39h1.20v1.25h-1.20zM310.38 222.90h1.20v1.25h-1.20zM310.38 225.41h1.20v1.25h-1.20zM310.38 227.91h1.20v1.25h-1.20zM310.38 230.42h1.20v1.25h-1.20zM310.38 232.92h1.20v1.25h-1.20zM310.38 235.43h1.20v1.25h-1.20zM310.38 237.94h1.20v1.25h-1.20zM310.38 240.44h1.20v1.25h-1.20zM310.38 242.95h1.20v1.25h-1.20zM310.38 245.46h1.20v1.25h-1.20zM310.38 247.96h1.20v1.25h-1.20zM310.38 250.47h1.20v1.25h-1.20zM310.38 252.98h1.20v1.25h-1.20zM310.38 255.48h1.20v1.25h-1.20zM310.38 257.99h1.20v1.25h-1.20zM310.38 260.50h1.20v1.25h-1.20zM310.38 263.00h1.20v1.25h-1.20zM310.38 265.51h1.20v1.25h-1.20zM310.38 268.01h1.20v1.25h-1.20zM310.38 270.52h1.20v1.25h-1.20zM310.38 273.03h1.20v1.25h-1.20zM310.38 275.53h1.20v1.25h-1.20zM310.38 278.04h1.20v1.25h-1.20zM310.38 280.55h1.20v1.25h-1.20zM310.38 283.05h1.20v1.25h-1.20zM310.38 285.56h1.20v1.25h-1.20zM310.38 288.07h1.20v1.25h-1.20zM310.38 290.57h1.20v1.25h-1.20zM310.38 293.08h1.20v1.25h-1.20zM310.38 295.58h1.20v1.25h-1.20zM310.38 298.09h1.20v1.25h-1.20zM310.38 300.60h1.20v1.25h-1.20zM310.38 303.10h1.20v1.25h-1.20zM310.38 305.61h1.20v1.25h-1.20zM310.38 308.12h1.20v1.25h-1.20zM310.38 310.62h1.20v1.25h-1.20zM310.38 313.13h1.20v1.25h-1.20zM310.38 315.64h1.20v1.25h-1.20zM310.38 318.14h1.20v1.25h-1.20zM310.38 320.65h1.20v1.25h-1.20zM310.38 323.16h1.20v1.25h-1.20zM310.38 325.66h1.20v1.25h-1.20zM310.38 328.17h1.20v1.25h-1.20zM310.38 330.67h1.20v1.25h-1.20zM310.38 333.18h1.20v1.25h-1.20zM310.38 335.69h1.20v1.25h-1.20zM310.38 338.19h1.20v1.25h-1.20zM310.38 340.70h1.20v1.25h-1.20zM310.38 343.21h1.20v1.25h-1.20zM310.38 345.71h1.20v1.25h-1.20zM310.38 348.22h1.20v1.25h-1.20zM310.38 350.73h1.20v1.25h-1.20zM310.38 353.23h1.20v1.25h-1.20zM310.38 355.74h1.20v1.25h-1.20zM310.38 358.24h1.20v1.25h-1.20zM310.38 360.75h1.20v1.25h-1.20zM310.38 363.26h1.20v1.25h-1.20zM310.38 365.76h1.20v1.25h-1.20zM310.38 368.27h1.20v1.25h-1.20zM310.38 370.78h1.20v1.25h-1.20zM310.38 373.28h1.20v1.25h-1.20zM310.38 375.79h1.20v1.25h-1.20zM310.38 378.30h1.20v1.25h-1.20zM310.38 380.80h1.20v1.25h-1.20zM310.38 383.31h1.20v1.25h-1.20zM310.38 385.82h1.20v1.25h-1.20zM310.38 388.32h1.20v1.25h-1.20zM310.38 390.83h1.20v1.25h-1.20zM310.38 393.33h1.20v1.25h-1.20zM310.38 395.84h1.20v1.25h-1.20zM310.38 398.35h1.20v1.25h-1.20zM310.38 400.85h1.20v1.25h-1.20zM310.38 403.36h1.20v1.25h-1.20zM310.38 405.87h1.20v1.25h-1.20zM310.38 408.37h1.20v1.25h-1.20zM310.38 410.88h1.20v1.25h-1.20zM310.38 413.39h1.20v1.25h-1.20zM310.38 415.89h1.20v1.25h-1.20zM310.38 418.40h1.20v1.25h-1.20zM310.38 420.90h1.20v1.25h-1.20zM310.38 423.41h1.20v1.25h-1.20zM310.38 425.92h1.20v1.25h-1.20zM310.38 428.42h1.20v1.25h-1.20zM310.38 430.93h1.20v1.25h-1.20zM310.38 433.44h1.20v1.25h-1.20zM310.38 435.94h1.20v1.25h-1.20zM310.38 438.45h1.20v1.25h-1.20zM310.38 440.96h1.20v1.25h-1.20zM310.38 443.46h1.20v1.25h-1.20zM310.38 445.97h1.20v1.25h-1.20zM310.38 448.48h1.20v1.25h-1.20zM310.38 450.98h1.20v1.25h-1.20zM310.38 453.49h1.20v1.25h-1.20zM310.38 455.99h1.20v1.25h-1.20zM310.38 458.50h1.20v1.25h-1.20zM441.97 27.40h1.20v1.25h-1.20zM441.97 29.91h1.20v1.25h-1.20zM441.97 32.41h1.20v1.25h-1.20zM441.97 34.92h1.20v1.25h-1.20zM441.97 37.43h1.20v1.25h-1.20zM441.97 39.93h1.20v1.25h-1.20zM441.97 42.44h1.20v1.25h-1.20zM441.97 44.94h1.20v1.25h-1.20zM441.97 47.45h1.20v1.25h-1.20zM441.97 49.96h1.20v1.25h-1.20zM441.97 52.46h1.20v1.25h-1.20zM441.97 54.97h1.20v1.25h-1.20zM441.97 57.48h1.20v1.25h-1.20zM441.97 59.98h1.20v1.25h-1.20zM441.97 62.49h1.20v1.25h-1.20zM441.97 65.00h1.20v1.25h-1.20zM441.97 67.50h1.20v1.25h-1.20zM441.97 70.01h1.20v1.25h-1.20zM441.97 72.52h1.20v1.25h-1.20zM441.97 75.02h1.20v1.25h-1.20zM441.97 77.53h1.20v1.25h-1.20zM441.97 80.03h1.20v1.25h-1.20zM441.97 82.54h1.20v1.25h-1.20zM441.97 85.05h1.20v1.25h-1.20zM441.97 87.55h1.20v1.25h-1.20zM441.97 90.06h1.20v1.25h-1.20zM441.97 92.57h1.20v1.25h-1.20zM441.97 95.07h1.20v1.25h-1.20zM441.97 97.58h1.20v1.25h-1.20zM441.97 100.09h1.20v1.25h-1.20zM441.97 102.59h1.20v1.25h-1.20zM441.97 105.10h1.20v1.25h-1.20zM441.97 107.60h1.20v1.25h-1.20zM441.97 110.11h1.20v1.25h-1.20zM441.97 112.62h1.20v1.25h-1.20zM441.97 115.12h1.20v1.25h-1.20zM441.97 117.63h1.20v1.25h-1.20zM441.97 120.14h1.20v1.25h-1.20zM441.97 122.64h1.20v1.25h-1.20zM441.97 125.15h1.20v1.25h-1.20zM441.97 127.66h1.20v1.25h-1.20zM441.97 130.16h1.20v1.25h-1.20zM441.97 132.67h1.20v1.25h-1.20zM441.97 135.18h1.20v1.25h-1.20zM441.97 137.68h1.20v1.25h-1.20zM441.97 140.19h1.20v1.25h-1.20zM441.97 142.69h1.20v1.25h-1.20zM441.97 145.20h1.20v1.25h-1.20zM441.97 147.71h1.20v1.25h-1.20zM441.97 150.21h1.20v1.25h-1.20zM441.97 152.72h1.20v1.25h-1.20zM441.97 155.23h1.20v1.25h-1.20zM441.97 157.73h1.20v1.25h-1.20zM441.97 160.24h1.20v1.25h-1.20zM441.97 162.75h1.20v1.25h-1.20zM441.97 165.25h1.20v1.25h-1.20zM441.97 167.76h1.20v1.25h-1.20zM441.97 170.26h1.20v1.25h-1.20zM441.97 172.77h1.20v1.25h-1.20zM441.97 175.28h1.20v1.25h-1.20zM441.97 177.78h1.20v1.25h-1.20zM441.97 180.29h1.20v1.25h-1.20zM441.97 182.80h1.20v1.25h-1.20zM441.97 185.30h1.20v1.25h-1.20zM441.97 187.81h1.20v1.25h-1.20zM441.97 190.32h1.20v1.25h-1.20zM441.97 192.82h1.20v1.25h-1.20zM441.97 195.33h1.20v1.25h-1.20zM441.97 197.84h1.20v1.25h-1.20zM441.97 200.34h1.20v1.25h-1.20zM441.97 202.85h1.20v1.25h-1.20zM441.97 205.35h1.20v1.25h-1.20zM441.97 207.86h1.20v1.25h-1.20zM441.97 210.37h1.20v1.25h-1.20zM441.97 212.87h1.20v1.25h-1.20zM441.97 215.38h1.20v1.25h-1.20zM441.97 217.89h1.20v1.25h-1.20zM441.97 220.39h1.20v1.25h-1.20zM441.97 222.90h1.20v1.25h-1.20zM441.97 225.41h1.20v1.25h-1.20zM441.97 227.91h1.20v1.25h-1.20zM441.97 230.42h1.20v1.25h-1.20zM441.97 232.92h1.20v1.25h-1.20zM441.97 235.43h1.20v1.25h-1.20zM441.97 237.94h1.20v1.25h-1.20zM441.97 240.44h1.20v1.25h-1.20zM441.97 242.95h1.20v1.25h-1.20zM441.97 245.46h1.20v1.25h-1.20zM441.97 247.96h1.20v1.25h-1.20zM441.97 250.47h1.20v1.25h-1.20zM441.97 252.98h1.20v1.25h-1.20zM441.97 255.48h1.20v1.25h-1.20zM441.97 257.99h1.20v1.25h-1.20zM441.97 260.50h1.20v1.25h-1.20zM441.97 263.00h1.20v1.25h-1.20zM441.97 265.51h1.20v1.25h-1.20zM441.97 268.01h1.20v1.25h-1.20zM441.97 270.52h1.20v1.25h-1.20zM441.97 273.03h1.20v1.25h-1.20zM441.97 275.53h1.20v1.25h-1.20zM441.97 278.04h1.20v1.25h-1.20zM441.97 280.55h1.20v1.25h-1.20zM441.97 283.05h1.20v1.25h-1.20zM441.97 285.56h1.20v1.25h-1.20zM441.97 288.07h1.20v1.25h-1.20zM441.97 290.57h1.20v1.25h-1.20zM441.97 293.08h1.20v1.25h-1.20zM441.97 295.58h1.20v1.25h-1.20zM441.97 298.09h1.20v1.25h-1.20zM441.97 300.60h1.20v1.25h-1.20zM441.97 303.10h1.20v1.25h-1.20zM441.97 305.61h1.20v1.25h-1.20zM441.97 308.12h1.20v1.25h-1.20zM441.97 310.62h1.20v1.25h-1.20zM441.97 313.13h1.20v1.25h-1.20zM441.97 315.64h1.20v1.25h-1.20zM441.97 318.14h1.20v1.25h-1.20zM441.97 320.65h1.20v1.25h-1.20zM441.97 323.16h1.20v1.25h-1.20zM441.97 325.66h1.20v1.25h-1.20zM441.97 328.17h1.20v1.25h-1.20zM441.97 330.67h1.20v1.25h-1.20zM441.97 333.18h1.20v1.25h-1.20zM441.97 335.69h1.20v1.25h-1.20zM441.97 338.19h1.20v1.25h-1.20zM441.97 340.70h1.20v1.25h-1.20zM441.97 343.21h1.20v1.25h-1.20zM441.97 345.71h1.20v1.25h-1.20zM441.97 348.22h1.20v1.25h-1.20zM441.97 350.73h1.20v1.25h-1.20zM441.97 353.23h1.20v1.25h-1.20zM441.97 355.74h1.20v1.25h-1.20zM441.97 358.24h1.20v1.25h-1.20zM441.97 360.75h1.20v1.25h-1.20zM441.97 363.26h1.20v1.25h-1.20zM441.97 365.76h1.20v1.25h-1.20zM441.97 368.27h1.20v1.25h-1.20zM441.97 370.78h1.20v1.25h-1.20zM441.97 373.28h1.20v1.25h-1.20zM441.97 375.79h1.20v1.25h-1.20zM441.97 378.30h1.20v1.25h-1.20zM441.97 380.80h1.20v1.25h-1.20zM441.97 383.31h1.20v1.25h-1.20zM441.97 385.82h1.20v1.25h-1.20zM441.97 388.32h1.20v1.25h-1.20zM441.97 390.83h1.20v1.25h-1.20zM441.97 393.33h1.20v1.25h-1.20zM441.97 395.84h1.20v1.25h-1.20zM441.97 398.35h1.20v1.25h-1.20zM441.97 400.85h1.20v1.25h-1.20zM441.97 403.36h1.20v1.25h-1.20zM441.97 405.87h1.20v1.25h-1.20zM441.97 408.37h1.20v1.25h-1.20zM441.97 410.88h1.20v1.25h-1.20zM441.97 413.39h1.20v1.25h-1.20zM441.97 415.89h1.20v1.25h-1.20zM441.97 418.40h1.20v1.25h-1.20zM441.97 420.90h1.20v1.25h-1.20zM441.97 423.41h1.20v1.25h-1.20zM441.97 425.92h1.20v1.25h-1.20zM441.97 428.42h1.20v1.25h-1.20zM441.97 430.93h1.20v1.25h-1.20zM441.97 433.44h1.20v1.25h-1.20zM441.97 435.94h1.20v1.25h-1.20zM441.97 438.45h1.20v1.25h-1.20zM441.97 440.96h1.20v1.25h-1.20zM441.97 443.46h1.20v1.25h-1.20zM441.97 445.97h1.20v1.25h-1.20zM441.97 448.48h1.20v1.25h-1.20zM441.97 450.98h1.20v1.25h-1.20zM441.97 453.49h1.20v1.25h-1.20zM441.97 455.99h1.20v1.25h-1.20zM441.97 458.50h1.20v1.25h-1.20zM573.56 27.40h1.20v1.25h-1.20zM573.56 29.91h1.20v1.25h-1.20zM573.56 32.41h1.20v1.25h-1.20zM573.56 34.92h1.20v1.25h-1.20zM573.56 37.43h1.20v1.25h-1.20zM573.56 39.93h1.20v1.25h-1.20zM573.56 42.44h1.20v1.25h-1.20zM573.56 44.94h1.20v1.25h-1.20zM573.56 47.45h1.20v1.25h-1.20zM573.56 49.96h1.20v1.25h-1.20zM573.56 52.46h1.20v1.25h-1.20zM573.56 54.97h1.20v1.25h-1.20zM573.56 57.48h1.20v1.25h-1.20zM573.56 59.98h1.20v1.25h-1.20zM573.56 62.49h1.20v1.25h-1.20zM573.56 65.00h1.20v1.25h-1.20zM573.56 67.50h1.20v1.25h-1.20zM573.56 70.01h1.20v1.25h-1.20zM573.56 72.52h1.20v1.25h-1.20zM573.56 75.02h1.20v1.25h-1.20zM573.56 77.53h1.20v1.25h-1.20zM573.56 80.03h1.20v1.25h-1.20zM573.56 82.54h1.20v1.25h-1.20zM573.56 85.05h1.20v1.25h-1.20zM573.56 87.55h1.20v1.25h-1.20zM573.56 90.06h1.20v1.25h-1.20zM573.56 92.57h1.20v1.25h-1.20zM573.56 95.07h1.20v1.25h-1.20zM573.56 97.58h1.20v1.25h-1.20zM573.56 100.09h1.20v1.25h-1.20zM573.56 102.59h1.20v1.25h-1.20zM573.56 105.10h1.20v1.25h-1.20zM573.56 107.60h1.20v1.25h-1.20zM573.56 110.11h1.20v1.25h-1.20zM573.56 112.62h1.20v1.25h-1.20zM573.56 115.12h1.20v1.25h-1.20zM573.56 117.63h1.20v1.25h-1.20zM573.56 120.14h1.20v1.25h-1.20zM573.56 122.64h1.20v1.25h-1.20zM573.56 125.15h1.20v1.25h-1.20zM573.56 127.66h1.20v1.25h-1.20zM573.56 130.16h1.20v1.25h-1.20zM573.56 132.67h1.20v1.25h-1.20zM573.56 135.18h1.20v1.25h-1.20zM573.56 137.68h1.20v1.25h-1.20zM573.56 140.19h1.20v1.25h-1.20zM573.56 142.69h1.20v1.25h-1.20zM573.56 145.20h1.20v1.25h-1.20zM573.56 147.71h1.20v1.25h-1.20zM573.56 150.21h1.20v1.25h-1.20zM573.56 152.72h1.20v1.25h-1.20zM573.56 155.23h1.20v1.25h-1.20zM573.56 157.73h1.20v1.25h-1.20zM573.56 160.24h1.20v1.25h-1.20zM573.56 162.75h1.20v1.25h-1.20zM573.56 165.25h1.20v1.25h-1.20zM573.56 167.76h1.20v1.25h-1.20zM573.56 170.26h1.20v1.25h-1.20zM573.56 172.77h1.20v1.25h-1.20zM573.56 175.28h1.20v1.25h-1.20zM573.56 177.78h1.20v1.25h-1.20zM573.56 180.29h1.20v1.25h-1.20zM573.56 182.80h1.20v1.25h-1.20zM573.56 185.30h1.20v1.25h-1.20zM573.56 187.81h1.20v1.25h-1.20zM573.56 190.32h1.20v1.25h-1.20zM573.56 192.82h1.20v1.25h-1.20zM573.56 195.33h1.20v1.25h-1.20zM573.56 197.84h1.20v1.25h-1.20zM573.56 200.34h1.20v1.25h-1.20zM573.56 202.85h1.20v1.25h-1.20zM573.56 205.35h1.20v1.25h-1.20zM573.56 207.86h1.20v1.25h-1.20zM573.56 210.37h1.20v1.25h-1.20zM573.56 212.87h1.20v1.25h-1.20zM573.56 215.38h1.20v1.25h-1.20zM573.56 217.89h1.20v1.25h-1.20zM573.56 220.39h1.20v1.25h-1.20zM573.56 222.90h1.20v1.25h-1.20zM573.56 225.41h1.20v1.25h-1.20zM573.56 227.91h1.20v1.25h-1.20zM573.56 230.42h1.20v1.25h-1.20zM573.56 232.92h1.20v1.25h-1.20zM573.56 235.43h1.20v1.25h-1.20zM573.56 237.94h1.20v1.25h-1.20zM573.56 240.44h1.20v1.25h-1.20zM573.56 242.95h1.20v1.25h-1.20zM573.56 245.46h1.20v1.25h-1.20zM573.56 247.96h1.20v1.25h-1.20zM573.56 250.47h1.20v1.25h-1.20zM573.56 252.98h1.20v1.25h-1.20zM573.56 255.48h1.20v1.25h-1.20zM573.56 257.99h1.20v1.25h-1.20zM573.56 260.50h1.20v1.25h-1.20zM573.56 263.00h1.20v1.25h-1.20zM573.56 265.51h1.20v1.25h-1.20zM573.56 268.01h1.20v1.25h-1.20zM573.56 270.52h1.20v1.25h-1.20zM573.56 273.03h1.20v1.25h-1.20zM573.56 275.53h1.20v1.25h-1.20zM573.56 278.04h1.20v1.25h-1.20zM573.56 280.55h1.20v1.25h-1.20zM573.56 283.05h1.20v1.25h-1.20zM573.56 285.56h1.20v1.25h-1.20zM573.56 288.07h1.20v1.25h-1.20zM573.56 290.57h1.20v1.25h-1.20zM573.56 293.08h1.20v1.25h-1.20zM573.56 295.58h1.20v1.25h-1.20zM573.56 298.09h1.20v1.25h-1.20zM573.56 300.60h1.20v1.25h-1.20zM573.56 303.10h1.20v1.25h-1.20zM573.56 305.61h1.20v1.25h-1.20zM573.56 308.12h1.20v1.25h-1.20zM573.56 310.62h1.20v1.25h-1.20zM573.56 313.13h1.20v1.25h-1.20zM573.56 315.64h1.20v1.25h-1.20zM573.56 318.14h1.20v1.25h-1.20zM573.56 320.65h1.20v1.25h-1.20zM573.56 323.16h1.20v1.25h-1.20zM573.56 325.66h1.20v1.25h-1.20zM573.56 328.17h1.20v1.25h-1.20zM573.56 330.67h1.20v1.25h-1.20zM573.56 333.18h1.20v1.25h-1.20zM573.56 335.69h1.20v1.25h-1.20zM573.56 338.19h1.20v1.25h-1.20zM573.56 340.70h1.20v1.25h-1.20zM573.56 343.21h1.20v1.25h-1.20zM573.56 345.71h1.20v1.25h-1.20zM573.56 348.22h1.20v1.25h-1.20zM573.56 350.73h1.20v1.25h-1.20zM573.56 353.23h1.20v1.25h-1.20zM573.56 355.74h1.20v1.25h-1.20zM573.56 358.24h1.20v1.25h-1.20zM573.56 360.75h1.20v1.25h-1.20zM573.56 363.26h1.20v1.25h-1.20zM573.56 365.76h1.20v1.25h-1.20zM573.56 368.27h1.20v1.25h-1.20zM573.56 370.78h1.20v1.25h-1.20zM573.56 373.28h1.20v1.25h-1.20zM573.56 375.79h1.20v1.25h-1.20zM573.56 378.30h1.20v1.25h-1.20zM573.56 380.80h1.20v1.25h-1.20zM573.56 383.31h1.20v1.25h-1.20zM573.56 385.82h1.20v1.25h-1.20zM573.56 388.32h1.20v1.25h-1.20zM573.56 390.83h1.20v1.25h-1.20zM573.56 393.33h1.20v1.25h-1.20zM573.56 395.84h1.20v1.25h-1.20zM573.56 398.35h1.20v1.25h-1.20zM573.56 400.85h1.20v1.25h-1.20zM573.56 403.36h1.20v1.25h-1.20zM573.56 405.87h1.20v1.25h-1.20zM573.56 408.37h1.20v1.25h-1.20zM573.56 410.88h1.20v1.25h-1.20zM573.56 413.39h1.20v1.25h-1.20zM573.56 415.89h1.20v1.25h-1.20zM573.56 418.40h1.20v1.25h-1.20zM573.56 420.90h1.20v1.25h-1.20zM573.56 423.41h1.20v1.25h-1.20zM573.56 425.92h1.20v1.25h-1.20zM573.56 428.42h1.20v1.25h-1.20zM573.56 430.93h1.20v1.25h-1.20zM573.56 433.44h1.20v1.25h-1.20zM573.56 435.94h1.20v1.25h-1.20zM573.56 438.45h1.20v1.25h-1.20zM573.56 440.96h1.20v1.25h-1.20zM573.56 443.46h1.20v1.25h-1.20zM573.56 445.97h1.20v1.25h-1.20zM573.56 448.48h1.20v1.25h-1.20zM573.56 450.98h1.20v1.25h-1.20zM573.56 453.49h1.20v1.25h-1.20zM573.56 455.99h1.20v1.25h-1.20zM573.56 458.50h1.20v1.25h-1.20zM698.88 27.40h1.20v1.25h-1.20zM698.88 29.91h1.20v1.25h-1.20zM698.88 32.41h1.20v1.25h-1.20zM698.88 34.92h1.20v1.25h-1.20zM698.88 37.43h1.20v1.25h-1.20zM698.88 39.93h1.20v1.25h-1.20zM698.88 42.44h1.20v1.25h-1.20zM698.88 44.94h1.20v1.25h-1.20zM698.88 47.45h1.20v1.25h-1.20zM698.88 49.96h1.20v1.25h-1.20zM698.88 52.46h1.20v1.25h-1.20zM698.88 54.97h1.20v1.25h-1.20zM698.88 57.48h1.20v1.25h-1.20zM698.88 59.98h1.20v1.25h-1.20zM698.88 62.49h1.20v1.25h-1.20zM698.88 65.00h1.20v1.25h-1.20zM698.88 67.50h1.20v1.25h-1.20zM698.88 70.01h1.20v1.25h-1.20zM698.88 72.52h1.20v1.25h-1.20zM698.88 75.02h1.20v1.25h-1.20zM698.88 77.53h1.20v1.25h-1.20zM698.88 80.03h1.20v1.25h-1.20zM698.88 82.54h1.20v1.25h-1.20zM698.88 85.05h1.20v1.25h-1.20zM698.88 87.55h1.20v1.25h-1.20zM698.88 90.06h1.20v1.25h-1.20zM698.88 92.57h1.20v1.25h-1.20zM698.88 95.07h1.20v1.25h-1.20zM698.88 97.58h1.20v1.25h-1.20zM698.88 100.09h1.20v1.25h-1.20zM698.88 102.59h1.20v1.25h-1.20zM698.88 105.10h1.20v1.25h-1.20zM698.88 107.60h1.20v1.25h-1.20zM698.88 110.11h1.20v1.25h-1.20zM698.88 112.62h1.20v1.25h-1.20zM698.88 115.12h1.20v1.25h-1.20zM698.88 117.63h1.20v1.25h-1.20zM698.88 120.14h1.20v1.25h-1.20zM698.88 122.64h1.20v1.25h-1.20zM698.88 125.15h1.20v1.25h-1.20zM698.88 127.66h1.20v1.25h-1.20zM698.88 130.16h1.20v1.25h-1.20zM698.88 132.67h1.20v1.25h-1.20zM698.88 135.18h1.20v1.25h-1.20zM698.88 137.68h1.20v1.25h-1.20zM698.88 140.19h1.20v1.25h-1.20zM698.88 142.69h1.20v1.25h-1.20zM698.88 145.20h1.20v1.25h-1.20zM698.88 147.71h1.20v1.25h-1.20zM698.88 150.21h1.20v1.25h-1.20zM698.88 152.72h1.20v1.25h-1.20zM698.88 155.23h1.20v1.25h-1.20zM698.88 157.73h1.20v1.25h-1.20zM698.88 160.24h1.20v1.25h-1.20zM698.88 162.75h1.20v1.25h-1.20zM698.88 165.25h1.20v1.25h-1.20zM698.88 167.76h1.20v1.25h-1.20zM698.88 170.26h1.20v1.25h-1.20zM698.88 172.77h1.20v1.25h-1.20zM698.88 175.28h1.20v1.25h-1.20zM698.88 177.78h1.20v1.25h-1.20zM698.88 180.29h1.20v1.25h-1.20zM698.88 182.80h1.20v1.25h-1.20zM698.88 185.30h1.20v1.25h-1.20zM698.88 187.81h1.20v1.25h-1.20zM698.88 190.32h1.20v1.25h-1.20zM698.88 192.82h1.20v1.25h-1.20zM698.88 195.33h1.20v1.25h-1.20zM698.88 197.84h1.20v1.25h-1.20zM698.88 200.34h1.20v1.25h-1.20zM698.88 202.85h1.20v1.25h-1.20zM698.88 205.35h1.20v1.25h-1.20zM698.88 207.86h1.20v1.25h-1.20zM698.88 210.37h1.20v1.25h-1.20zM698.88 212.87h1.20v1.25h-1.20zM698.88 215.38h1.20v1.25h-1.20zM698.88 217.89h1.20v1.25h-1.20zM698.88 220.39h1.20v1.25h-1.20zM698.88 222.90h1.20v1.25h-1.20zM698.88 225.41h1.20v1.25h-1.20zM698.88 227.91h1.20v1.25h-1.20zM698.88 230.42h1.20v1.25h-1.20zM698.88 232.92h1.20v1.25h-1.20zM698.88 235.43h1.20v1.25h-1.20zM698.88 237.94h1.20v1.25h-1.20zM698.88 240.44h1.20v1.25h-1.20zM698.88 242.95h1.20v1.25h-1.20zM698.88 245.46h1.20v1.25h-1.20zM698.88 247.96h1.20v1.25h-1.20zM698.88 250.47h1.20v1.25h-1.20zM698.88 252.98h1.20v1.25h-1.20zM698.88 255.48h1.20v1.25h-1.20zM698.88 257.99h1.20v1.25h-1.20zM698.88 260.50h1.20v1.25h-1.20zM698.88 263.00h1.20v1.25h-1.20zM698.88 265.51h1.20v1.25h-1.20zM698.88 268.01h1.20v1.25h-1.20zM698.88 270.52h1.20v1.25h-1.20zM698.88 273.03h1.20v1.25h-1.20zM698.88 275.53h1.20v1.25h-1.20zM698.88 278.04h1.20v1.25h-1.20zM698.88 280.55h1.20v1.25h-1.20zM698.88 283.05h1.20v1.25h-1.20zM698.88 285.56h1.20v1.25h-1.20zM698.88 288.07h1.20v1.25h-1.20zM698.88 290.57h1.20v1.25h-1.20zM698.88 293.08h1.20v1.25h-1.20zM698.88 295.58h1.20v1.25h-1.20zM698.88 298.09h1.20v1.25h-1.20zM698.88 300.60h1.20v1.25h-1.20zM698.88 303.10h1.20v1.25h-1.20zM698.88 305.61h1.20v1.25h-1.20zM698.88 308.12h1.20v1.25h-1.20zM698.88 310.62h1.20v1.25h-1.20zM698.88 313.13h1.20v1.25h-1.20zM698.88 315.64h1.20v1.25h-1.20zM698.88 318.14h1.20v1.25h-1.20zM698.88 320.65h1.20v1.25h-1.20zM698.88 323.16h1.20v1.25h-1.20zM698.88 325.66h1.20v1.25h-1.20zM698.88 328.17h1.20v1.25h-1.20zM698.88 330.67h1.20v1.25h-1.20zM698.88 333.18h1.20v1.25h-1.20zM698.88 335.69h1.20v1.25h-1.20zM698.88 338.19h1.20v1.25h-1.20zM698.88 340.70h1.20v1.25h-1.20zM698.88 343.21h1.20v1.25h-1.20zM698.88 345.71h1.20v1.25h-1.20zM698.88 348.22h1.20v1.25h-1.20zM698.88 350.73h1.20v1.25h-1.20zM698.88 353.23h1.20v1.25h-1.20zM698.88 355.74h1.20v1.25h-1.20zM698.88 358.24h1.20v1.25h-1.20zM698.88 360.75h1.20v1.25h-1.20zM698.88 363.26h1.20v1.25h-1.20zM698.88 365.76h1.20v1.25h-1.20zM698.88 368.27h1.20v1.25h-1.20zM698.88 370.78h1.20v1.25h-1.20zM698.88 373.28h1.20v1.25h-1.20zM698.88 375.79h1.20v1.25h-1.20zM698.88 378.30h1.20v1.25h-1.20zM698.88 380.80h1.20v1.25h-1.20zM698.88 383.31h1.20v1.25h-1.20zM698.88 385.82h1.20v1.25h-1.20zM698.88 388.32h1.20v1.25h-1.20zM698.88 390.83h1.20v1.25h-1.20zM698.88 393.33h1.20v1.25h-1.20zM698.88 395.84h1.20v1.25h-1.20zM698.88 398.35h1.20v1.25h-1.20zM698.88 400.85h1.20v1.25h-1.20zM698.88 403.36h1.20v1.25h-1.20zM698.88 405.87h1.20v1.25h-1.20zM698.88 408.37h1.20v1.25h-1.20zM698.88 410.88h1.20v1.25h-1.20zM698.88 413.39h1.20v1.25h-1.20zM698.88 415.89h1.20v1.25h-1.20zM698.88 418.40h1.20v1.25h-1.20zM698.88 420.90h1.20v1.25h-1.20zM698.88 423.41h1.20v1.25h-1.20zM698.88 425.92h1.20v1.25h-1.20zM698.88 428.42h1.20v1.25h-1.20zM698.88 430.93h1.20v1.25h-1.20zM698.88 433.44h1.20v1.25h-1.20zM698.88 435.94h1.20v1.25h-1.20zM698.88 438.45h1.20v1.25h-1.20zM698.88 440.96h1.20v1.25h-1.20zM698.88 443.46h1.20v1.25h-1.20zM698.88 445.97h1.20v1.25h-1.20zM698.88 448.48h1.20v1.25h-1.20zM698.88 450.98h1.20v1.25h-1.20zM698.88 453.49h1.20v1.25h-1.20zM698.88 455.99h1.20v1.25h-1.20zM698.88 458.50h1.20v1.25h-1.20zM830.46 27.40h1.20v1.25h-1.20zM830.46 29.91h1.20v1.25h-1.20zM830.46 32.41h1.20v1.25h-1.20zM830.46 34.92h1.20v1.25h-1.20zM830.46 37.43h1.20v1.25h-1.20zM830.46 39.93h1.20v1.25h-1.20zM830.46 42.44h1.20v1.25h-1.20zM830.46 44.94h1.20v1.25h-1.20zM830.46 47.45h1.20v1.25h-1.20zM830.46 49.96h1.20v1.25h-1.20zM830.46 52.46h1.20v1.25h-1.20zM830.46 54.97h1.20v1.25h-1.20zM830.46 57.48h1.20v1.25h-1.20zM830.46 59.98h1.20v1.25h-1.20zM830.46 62.49h1.20v1.25h-1.20zM830.46 65.00h1.20v1.25h-1.20zM830.46 67.50h1.20v1.25h-1.20zM830.46 70.01h1.20v1.25h-1.20zM830.46 72.52h1.20v1.25h-1.20zM830.46 75.02h1.20v1.25h-1.20zM830.46 77.53h1.20v1.25h-1.20zM830.46 80.03h1.20v1.25h-1.20zM830.46 82.54h1.20v1.25h-1.20zM830.46 85.05h1.20v1.25h-1.20zM830.46 87.55h1.20v1.25h-1.20zM830.46 90.06h1.20v1.25h-1.20zM830.46 92.57h1.20v1.25h-1.20zM830.46 95.07h1.20v1.25h-1.20zM830.46 97.58h1.20v1.25h-1.20zM830.46 100.09h1.20v1.25h-1.20zM830.46 102.59h1.20v1.25h-1.20zM830.46 105.10h1.20v1.25h-1.20zM830.46 107.60h1.20v1.25h-1.20zM830.46 110.11h1.20v1.25h-1.20zM830.46 112.62h1.20v1.25h-1.20zM830.46 115.12h1.20v1.25h-1.20zM830.46 117.63h1.20v1.25h-1.20zM830.46 120.14h1.20v1.25h-1.20zM830.46 122.64h1.20v1.25h-1.20zM830.46 125.15h1.20v1.25h-1.20zM830.46 127.66h1.20v1.25h-1.20zM830.46 130.16h1.20v1.25h-1.20zM830.46 132.67h1.20v1.25h-1.20zM830.46 135.18h1.20v1.25h-1.20zM830.46 137.68h1.20v1.25h-1.20zM830.46 140.19h1.20v1.25h-1.20zM830.46 142.69h1.20v1.25h-1.20zM830.46 145.20h1.20v1.25h-1.20zM830.46 147.71h1.20v1.25h-1.20zM830.46 150.21h1.20v1.25h-1.20zM830.46 152.72h1.20v1.25h-1.20zM830.46 155.23h1.20v1.25h-1.20zM830.46 157.73h1.20v1.25h-1.20zM830.46 160.24h1.20v1.25h-1.20zM830.46 162.75h1.20v1.25h-1.20zM830.46 165.25h1.20v1.25h-1.20zM830.46 167.76h1.20v1.25h-1.20zM830.46 170.26h1.20v1.25h-1.20zM830.46 172.77h1.20v1.25h-1.20zM830.46 175.28h1.20v1.25h-1.20zM830.46 177.78h1.20v1.25h-1.20zM830.46 180.29h1.20v1.25h-1.20zM830.46 182.80h1.20v1.25h-1.20zM830.46 185.30h1.20v1.25h-1.20zM830.46 187.81h1.20v1.25h-1.20zM830.46 190.32h1.20v1.25h-1.20zM830.46 192.82h1.20v1.25h-1.20zM830.46 195.33h1.20v1.25h-1.20zM830.46 197.84h1.20v1.25h-1.20zM830.46 200.34h1.20v1.25h-1.20zM830.46 202.85h1.20v1.25h-1.20zM830.46 205.35h1.20v1.25h-1.20zM830.46 207.86h1.20v1.25h-1.20zM830.46 210.37h1.20v1.25h-1.20zM830.46 212.87h1.20v1.25h-1.20zM830.46 215.38h1.20v1.25h-1.20zM830.46 217.89h1.20v1.25h-1.20zM830.46 220.39h1.20v1.25h-1.20zM830.46 222.90h1.20v1.25h-1.20zM830.46 225.41h1.20v1.25h-1.20zM830.46 227.91h1.20v1.25h-1.20zM830.46 230.42h1.20v1.25h-1.20zM830.46 232.92h1.20v1.25h-1.20zM830.46 235.43h1.20v1.25h-1.20zM830.46 237.94h1.20v1.25h-1.20zM830.46 240.44h1.20v1.25h-1.20zM830.46 242.95h1.20v1.25h-1.20zM830.46 245.46h1.20v1.25h-1.20zM830.46 247.96h1.20v1.25h-1.20zM830.46 250.47h1.20v1.25h-1.20zM830.46 252.98h1.20v1.25h-1.20zM830.46 255.48h1.20v1.25h-1.20zM830.46 257.99h1.20v1.25h-1.20zM830.46 260.50h1.20v1.25h-1.20zM830.46 263.00h1.20v1.25h-1.20zM830.46 265.51h1.20v1.25h-1.20zM830.46 268.01h1.20v1.25h-1.20zM830.46 270.52h1.20v1.25h-1.20zM830.46 273.03h1.20v1.25h-1.20zM830.46 275.53h1.20v1.25h-1.20zM830.46 278.04h1.20v1.25h-1.20zM830.46 280.55h1.20v1.25h-1.20zM830.46 283.05h1.20v1.25h-1.20zM830.46 285.56h1.20v1.25h-1.20zM830.46 288.07h1.20v1.25h-1.20zM830.46 290.57h1.20v1.25h-1.20zM830.46 293.08h1.20v1.25h-1.20zM830.46 295.58h1.20v1.25h-1.20zM830.46 298.09h1.20v1.25h-1.20zM830.46 300.60h1.20v1.25h-1.20zM830.46 303.10h1.20v1.25h-1.20zM830.46 305.61h1.20v1.25h-1.20zM830.46 308.12h1.20v1.25h-1.20zM830.46 310.62h1.20v1.25h-1.20zM830.46 313.13h1.20v1.25h-1.20zM830.46 315.64h1.20v1.25h-1.20zM830.46 318.14h1.20v1.25h-1.20zM830.46 320.65h1.20v1.25h-1.20zM830.46 323.16h1.20v1.25h-1.20zM830.46 325.66h1.20v1.25h-1.20zM830.46 328.17h1.20v1.25h-1.20zM830.46 330.67h1.20v1.25h-1.20zM830.46 333.18h1.20v1.25h-1.20zM830.46 335.69h1.20v1.25h-1.20zM830.46 338.19h1.20v1.25h-1.20zM830.46 340.70h1.20v1.25h-1.20zM830.46 343.21h1.20v1.25h-1.20zM830.46 345.71h1.20v1.25h-1.20zM830.46 348.22h1.20v1.25h-1.20zM830.46 350.73h1.20v1.25h-1.20zM830.46 353.23h1.20v1.25h-1.20zM830.46 355.74h1.20v1.25h-1.20zM830.46 358.24h1.20v1.25h-1.20zM830.46 360.75h1.20v1.25h-1.20zM830.46 363.26h1.20v1.25h-1.20zM830.46 365.76h1.20v1.25h-1.20zM830.46 368.27h1.20v1.25h-1.20zM830.46 370.78h1.20v1.25h-1.20zM830.46 373.28h1.20v1.25h-1.20zM830.46 375.79h1.20v1.25h-1.20zM830.46 378.30h1.20v1.25h-1.20zM830.46 380.80h1.20v1.25h-1.20zM830.46 383.31h1.20v1.25h-1.20zM830.46 385.82h1.20v1.25h-1.20zM830.46 388.32h1.20v1.25h-1.20zM830.46 390.83h1.20v1.25h-1.20zM830.46 393.33h1.20v1.25h-1.20zM830.46 395.84h1.20v1.25h-1.20zM830.46 398.35h1.20v1.25h-1.20zM830.46 400.85h1.20v1.25h-1.20zM830.46 403.36h1.20v1.25h-1.20zM830.46 405.87h1.20v1.25h-1.20zM830.46 408.37h1.20v1.25h-1.20zM830.46 410.88h1.20v1.25h-1.20zM830.46 413.39h1.20v1.25h-1.20zM830.46 415.89h1.20v1.25h-1.20zM830.46 418.40h1.20v1.25h-1.20zM830.46 420.90h1.20v1.25h-1.20zM830.46 423.41h1.20v1.25h-1.20zM830.46 425.92h1.20v1.25h-1.20zM830.46 428.42h1.20v1.25h-1.20zM830.46 430.93h1.20v1.25h-1.20zM830.46 433.44h1.20v1.25h-1.20zM830.46 435.94h1.20v1.25h-1.20zM830.46 438.45h1.20v1.25h-1.20zM830.46 440.96h1.20v1.25h-1.20zM830.46 443.46h1.20v1.25h-1.20zM830.46 445.97h1.20v1.25h-1.20zM830.46 448.48h1.20v1.25h-1.20zM830.46 450.98h1.20v1.25h-1.20zM830.46 453.49h1.20v1.25h-1.20zM830.46 455.99h1.20v1.25h-1.20zM830.46 458.50h1.20v1.25h-1.20z" fill="#2a2a2a"/>
<rect x="3.30" y="17.00" width="1.80" height="360.00" fill="#ff3030"/>
<rect x="3.30" y="186.00" width="1.80" height="24.00" fill="#40e8f0"/>
<rect x="3.30" y="381.00" width="1.80" height="51.00" fill="#ff3030"/>
<rect x="3.30" y="50.45" width="1.80" height="1.40" fill="#30c8d8"/><rect x="3.30" y="73.56" width="1.80" height="1.40" fill="#30c8d8"/><rect x="3.30" y="96.67" width="1.80" height="1.40" fill="#30c8d8"/><rect x="3.30" y="119.78" width="1.80" height="1.40" fill="#30c8d8"/><rect x="3.30" y="142.90" width="1.80" height="1.40" fill="#30c8d8"/><rect x="3.30" y="166.00" width="1.80" height="1.40" fill="#30c8d8"/><rect x="3.30" y="189.12" width="1.80" height="1.40" fill="#30c8d8"/><rect x="3.30" y="212.22" width="1.80" height="1.40" fill="#30c8d8"/><rect x="3.30" y="235.34" width="1.80" height="1.40" fill="#30c8d8"/><rect x="3.30" y="258.44" width="1.80" height="1.40" fill="#30c8d8"/><rect x="3.30" y="281.56" width="1.80" height="1.40" fill="#30c8d8"/><rect x="3.30" y="304.67" width="1.80" height="1.40" fill="#30c8d8"/><rect x="3.30" y="327.78" width="1.80" height="1.40" fill="#30c8d8"/><rect x="3.30" y="350.89" width="1.80" height="1.40" fill="#30c8d8"/><rect x="3.30" y="374.00" width="1.80" height="1.40" fill="#30c8d8"/><rect x="3.30" y="419.95" width="1.80" height="1.40" fill="#30c8d8"/><rect x="3.30" y="406.80" width="1.80" height="1.40" fill="#30c8d8"/>
<rect x="1.80" y="175.00" width="4.20" height="12.00" fill="#000"/><rect x="3.00" y="176.20" width="1.80" height="9.60" fill="#f4a0a0"/>
<rect x="9.87" y="174.20" width="1.30" height="25.00" fill="#000"/><rect x="8.02" y="188.75" width="5.00" height="1.50" fill="#000"/><rect x="16.13" y="185.20" width="1.30" height="19.00" fill="#000"/><rect x="14.28" y="188.75" width="5.00" height="3.20" fill="#000"/><rect x="15.38" y="189.85" width="2.80" height="1.00" fill="#ff0000"/><rect x="22.40" y="134.00" width="1.30" height="34.70" fill="#000"/><rect x="20.55" y="144.95" width="5.00" height="16.90" fill="#000"/><rect x="21.65" y="146.05" width="2.80" height="14.70" fill="#00ff00"/><rect x="28.66" y="242.30" width="1.30" height="48.90" fill="#000"/><rect x="26.81" y="258.85" width="5.00" height="13.90" fill="#000"/><rect x="27.91" y="259.95" width="2.80" height="11.70" fill="#00ff00"/><rect x="34.93" y="253.00" width="1.30" height="25.00" fill="#000"/><rect x="33.08" y="260.35" width="5.00" height="12.40" fill="#000"/><rect x="34.18" y="261.45" width="2.80" height="10.20" fill="#ff0000"/><rect x="41.20" y="270.70" width="1.30" height="43.80" fill="#000"/><rect x="39.35" y="270.45" width="5.00" height="39.30" fill="#000"/><rect x="40.45" y="271.55" width="2.80" height="37.10" fill="#ff0000"/><rect x="47.46" y="305.80" width="1.30" height="40.20" fill="#000"/><rect x="45.61" y="305.55" width="5.00" height="39.70" fill="#000"/><rect x="46.71" y="306.65" width="2.80" height="37.50" fill="#ff0000"/><rect x="53.73" y="335.20" width="1.30" height="26.00" fill="#000"/><rect x="51.88" y="348.55" width="5.00" height="10.90" fill="#000"/><rect x="52.98" y="349.65" width="2.80" height="8.70" fill="#ff0000"/><rect x="59.99" y="335.20" width="1.30" height="17.90" fill="#000"/><rect x="58.14" y="342.05" width="5.00" height="1.50" fill="#000"/><rect x="66.26" y="334.60" width="1.30" height="17.50" fill="#000"/><rect x="64.41" y="335.35" width="5.00" height="16.60" fill="#000"/><rect x="65.51" y="336.45" width="2.80" height="14.40" fill="#ff0000"/><rect x="72.53" y="306.80" width="1.30" height="39.20" fill="#000"/><rect x="70.68" y="309.05" width="5.00" height="35.10" fill="#000"/><rect x="71.78" y="310.15" width="2.80" height="32.90" fill="#00ff00"/><rect x="78.79" y="306.20" width="1.30" height="12.40" fill="#000"/><rect x="76.94" y="308.65" width="5.00" height="1.50" fill="#000"/><rect x="85.06" y="302.10" width="1.30" height="14.50" fill="#000"/><rect x="83.21" y="302.55" width="5.00" height="11.80" fill="#000"/><rect x="84.31" y="303.65" width="2.80" height="9.60" fill="#ff0000"/><rect x="91.32" y="301.60" width="1.30" height="11.90" fill="#000"/><rect x="89.47" y="303.15" width="5.00" height="7.60" fill="#000"/><rect x="90.57" y="304.25" width="2.80" height="5.40" fill="#00ff00"/><rect x="97.59" y="286.10" width="1.30" height="19.30" fill="#000"/><rect x="95.74" y="290.95" width="5.00" height="8.80" fill="#000"/><rect x="96.84" y="292.05" width="2.80" height="6.60" fill="#00ff00"/><rect x="103.86" y="277.80" width="1.30" height="10.40" fill="#000"/><rect x="102.01" y="281.85" width="5.00" height="1.50" fill="#000"/><rect x="110.12" y="240.30" width="1.30" height="35.80" fill="#000"/><rect x="108.27" y="245.05" width="5.00" height="31.20" fill="#000"/><rect x="109.37" y="246.15" width="2.80" height="29.00" fill="#00ff00"/><rect x="116.39" y="233.20" width="1.30" height="21.50" fill="#000"/><rect x="114.54" y="238.35" width="5.00" height="5.00" fill="#000"/><rect x="115.64" y="239.45" width="2.80" height="2.80" fill="#00ff00"/><rect x="122.65" y="233.60" width="1.30" height="17.00" fill="#000"/><rect x="120.80" y="233.35" width="5.00" height="8.00" fill="#000"/><rect x="121.90" y="234.45" width="2.80" height="5.80" fill="#ff0000"/><rect x="128.92" y="238.20" width="1.30" height="12.40" fill="#000"/><rect x="127.07" y="241.45" width="5.00" height="4.30" fill="#000"/><rect x="128.17" y="242.55" width="2.80" height="2.10" fill="#ff0000"/><rect x="135.19" y="237.20" width="1.30" height="10.40" fill="#000"/><rect x="133.34" y="240.05" width="5.00" height="4.30" fill="#000"/><rect x="134.44" y="241.15" width="2.80" height="2.10" fill="#ff0000"/><rect x="141.45" y="240.30" width="1.30" height="8.30" fill="#000"/><rect x="139.60" y="243.40" width="5.00" height="3.20" fill="#000"/><rect x="140.70" y="244.50" width="2.80" height="1.00" fill="#00ff00"/><rect x="147.72" y="238.20" width="1.30" height="13.00" fill="#000"/><rect x="145.87" y="243.65" width="5.00" height="5.80" fill="#000"/><rect x="146.97" y="244.75" width="2.80" height="3.60" fill="#ff0000"/><rect x="153.98" y="229.10" width="1.30" height="41.20" fill="#000"/><rect x="152.13" y="230.85" width="5.00" height="23.70" fill="#000"/><rect x="153.23" y="231.95" width="2.80" height="21.50" fill="#00ff00"/><rect x="160.25" y="217.30" width="1.30" height="12.40" fill="#000"/><rect x="158.40" y="220.35" width="5.00" height="4.10" fill="#000"/><rect x="159.50" y="221.45" width="2.80" height="1.90" fill="#00ff00"/><rect x="166.52" y="213.50" width="1.30" height="11.80" fill="#000"/><rect x="164.67" y="215.25" width="5.00" height="10.30" fill="#000"/><rect x="165.77" y="216.35" width="2.80" height="8.10" fill="#00ff00"/><rect x="172.78" y="208.80" width="1.30" height="14.40" fill="#000"/><rect x="170.93" y="214.05" width="5.00" height="6.00" fill="#000"/><rect x="172.03" y="215.15" width="2.80" height="3.80" fill="#ff0000"/><rect x="179.05" y="201.30" width="1.30" height="13.80" fill="#000"/><rect x="177.20" y="207.15" width="5.00" height="6.80" fill="#000"/><rect x="178.30" y="208.25" width="2.80" height="4.60" fill="#00ff00"/><rect x="185.31" y="199.30" width="1.30" height="16.40" fill="#000"/><rect x="183.46" y="199.85" width="5.00" height="10.00" fill="#000"/><rect x="184.56" y="200.95" width="2.80" height="7.80" fill="#ff0000"/><rect x="191.58" y="205.40" width="1.30" height="17.20" fill="#000"/><rect x="189.73" y="212.25" width="5.00" height="1.50" fill="#000"/><rect x="197.85" y="186.10" width="1.30" height="26.00" fill="#000"/><rect x="196.00" y="205.15" width="5.00" height="6.80" fill="#000"/><rect x="197.10" y="206.25" width="2.80" height="4.60" fill="#00ff00"/><rect x="204.11" y="178.40" width="1.30" height="20.50" fill="#000"/><rect x="202.26" y="181.75" width="5.00" height="13.30" fill="#000"/><rect x="203.36" y="182.85" width="2.80" height="11.10" fill="#00ff00"/><rect x="210.38" y="170.30" width="1.30" height="13.40" fill="#000"/><rect x="208.53" y="174.05" width="5.00" height="4.80" fill="#000"/><rect x="209.63" y="175.15" width="2.80" height="2.60" fill="#00ff00"/><rect x="216.64" y="170.30" width="1.30" height="16.40" fill="#000"/><rect x="214.79" y="173.45" width="5.00" height="8.40" fill="#000"/><rect x="215.89" y="174.55" width="2.80" height="6.20" fill="#ff0000"/><rect x="222.91" y="171.30" width="1.30" height="15.40" fill="#000"/><rect x="221.06" y="177.75" width="5.00" height="6.60" fill="#000"/><rect x="222.16" y="178.85" width="2.80" height="4.40" fill="#ff0000"/><rect x="229.18" y="166.80" width="1.30" height="11.80" fill="#000"/><rect x="227.33" y="174.05" width="5.00" height="3.80" fill="#000"/><rect x="228.43" y="175.15" width="2.80" height="1.60" fill="#00ff00"/><rect x="235.44" y="158.10" width="1.30" height="21.90" fill="#000"/><rect x="233.59" y="160.85" width="5.00" height="13.30" fill="#000"/><rect x="234.69" y="161.95" width="2.80" height="11.10" fill="#00ff00"/><rect x="241.71" y="155.00" width="1.30" height="37.20" fill="#000"/><rect x="239.86" y="157.85" width="5.00" height="33.20" fill="#000"/><rect x="240.96" y="158.95" width="2.80" height="31.00" fill="#ff0000"/><rect x="247.97" y="199.30" width="1.30" height="25.30" fill="#000"/><rect x="246.12" y="202.05" width="5.00" height="6.60" fill="#000"/><rect x="247.22" y="203.15" width="2.80" height="4.40" fill="#ff0000"/><rect x="254.24" y="209.40" width="1.30" height="12.80" fill="#000"/><rect x="252.39" y="211.05" width="5.00" height="6.70" fill="#000"/><rect x="253.49" y="212.15" width="2.80" height="4.50" fill="#ff0000"/><rect x="260.51" y="192.00" width="1.30" height="28.20" fill="#000"/><rect x="258.66" y="198.45" width="5.00" height="17.50" fill="#000"/><rect x="259.76" y="199.55" width="2.80" height="15.30" fill="#00ff00"/><rect x="266.77" y="173.30" width="1.30" height="35.10" fill="#000"/><rect x="264.92" y="173.45" width="5.00" height="32.40" fill="#000"/><rect x="266.02" y="174.55" width="2.80" height="30.20" fill="#00ff00"/><rect x="273.04" y="163.20" width="1.30" height="14.40" fill="#000"/><rect x="271.19" y="166.95" width="5.00" height="9.40" fill="#000"/><rect x="272.29" y="168.05" width="2.80" height="7.20" fill="#ff0000"/><rect x="279.30" y="166.20" width="1.30" height="23.20" fill="#000"/><rect x="277.45" y="174.05" width="5.00" height="6.20" fill="#000"/><rect x="278.55" y="175.15" width="2.80" height="4.00" fill="#00ff00"/><rect x="285.57" y="162.80" width="1.30" height="25.50" fill="#000"/><rect x="283.72" y="170.05" width="5.00" height="18.50" fill="#000"/><rect x="284.82" y="171.15" width="2.80" height="16.30" fill="#ff0000"/><rect x="291.84" y="178.40" width="1.30" height="27.20" fill="#000"/><rect x="289.99" y="188.85" width="5.00" height="9.70" fill="#000"/><rect x="291.09" y="189.95" width="2.80" height="7.50" fill="#ff0000"/><rect x="298.10" y="176.40" width="1.30" height="25.50" fill="#000"/><rect x="296.25" y="177.15" width="5.00" height="16.30" fill="#000"/><rect x="297.35" y="178.25" width="2.80" height="14.10" fill="#00ff00"/><rect x="304.37" y="178.40" width="1.30" height="25.50" fill="#000"/><rect x="302.52" y="184.80" width="5.00" height="3.20" fill="#000"/><rect x="303.62" y="185.90" width="2.80" height="1.00" fill="#00ff00"/><rect x="310.63" y="170.30" width="1.30" height="33.60" fill="#000"/><rect x="308.78" y="179.15" width="5.00" height="18.60" fill="#000"/><rect x="309.88" y="180.25" width="2.80" height="16.40" fill="#ff0000"/><rect x="316.90" y="190.60" width="1.30" height="37.70" fill="#000"/><rect x="315.05" y="190.95" width="5.00" height="26.40" fill="#000"/><rect x="316.15" y="192.05" width="2.80" height="24.20" fill="#ff0000"/><rect x="323.17" y="204.80" width="1.30" height="18.40" fill="#000"/><rect x="321.32" y="209.15" width="5.00" height="4.20" fill="#000"/><rect x="322.42" y="210.25" width="2.80" height="2.00" fill="#ff0000"/><rect x="329.43" y="202.70" width="1.30" height="26.60" fill="#000"/><rect x="327.58" y="203.95" width="5.00" height="18.10" fill="#000"/><rect x="328.68" y="205.05" width="2.80" height="15.90" fill="#ff0000"/><rect x="335.70" y="209.90" width="1.30" height="21.40" fill="#000"/><rect x="333.85" y="213.25" width="5.00" height="16.60" fill="#000"/><rect x="334.95" y="214.35" width="2.80" height="14.40" fill="#ff0000"/><rect x="341.96" y="220.10" width="1.30" height="17.40" fill="#000"/><rect x="340.11" y="228.95" width="5.00" height="3.20" fill="#000"/><rect x="341.21" y="230.05" width="2.80" height="1.00" fill="#00ff00"/><rect x="348.23" y="224.60" width="1.30" height="39.80" fill="#000"/><rect x="346.38" y="231.05" width="5.00" height="30.70" fill="#000"/><rect x="347.48" y="232.15" width="2.80" height="28.50" fill="#ff0000"/><rect x="354.50" y="251.60" width="1.30" height="27.00" fill="#000"/><rect x="352.65" y="253.35" width="5.00" height="18.00" fill="#000"/><rect x="353.75" y="254.45" width="2.80" height="15.80" fill="#ff0000"/><rect x="360.76" y="258.10" width="1.30" height="14.40" fill="#000"/><rect x="358.91" y="264.75" width="5.00" height="1.50" fill="#000"/><rect x="367.03" y="254.60" width="1.30" height="16.50" fill="#000"/><rect x="365.18" y="257.85" width="5.00" height="8.00" fill="#000"/><rect x="366.28" y="258.95" width="2.80" height="5.80" fill="#ff0000"/><rect x="373.29" y="251.60" width="1.30" height="10.70" fill="#000"/><rect x="371.44" y="254.95" width="5.00" height="4.20" fill="#000"/><rect x="372.54" y="256.05" width="2.80" height="2.00" fill="#00ff00"/><rect x="379.56" y="217.50" width="1.30" height="32.20" fill="#000"/><rect x="377.71" y="224.95" width="5.00" height="21.00" fill="#000"/><rect x="378.81" y="226.05" width="2.80" height="18.80" fill="#00ff00"/><rect x="385.83" y="220.10" width="1.30" height="18.50" fill="#000"/><rect x="383.98" y="228.65" width="5.00" height="9.20" fill="#000"/><rect x="385.08" y="229.75" width="2.80" height="7.00" fill="#ff0000"/><rect x="392.09" y="234.90" width="1.30" height="30.70" fill="#000"/><rect x="390.24" y="237.15" width="5.00" height="23.40" fill="#000"/><rect x="391.34" y="238.25" width="2.80" height="21.20" fill="#ff0000"/><rect x="398.36" y="270.90" width="1.30" height="35.80" fill="#000"/><rect x="396.51" y="271.85" width="5.00" height="29.00" fill="#000"/><rect x="397.61" y="272.95" width="2.80" height="26.80" fill="#ff0000"/><rect x="404.62" y="299.80" width="1.30" height="14.40" fill="#000"/><rect x="402.77" y="299.55" width="5.00" height="9.40" fill="#000"/><rect x="403.87" y="300.65" width="2.80" height="7.20" fill="#ff0000"/><rect x="410.89" y="312.60" width="1.30" height="20.50" fill="#000"/><rect x="409.04" y="315.75" width="5.00" height="1.50" fill="#000"/><rect x="417.16" y="303.90" width="1.30" height="10.90" fill="#000"/><rect x="415.31" y="308.45" width="5.00" height="1.50" fill="#000"/><rect x="423.42" y="273.40" width="1.30" height="21.10" fill="#000"/><rect x="421.57" y="286.95" width="5.00" height="4.80" fill="#000"/><rect x="422.67" y="288.05" width="2.80" height="2.60" fill="#00ff00"/><rect x="429.69" y="289.30" width="1.30" height="18.40" fill="#000"/><rect x="427.84" y="292.05" width="5.00" height="4.10" fill="#000"/><rect x="428.94" y="293.15" width="2.80" height="1.90" fill="#ff0000"/><rect x="435.95" y="289.30" width="1.30" height="27.50" fill="#000"/><rect x="434.10" y="294.65" width="5.00" height="1.50" fill="#000"/><rect x="442.22" y="278.10" width="1.30" height="29.60" fill="#000"/><rect x="440.37" y="278.85" width="5.00" height="21.00" fill="#000"/><rect x="441.47" y="279.95" width="2.80" height="18.80" fill="#00ff00"/><rect x="448.49" y="155.10" width="1.30" height="36.70" fill="#000"/><rect x="446.64" y="181.85" width="5.00" height="7.60" fill="#000"/><rect x="447.74" y="182.95" width="2.80" height="5.40" fill="#00ff00"/><rect x="454.75" y="171.40" width="1.30" height="13.30" fill="#000"/><rect x="452.90" y="176.75" width="5.00" height="6.20" fill="#000"/><rect x="454.00" y="177.85" width="2.80" height="4.00" fill="#00ff00"/><rect x="461.02" y="150.00" width="1.30" height="29.70" fill="#000"/><rect x="459.17" y="160.95" width="5.00" height="15.50" fill="#000"/><rect x="460.27" y="162.05" width="2.80" height="13.30" fill="#00ff00"/><rect x="467.28" y="148.00" width="1.30" height="27.60" fill="#000"/><rect x="465.43" y="158.95" width="5.00" height="12.90" fill="#000"/><rect x="466.53" y="160.05" width="2.80" height="10.70" fill="#00ff00"/><rect x="473.55" y="161.80" width="1.30" height="19.90" fill="#000"/><rect x="471.70" y="162.95" width="5.00" height="18.00" fill="#000"/><rect x="472.80" y="164.05" width="2.80" height="15.80" fill="#ff0000"/><rect x="479.82" y="166.30" width="1.30" height="18.80" fill="#000"/><rect x="477.97" y="177.85" width="5.00" height="1.50" fill="#000"/><rect x="486.08" y="169.90" width="1.30" height="15.90" fill="#000"/><rect x="484.23" y="178.25" width="5.00" height="7.10" fill="#000"/><rect x="485.33" y="179.35" width="2.80" height="4.90" fill="#ff0000"/><rect x="492.35" y="177.40" width="1.30" height="22.00" fill="#000"/><rect x="490.50" y="190.80" width="5.00" height="3.20" fill="#000"/><rect x="491.60" y="191.90" width="2.80" height="1.00" fill="#ff0000"/><rect x="498.61" y="190.20" width="1.30" height="38.20" fill="#000"/><rect x="496.76" y="200.95" width="5.00" height="26.70" fill="#000"/><rect x="497.86" y="202.05" width="2.80" height="24.50" fill="#ff0000"/><rect x="504.88" y="222.10" width="1.30" height="21.60" fill="#000"/><rect x="503.03" y="223.85" width="5.00" height="12.90" fill="#000"/><rect x="504.13" y="224.95" width="2.80" height="10.70" fill="#ff0000"/><rect x="511.15" y="224.20" width="1.30" height="26.60" fill="#000"/><rect x="509.30" y="227.75" width="5.00" height="1.50" fill="#000"/><rect x="517.41" y="200.80" width="1.30" height="25.30" fill="#000"/><rect x="515.56" y="206.65" width="5.00" height="17.90" fill="#000"/><rect x="516.66" y="207.75" width="2.80" height="15.70" fill="#00ff00"/><rect x="523.68" y="193.10" width="1.30" height="21.10" fill="#000"/><rect x="521.83" y="199.55" width="5.00" height="11.40" fill="#000"/><rect x="522.93" y="200.65" width="2.80" height="9.20" fill="#00ff00"/><rect x="529.94" y="186.20" width="1.30" height="16.80" fill="#000"/><rect x="528.09" y="188.75" width="5.00" height="13.50" fill="#000"/><rect x="529.19" y="189.85" width="2.80" height="11.30" fill="#00ff00"/><rect x="536.21" y="170.30" width="1.30" height="18.90" fill="#000"/><rect x="534.36" y="173.15" width="5.00" height="14.90" fill="#000"/><rect x="535.46" y="174.25" width="2.80" height="12.70" fill="#00ff00"/><rect x="542.48" y="177.40" width="1.30" height="12.40" fill="#000"/><rect x="540.63" y="179.45" width="5.00" height="1.50" fill="#000"/><rect x="548.74" y="167.30" width="1.30" height="30.60" fill="#000"/><rect x="546.89" y="179.85" width="5.00" height="16.30" fill="#000"/><rect x="547.99" y="180.95" width="2.80" height="14.10" fill="#ff0000"/><rect x="555.01" y="167.30" width="1.30" height="36.10" fill="#000"/><rect x="553.16" y="169.05" width="5.00" height="27.70" fill="#000"/><rect x="554.26" y="170.15" width="2.80" height="25.50" fill="#00ff00"/><rect x="561.27" y="148.00" width="1.30" height="17.50" fill="#000"/><rect x="559.42" y="158.55" width="5.00" height="1.50" fill="#000"/><rect x="567.54" y="155.10" width="1.30" height="21.50" fill="#000"/><rect x="565.69" y="157.95" width="5.00" height="9.80" fill="#000"/><rect x="566.79" y="159.05" width="2.80" height="7.60" fill="#00ff00"/><rect x="573.81" y="147.00" width="1.30" height="19.50" fill="#000"/><rect x="571.96" y="151.45" width="5.00" height="8.20" fill="#000"/><rect x="573.06" y="152.55" width="2.80" height="6.00" fill="#ff0000"/><rect x="580.07" y="155.10" width="1.30" height="23.60" fill="#000"/><rect x="578.22" y="162.95" width="5.00" height="11.50" fill="#000"/><rect x="579.32" y="164.05" width="2.80" height="9.30" fill="#ff0000"/><rect x="586.34" y="151.70" width="1.30" height="59.40" fill="#000"/><rect x="584.49" y="154.85" width="5.00" height="28.10" fill="#000"/><rect x="585.59" y="155.95" width="2.80" height="25.90" fill="#ff0000"/><rect x="592.60" y="112.10" width="1.30" height="61.50" fill="#000"/><rect x="590.75" y="114.65" width="5.00" height="51.10" fill="#000"/><rect x="591.85" y="115.75" width="2.80" height="48.90" fill="#00ff00"/><rect x="598.87" y="108.00" width="1.30" height="20.50" fill="#000"/><rect x="597.02" y="117.35" width="5.00" height="3.70" fill="#000"/><rect x="598.12" y="118.45" width="2.80" height="1.50" fill="#00ff00"/><rect x="605.14" y="115.60" width="1.30" height="20.50" fill="#000"/><rect x="603.29" y="119.35" width="5.00" height="13.50" fill="#000"/><rect x="604.39" y="120.45" width="2.80" height="11.30" fill="#ff0000"/><rect x="611.40" y="120.60" width="1.30" height="11.40" fill="#000"/><rect x="609.55" y="123.45" width="5.00" height="3.70" fill="#000"/><rect x="610.65" y="124.55" width="2.80" height="1.50" fill="#ff0000"/><rect x="617.67" y="103.40" width="1.30" height="25.50" fill="#000"/><rect x="615.82" y="117.75" width="5.00" height="3.40" fill="#000"/><rect x="616.92" y="118.85" width="2.80" height="1.20" fill="#00ff00"/><rect x="623.93" y="101.40" width="1.30" height="31.60" fill="#000"/><rect x="622.08" y="120.35" width="5.00" height="6.80" fill="#000"/><rect x="623.18" y="121.45" width="2.80" height="4.60" fill="#ff0000"/><rect x="630.20" y="114.10" width="1.30" height="15.90" fill="#000"/><rect x="628.35" y="123.45" width="5.00" height="3.70" fill="#000"/><rect x="629.45" y="124.55" width="2.80" height="1.50" fill="#00ff00"/><rect x="636.47" y="93.20" width="1.30" height="27.60" fill="#000"/><rect x="634.62" y="94.45" width="5.00" height="25.60" fill="#000"/><rect x="635.72" y="95.55" width="2.80" height="23.40" fill="#00ff00"/><rect x="642.73" y="88.20" width="1.30" height="13.40" fill="#000"/><rect x="640.88" y="92.95" width="5.00" height="8.20" fill="#000"/><rect x="641.98" y="94.05" width="2.80" height="6.00" fill="#ff0000"/><rect x="649.00" y="89.20" width="1.30" height="15.80" fill="#000"/><rect x="647.15" y="98.65" width="5.00" height="3.20" fill="#000"/><rect x="648.25" y="99.75" width="2.80" height="1.00" fill="#ff0000"/><rect x="655.26" y="95.30" width="1.30" height="19.40" fill="#000"/><rect x="653.41" y="96.05" width="5.00" height="8.40" fill="#000"/><rect x="654.51" y="97.15" width="2.80" height="6.20" fill="#ff0000"/><rect x="661.53" y="116.20" width="1.30" height="24.90" fill="#000"/><rect x="659.68" y="117.35" width="5.00" height="12.90" fill="#000"/><rect x="660.78" y="118.45" width="2.80" height="10.70" fill="#00ff00"/><rect x="667.80" y="108.00" width="1.30" height="15.30" fill="#000"/><rect x="665.95" y="115.95" width="5.00" height="6.80" fill="#000"/><rect x="667.05" y="117.05" width="2.80" height="4.60" fill="#00ff00"/><rect x="674.06" y="112.90" width="1.30" height="21.10" fill="#000"/><rect x="672.21" y="117.35" width="5.00" height="10.80" fill="#000"/><rect x="673.31" y="118.45" width="2.80" height="8.60" fill="#ff0000"/><rect x="680.33" y="117.00" width="1.30" height="21.70" fill="#000"/><rect x="678.48" y="126.05" width="5.00" height="3.60" fill="#000"/><rect x="679.58" y="127.15" width="2.80" height="1.40" fill="#00ff00"/><rect x="686.59" y="125.70" width="1.30" height="14.40" fill="#000"/><rect x="684.74" y="132.55" width="5.00" height="6.80" fill="#000"/><rect x="685.84" y="133.65" width="2.80" height="4.60" fill="#ff0000"/><rect x="692.86" y="116.20" width="1.30" height="30.00" fill="#000"/><rect x="691.01" y="116.75" width="5.00" height="28.70" fill="#000"/><rect x="692.11" y="117.85" width="2.80" height="26.50" fill="#00ff00"/><rect x="699.13" y="84.40" width="1.30" height="18.00" fill="#000"/><rect x="697.28" y="84.95" width="5.00" height="10.60" fill="#000"/><rect x="698.38" y="86.05" width="2.80" height="8.40" fill="#00ff00"/><rect x="705.39" y="71.10" width="1.30" height="14.80" fill="#000"/><rect x="703.54" y="76.95" width="5.00" height="7.20" fill="#000"/><rect x="704.64" y="78.05" width="2.80" height="5.00" fill="#00ff00"/><rect x="711.66" y="62.40" width="1.30" height="15.50" fill="#000"/><rect x="709.81" y="69.25" width="5.00" height="4.40" fill="#000"/><rect x="710.91" y="70.35" width="2.80" height="2.20" fill="#00ff00"/><rect x="717.92" y="67.10" width="1.30" height="18.40" fill="#000"/><rect x="716.07" y="68.85" width="5.00" height="7.60" fill="#000"/><rect x="717.17" y="69.95" width="2.80" height="5.40" fill="#00ff00"/><rect x="724.19" y="68.50" width="1.30" height="15.40" fill="#000"/><rect x="722.34" y="70.55" width="5.00" height="1.50" fill="#000"/><rect x="730.46" y="65.10" width="1.30" height="35.50" fill="#000"/><rect x="728.61" y="64.85" width="5.00" height="29.30" fill="#000"/><rect x="729.71" y="65.95" width="2.80" height="27.10" fill="#ff0000"/><rect x="736.72" y="81.70" width="1.30" height="20.00" fill="#000"/><rect x="734.87" y="90.65" width="5.00" height="5.20" fill="#000"/><rect x="735.97" y="91.75" width="2.80" height="3.00" fill="#ff0000"/><rect x="742.99" y="79.70" width="1.30" height="18.40" fill="#000"/><rect x="741.14" y="82.20" width="5.00" height="3.20" fill="#000"/><rect x="742.24" y="83.30" width="2.80" height="1.00" fill="#ff0000"/><rect x="749.25" y="73.60" width="1.30" height="22.10" fill="#000"/><rect x="747.40" y="83.05" width="5.00" height="10.30" fill="#000"/><rect x="748.50" y="84.15" width="2.80" height="8.10" fill="#ff0000"/><rect x="755.52" y="90.20" width="1.30" height="25.80" fill="#000"/><rect x="753.67" y="94.05" width="5.00" height="3.90" fill="#000"/><rect x="754.77" y="95.15" width="2.80" height="1.70" fill="#ff0000"/><rect x="761.79" y="99.00" width="1.30" height="10.90" fill="#000"/><rect x="759.94" y="100.15" width="5.00" height="6.40" fill="#000"/><rect x="761.04" y="101.25" width="2.80" height="4.20" fill="#00ff00"/><rect x="768.05" y="87.80" width="1.30" height="16.00" fill="#000"/><rect x="766.20" y="89.95" width="5.00" height="7.40" fill="#000"/><rect x="767.30" y="91.05" width="2.80" height="5.20" fill="#ff0000"/><rect x="774.32" y="84.20" width="1.30" height="21.10" fill="#000"/><rect x="772.47" y="89.55" width="5.00" height="7.20" fill="#000"/><rect x="773.57" y="90.65" width="2.80" height="5.00" fill="#00ff00"/><rect x="780.58" y="82.70" width="1.30" height="15.00" fill="#000"/><rect x="778.73" y="82.95" width="5.00" height="3.20" fill="#000"/><rect x="779.83" y="84.05" width="2.80" height="1.00" fill="#ff0000"/><rect x="786.85" y="87.40" width="1.30" height="16.80" fill="#000"/><rect x="785.00" y="88.55" width="5.00" height="9.40" fill="#000"/><rect x="786.10" y="89.65" width="2.80" height="7.20" fill="#ff0000"/><rect x="793.12" y="88.20" width="1.30" height="19.10" fill="#000"/><rect x="791.27" y="91.25" width="5.00" height="4.10" fill="#000"/><rect x="792.37" y="92.35" width="2.80" height="1.90" fill="#ff0000"/><rect x="799.38" y="33.00" width="1.30" height="20.50" fill="#000"/><rect x="797.53" y="43.40" width="5.00" height="3.20" fill="#000"/><rect x="798.63" y="44.50" width="2.80" height="1.00" fill="#00ff00"/><rect x="805.65" y="35.00" width="1.30" height="30.70" fill="#000"/><rect x="803.80" y="42.95" width="5.00" height="18.90" fill="#000"/><rect x="804.90" y="44.05" width="2.80" height="16.70" fill="#ff0000"/><rect x="811.91" y="61.40" width="1.30" height="17.50" fill="#000"/><rect x="810.06" y="70.55" width="5.00" height="1.50" fill="#000"/><rect x="818.18" y="57.40" width="1.30" height="19.40" fill="#000"/><rect x="816.33" y="62.15" width="5.00" height="5.80" fill="#000"/><rect x="817.43" y="63.25" width="2.80" height="3.60" fill="#00ff00"/><rect x="824.45" y="50.90" width="1.30" height="17.20" fill="#000"/><rect x="822.60" y="59.55" width="5.00" height="5.40" fill="#000"/><rect x="823.70" y="60.65" width="2.80" height="3.20" fill="#00ff00"/><rect x="830.71" y="37.10" width="1.30" height="13.40" fill="#000"/><rect x="828.86" y="41.85" width="5.00" height="7.40" fill="#000"/><rect x="829.96" y="42.95" width="2.80" height="5.20" fill="#00ff00"/><rect x="836.98" y="45.60" width="1.30" height="19.10" fill="#000"/><rect x="835.13" y="54.05" width="5.00" height="6.20" fill="#000"/><rect x="836.23" y="55.15" width="2.80" height="4.00" fill="#ff0000"/>
<rect x="9.37" y="444.60" width="1.50" height="15.80" fill="#ff1010"/><rect x="15.63" y="443.20" width="1.50" height="17.20" fill="#ff1010"/><rect x="21.90" y="422.90" width="1.50" height="37.50" fill="#1010ff"/><rect x="28.16" y="387.80" width="1.50" height="72.60" fill="#1010ff"/><rect x="34.43" y="437.10" width="1.50" height="23.30" fill="#ff1010"/><rect x="40.70" y="420.20" width="1.50" height="40.20" fill="#ff1010"/><rect x="46.96" y="416.40" width="1.50" height="44.00" fill="#ff1010"/><rect x="53.23" y="418.80" width="1.50" height="41.60" fill="#ff1010"/><rect x="59.49" y="428.40" width="1.50" height="32.00" fill="#1010ff"/><rect x="65.76" y="434.00" width="1.50" height="26.40" fill="#ff1010"/><rect x="72.03" y="427.40" width="1.50" height="33.00" fill="#1010ff"/><rect x="78.29" y="438.10" width="1.50" height="22.30" fill="#1010ff"/><rect x="84.56" y="436.10" width="1.50" height="24.30" fill="#ff1010"/><rect x="90.82" y="442.60" width="1.50" height="17.80" fill="#1010ff"/><rect x="97.09" y="438.10" width="1.50" height="22.30" fill="#1010ff"/><rect x="103.36" y="441.20" width="1.50" height="19.20" fill="#ff1010"/><rect x="109.62" y="421.50" width="1.50" height="38.90" fill="#1010ff"/><rect x="115.89" y="434.00" width="1.50" height="26.40" fill="#1010ff"/><rect x="122.15" y="437.70" width="1.50" height="22.70" fill="#ff1010"/><rect x="128.42" y="444.20" width="1.50" height="16.20" fill="#ff1010"/><rect x="134.69" y="441.20" width="1.50" height="19.20" fill="#ff1010"/><rect x="140.95" y="444.60" width="1.50" height="15.80" fill="#1010ff"/><rect x="147.22" y="443.20" width="1.50" height="17.20" fill="#ff1010"/><rect x="153.48" y="436.50" width="1.50" height="23.90" fill="#1010ff"/><rect x="159.75" y="439.10" width="1.50" height="21.30" fill="#1010ff"/><rect x="166.02" y="442.80" width="1.50" height="17.60" fill="#1010ff"/><rect x="172.28" y="444.20" width="1.50" height="16.20" fill="#ff1010"/><rect x="178.55" y="439.40" width="1.50" height="21.00" fill="#1010ff"/><rect x="184.81" y="444.80" width="1.50" height="15.60" fill="#ff1010"/><rect x="191.08" y="446.20" width="1.50" height="14.20" fill="#1010ff"/><rect x="197.35" y="443.20" width="1.50" height="17.20" fill="#1010ff"/><rect x="203.61" y="445.20" width="1.50" height="15.20" fill="#1010ff"/><rect x="209.88" y="446.80" width="1.50" height="13.60" fill="#1010ff"/><rect x="216.14" y="442.20" width="1.50" height="18.20" fill="#ff1010"/><rect x="222.41" y="442.60" width="1.50" height="17.80" fill="#ff1010"/><rect x="228.68" y="445.80" width="1.50" height="14.60" fill="#1010ff"/><rect x="234.94" y="445.20" width="1.50" height="15.20" fill="#1010ff"/><rect x="241.21" y="428.40" width="1.50" height="32.00" fill="#ff1010"/><rect x="247.47" y="431.20" width="1.50" height="29.20" fill="#ff1010"/><rect x="253.74" y="437.70" width="1.50" height="22.70" fill="#ff1010"/><rect x="260.01" y="441.20" width="1.50" height="19.20" fill="#1010ff"/><rect x="266.27" y="436.50" width="1.50" height="23.90" fill="#1010ff"/><rect x="272.54" y="436.50" width="1.50" height="23.90" fill="#ff1010"/><rect x="278.80" y="448.20" width="1.50" height="12.20" fill="#1010ff"/><rect x="285.07" y="441.20" width="1.50" height="19.20" fill="#ff1010"/><rect x="291.34" y="442.20" width="1.50" height="18.20" fill="#ff1010"/><rect x="297.60" y="445.20" width="1.50" height="15.20" fill="#1010ff"/><rect x="303.87" y="439.10" width="1.50" height="21.30" fill="#1010ff"/><rect x="310.13" y="440.10" width="1.50" height="20.30" fill="#ff1010"/><rect x="316.40" y="431.20" width="1.50" height="29.20" fill="#ff1010"/><rect x="322.67" y="440.50" width="1.50" height="19.90" fill="#ff1010"/><rect x="328.93" y="427.60" width="1.50" height="32.80" fill="#ff1010"/><rect x="335.20" y="436.50" width="1.50" height="23.90" fill="#ff1010"/><rect x="341.46" y="440.10" width="1.50" height="20.30" fill="#1010ff"/><rect x="347.73" y="428.40" width="1.50" height="32.00" fill="#ff1010"/><rect x="354.00" y="431.20" width="1.50" height="29.20" fill="#ff1010"/><rect x="360.26" y="437.70" width="1.50" height="22.70" fill="#ff1010"/><rect x="366.53" y="437.70" width="1.50" height="22.70" fill="#ff1010"/><rect x="372.79" y="442.80" width="1.50" height="17.60" fill="#1010ff"/><rect x="379.06" y="437.10" width="1.50" height="23.30" fill="#1010ff"/><rect x="385.33" y="441.20" width="1.50" height="19.20" fill="#ff1010"/><rect x="391.59" y="434.00" width="1.50" height="26.40" fill="#ff1010"/><rect x="397.86" y="411.30" width="1.50" height="49.10" fill="#ff1010"/><rect x="404.12" y="438.10" width="1.50" height="22.30" fill="#ff1010"/><rect x="410.39" y="430.60" width="1.50" height="29.80" fill="#1010ff"/><rect x="416.66" y="437.10" width="1.50" height="23.30" fill="#ff1010"/><rect x="422.92" y="429.60" width="1.50" height="30.80" fill="#1010ff"/><rect x="429.19" y="431.20" width="1.50" height="29.20" fill="#ff1010"/><rect x="435.45" y="437.10" width="1.50" height="23.30" fill="#1010ff"/><rect x="441.72" y="426.90" width="1.50" height="33.50" fill="#1010ff"/><rect x="447.99" y="387.40" width="1.50" height="73.00" fill="#1010ff"/><rect x="454.25" y="433.40" width="1.50" height="27.00" fill="#1010ff"/><rect x="460.52" y="439.10" width="1.50" height="21.30" fill="#1010ff"/><rect x="466.78" y="434.00" width="1.50" height="26.40" fill="#1010ff"/><rect x="473.05" y="440.10" width="1.50" height="20.30" fill="#ff1010"/><rect x="479.32" y="441.20" width="1.50" height="19.20" fill="#1010ff"/><rect x="485.58" y="446.60" width="1.50" height="13.80" fill="#ff1010"/><rect x="491.85" y="447.20" width="1.50" height="13.20" fill="#ff1010"/><rect x="498.11" y="431.20" width="1.50" height="29.20" fill="#ff1010"/><rect x="504.38" y="439.70" width="1.50" height="20.70" fill="#ff1010"/><rect x="510.65" y="436.10" width="1.50" height="24.30" fill="#ff1010"/><rect x="516.91" y="444.20" width="1.50" height="16.20" fill="#1010ff"/><rect x="523.18" y="445.80" width="1.50" height="14.60" fill="#1010ff"/><rect x="529.44" y="449.30" width="1.50" height="11.10" fill="#1010ff"/><rect x="535.71" y="453.30" width="1.50" height="7.10" fill="#1010ff"/><rect x="541.98" y="450.30" width="1.50" height="10.10" fill="#1010ff"/><rect x="548.24" y="446.20" width="1.50" height="14.20" fill="#ff1010"/><rect x="554.51" y="445.80" width="1.50" height="14.60" fill="#1010ff"/><rect x="560.77" y="443.20" width="1.50" height="17.20" fill="#1010ff"/><rect x="567.04" y="444.60" width="1.50" height="15.80" fill="#1010ff"/><rect x="573.31" y="441.80" width="1.50" height="18.60" fill="#ff1010"/><rect x="579.57" y="443.80" width="1.50" height="16.60" fill="#ff1010"/><rect x="585.84" y="423.50" width="1.50" height="36.90" fill="#ff1010"/><rect x="592.10" y="394.50" width="1.50" height="65.90" fill="#1010ff"/><rect x="598.37" y="432.00" width="1.50" height="28.40" fill="#1010ff"/><rect x="604.64" y="440.50" width="1.50" height="19.90" fill="#ff1010"/><rect x="610.90" y="440.50" width="1.50" height="19.90" fill="#ff1010"/><rect x="617.17" y="436.10" width="1.50" height="24.30" fill="#1010ff"/><rect x="623.43" y="441.20" width="1.50" height="19.20" fill="#ff1010"/><rect x="629.70" y="447.20" width="1.50" height="13.20" fill="#1010ff"/><rect x="635.97" y="438.70" width="1.50" height="21.70" fill="#1010ff"/><rect x="642.23" y="440.10" width="1.50" height="20.30" fill="#ff1010"/><rect x="648.50" y="441.20" width="1.50" height="19.20" fill="#ff1010"/><rect x="654.76" y="447.20" width="1.50" height="13.20" fill="#ff1010"/><rect x="661.03" y="430.40" width="1.50" height="30.00" fill="#1010ff"/><rect x="667.30" y="455.40" width="1.50" height="5.00" fill="#1010ff"/><rect x="673.56" y="452.30" width="1.50" height="8.10" fill="#ff1010"/><rect x="679.83" y="448.20" width="1.50" height="12.20" fill="#1010ff"/><rect x="686.09" y="451.90" width="1.50" height="8.50" fill="#ff1010"/><rect x="692.36" y="448.70" width="1.50" height="11.70" fill="#1010ff"/><rect x="698.63" y="443.20" width="1.50" height="17.20" fill="#1010ff"/><rect x="704.89" y="440.50" width="1.50" height="19.90" fill="#1010ff"/><rect x="711.16" y="445.80" width="1.50" height="14.60" fill="#1010ff"/><rect x="717.42" y="449.30" width="1.50" height="11.10" fill="#1010ff"/><rect x="723.69" y="447.20" width="1.50" height="13.20" fill="#1010ff"/><rect x="729.96" y="438.50" width="1.50" height="21.90" fill="#ff1010"/><rect x="736.22" y="441.20" width="1.50" height="19.20" fill="#ff1010"/><rect x="742.49" y="442.60" width="1.50" height="17.80" fill="#ff1010"/><rect x="748.75" y="445.20" width="1.50" height="15.20" fill="#ff1010"/><rect x="755.02" y="443.20" width="1.50" height="17.20" fill="#ff1010"/><rect x="761.29" y="448.70" width="1.50" height="11.70" fill="#1010ff"/><rect x="767.55" y="448.20" width="1.50" height="12.20" fill="#ff1010"/><rect x="773.82" y="443.20" width="1.50" height="17.20" fill="#1010ff"/><rect x="780.08" y="444.60" width="1.50" height="15.80" fill="#ff1010"/><rect x="786.35" y="445.80" width="1.50" height="14.60" fill="#ff1010"/><rect x="792.62" y="429.60" width="1.50" height="30.80" fill="#ff1010"/><rect x="798.88" y="419.40" width="1.50" height="41.00" fill="#1010ff"/><rect x="805.15" y="442.20" width="1.50" height="18.20" fill="#ff1010"/><rect x="811.41" y="444.20" width="1.50" height="16.20" fill="#ff1010"/><rect x="817.68" y="443.20" width="1.50" height="17.20" fill="#1010ff"/><rect x="823.95" y="446.20" width="1.50" height="14.20" fill="#1010ff"/><rect x="830.21" y="447.20" width="1.50" height="13.20" fill="#1010ff"/><rect x="836.48" y="450.30" width="1.50" height="10.10" fill="#ff1010"/>
<rect x="37.50" y="375.90" width="831.50" height="1.30" fill="#ff0000"/>
<rect x="0.00" y="378.60" width="869.00" height="1.30" fill="#000000"/>
<rect x="0.00" y="460.10" width="870.00" height="1.70" fill="#202020"/>
<rect x="868.90" y="16.00" width="1.20" height="445.80" fill="#000000"/>
<rect x="0.00" y="481.70" width="898.00" height="1.40" fill="#000000"/>
<rect x="0.00" y="483.10" width="898.00" height="9.90" fill="#e6e6e6"/>
<rect x="2.50" y="484.60" width="757.00" height="8.00" fill="#e0e0e0" stroke="#c4c4c4" stroke-width="1"/>
<rect x="761.00" y="484.00" width="1.00" height="9.00" fill="#a0a0a0"/>
<rect x="5.20" y="17.00" width="169.50" height="10.00" fill="#fff"/>
<text x="1.3" y="25.3" font-family="Liberation Sans, Arial, sans-serif" font-size="9" font-weight="bold" fill="#000" stroke="#000" stroke-width="0.30" textLength="171.0" lengthAdjust="spacingAndGlyphs">(SBUX - NASD Stocks,D) Dynamic,0:00-24:00</text>
<rect x="2.60" y="370.60" width="35.00" height="6.60" fill="#ffffff"/>
<text x="3.0" y="376.4" font-family="Liberation Sans, Arial, sans-serif" font-size="6.3" font-weight="bold" fill="#000" stroke="#000" stroke-width="0.25" textLength="34.5" lengthAdjust="spacingAndGlyphs" font-style="italic">© eSignal, 2010</text>
<text x="1.6" y="389.3" font-family="Liberation Sans, Arial, sans-serif" font-size="8.6" font-weight="bold" fill="#1010ff" stroke="#1010ff" stroke-width="0.45" textLength="30.4" lengthAdjust="spacingAndGlyphs">Volume</text>
<text x="870.5" y="366.2" font-family="Liberation Sans, Arial, sans-serif" font-size="9.8" font-weight="bold" fill="#000" stroke="#000" stroke-width="0.22" textLength="19.4" lengthAdjust="spacingAndGlyphs">43.00</text>
<text x="870.5" y="343.1" font-family="Liberation Sans, Arial, sans-serif" font-size="9.8" font-weight="bold" fill="#000" stroke="#000" stroke-width="0.22" textLength="19.4" lengthAdjust="spacingAndGlyphs">44.00</text>
<text x="870.5" y="320.0" font-family="Liberation Sans, Arial, sans-serif" font-size="9.8" font-weight="bold" fill="#000" stroke="#000" stroke-width="0.22" textLength="19.4" lengthAdjust="spacingAndGlyphs">45.00</text>
<text x="870.5" y="296.9" font-family="Liberation Sans, Arial, sans-serif" font-size="9.8" font-weight="bold" fill="#000" stroke="#000" stroke-width="0.22" textLength="19.4" lengthAdjust="spacingAndGlyphs">46.00</text>
<text x="870.5" y="273.8" font-family="Liberation Sans, Arial, sans-serif" font-size="9.8" font-weight="bold" fill="#000" stroke="#000" stroke-width="0.22" textLength="19.4" lengthAdjust="spacingAndGlyphs">47.00</text>
<text x="870.5" y="250.7" font-family="Liberation Sans, Arial, sans-serif" font-size="9.8" font-weight="bold" fill="#000" stroke="#000" stroke-width="0.22" textLength="19.4" lengthAdjust="spacingAndGlyphs">48.00</text>
<text x="870.5" y="227.6" font-family="Liberation Sans, Arial, sans-serif" font-size="9.8" font-weight="bold" fill="#000" stroke="#000" stroke-width="0.22" textLength="19.4" lengthAdjust="spacingAndGlyphs">49.00</text>
<text x="870.5" y="204.5" font-family="Liberation Sans, Arial, sans-serif" font-size="9.8" font-weight="bold" fill="#000" stroke="#000" stroke-width="0.22" textLength="19.4" lengthAdjust="spacingAndGlyphs">50.00</text>
<text x="870.5" y="181.4" font-family="Liberation Sans, Arial, sans-serif" font-size="9.8" font-weight="bold" fill="#000" stroke="#000" stroke-width="0.22" textLength="19.4" lengthAdjust="spacingAndGlyphs">51.00</text>
<text x="870.5" y="158.2" font-family="Liberation Sans, Arial, sans-serif" font-size="9.8" font-weight="bold" fill="#000" stroke="#000" stroke-width="0.22" textLength="19.4" lengthAdjust="spacingAndGlyphs">52.00</text>
<text x="870.5" y="135.1" font-family="Liberation Sans, Arial, sans-serif" font-size="9.8" font-weight="bold" fill="#000" stroke="#000" stroke-width="0.22" textLength="19.4" lengthAdjust="spacingAndGlyphs">53.00</text>
<text x="870.5" y="112.0" font-family="Liberation Sans, Arial, sans-serif" font-size="9.8" font-weight="bold" fill="#000" stroke="#000" stroke-width="0.22" textLength="19.4" lengthAdjust="spacingAndGlyphs">54.00</text>
<text x="870.5" y="88.9" font-family="Liberation Sans, Arial, sans-serif" font-size="9.8" font-weight="bold" fill="#000" stroke="#000" stroke-width="0.22" textLength="19.4" lengthAdjust="spacingAndGlyphs">55.00</text>
<text x="870.5" y="42.7" font-family="Liberation Sans, Arial, sans-serif" font-size="9.8" font-weight="bold" fill="#000" stroke="#000" stroke-width="0.22" textLength="19.4" lengthAdjust="spacingAndGlyphs">57.00</text>
<rect x="870.00" y="55.00" width="20.00" height="10.00" fill="#ff0000"/>
<text x="870.6" y="63.6" font-family="Liberation Sans, Arial, sans-serif" font-size="9.5" font-weight="bold" fill="#fff" stroke="#fff" stroke-width="0.25" textLength="19.2" lengthAdjust="spacingAndGlyphs">56.09</text>
<text x="870.0" y="411.0" font-family="Liberation Sans, Arial, sans-serif" font-size="9.5" font-weight="bold" fill="#000" stroke="#000" stroke-width="0.35" textLength="15.0" lengthAdjust="spacingAndGlyphs">20M</text>
<text x="870.0" y="437.2" font-family="Liberation Sans, Arial, sans-serif" font-size="9.5" font-weight="bold" fill="#000" stroke="#000" stroke-width="0.35" textLength="15.0" lengthAdjust="spacingAndGlyphs">10M</text>
<text x="870.0" y="459.0" font-family="Liberation Sans, Arial, sans-serif" font-size="9.5" font-weight="bold" fill="#000" stroke="#000" stroke-width="0.35" textLength="4.5" lengthAdjust="spacingAndGlyphs">0</text>
<rect x="869.90" y="445.60" width="22.80" height="9.70" fill="#ff0000"/>
<text x="870.5" y="454.2" font-family="Liberation Sans, Arial, sans-serif" font-size="9.5" font-weight="bold" fill="#fff" stroke="#fff" stroke-width="0.25" textLength="21.5" lengthAdjust="spacingAndGlyphs">3.96M</text>
<text x="4.2" y="469.1" font-family="Liberation Sans, Arial, sans-serif" font-size="9.5" font-weight="bold" fill="#000" stroke="#000" stroke-width="0.35" textLength="8.7" lengthAdjust="spacingAndGlyphs">23</text>
<text x="35.5" y="469.1" font-family="Liberation Sans, Arial, sans-serif" font-size="9.5" font-weight="bold" fill="#000" stroke="#000" stroke-width="0.35" textLength="8.7" lengthAdjust="spacingAndGlyphs">30</text>
<text x="66.8" y="469.1" font-family="Liberation Sans, Arial, sans-serif" font-size="9.5" font-weight="bold" fill="#000" stroke="#000" stroke-width="0.35" textLength="8.7" lengthAdjust="spacingAndGlyphs">06</text>
<text x="98.1" y="469.1" font-family="Liberation Sans, Arial, sans-serif" font-size="9.5" font-weight="bold" fill="#000" stroke="#000" stroke-width="0.35" textLength="8.7" lengthAdjust="spacingAndGlyphs">13</text>
<text x="129.5" y="469.1" font-family="Liberation Sans, Arial, sans-serif" font-size="9.5" font-weight="bold" fill="#000" stroke="#000" stroke-width="0.35" textLength="8.7" lengthAdjust="spacingAndGlyphs">20</text>
<text x="160.8" y="469.1" font-family="Liberation Sans, Arial, sans-serif" font-size="9.5" font-weight="bold" fill="#000" stroke="#000" stroke-width="0.35" textLength="8.7" lengthAdjust="spacingAndGlyphs">27</text>
<text x="192.1" y="469.1" font-family="Liberation Sans, Arial, sans-serif" font-size="9.5" font-weight="bold" fill="#000" stroke="#000" stroke-width="0.35" textLength="8.7" lengthAdjust="spacingAndGlyphs">04</text>
<text x="217.2" y="469.1" font-family="Liberation Sans, Arial, sans-serif" font-size="9.5" font-weight="bold" fill="#000" stroke="#000" stroke-width="0.35" textLength="8.7" lengthAdjust="spacingAndGlyphs">10</text>
<text x="248.5" y="469.1" font-family="Liberation Sans, Arial, sans-serif" font-size="9.5" font-weight="bold" fill="#000" stroke="#000" stroke-width="0.35" textLength="8.7" lengthAdjust="spacingAndGlyphs">17</text>
<text x="279.9" y="469.1" font-family="Liberation Sans, Arial, sans-serif" font-size="9.5" font-weight="bold" fill="#000" stroke="#000" stroke-width="0.35" textLength="8.7" lengthAdjust="spacingAndGlyphs">24</text>
<text x="311.2" y="469.1" font-family="Liberation Sans, Arial, sans-serif" font-size="9.5" font-weight="bold" fill="#000" stroke="#000" stroke-width="0.35" textLength="8.7" lengthAdjust="spacingAndGlyphs">01</text>
<text x="342.5" y="469.1" font-family="Liberation Sans, Arial, sans-serif" font-size="9.5" font-weight="bold" fill="#000" stroke="#000" stroke-width="0.35" textLength="8.7" lengthAdjust="spacingAndGlyphs">08</text>
<text x="373.8" y="469.1" font-family="Liberation Sans, Arial, sans-serif" font-size="9.5" font-weight="bold" fill="#000" stroke="#000" stroke-width="0.35" textLength="8.7" lengthAdjust="spacingAndGlyphs">15</text>
<text x="405.2" y="469.1" font-family="Liberation Sans, Arial, sans-serif" font-size="9.5" font-weight="bold" fill="#000" stroke="#000" stroke-width="0.35" textLength="8.7" lengthAdjust="spacingAndGlyphs">22</text>
<text x="436.5" y="469.1" font-family="Liberation Sans, Arial, sans-serif" font-size="9.5" font-weight="bold" fill="#000" stroke="#000" stroke-width="0.35" textLength="8.7" lengthAdjust="spacingAndGlyphs">31</text>
<text x="455.3" y="469.1" font-family="Liberation Sans, Arial, sans-serif" font-size="9.5" font-weight="bold" fill="#000" stroke="#000" stroke-width="0.35" textLength="8.7" lengthAdjust="spacingAndGlyphs">05</text>
<text x="486.6" y="469.1" font-family="Liberation Sans, Arial, sans-serif" font-size="9.5" font-weight="bold" fill="#000" stroke="#000" stroke-width="0.35" textLength="8.7" lengthAdjust="spacingAndGlyphs">12</text>
<text x="518.0" y="469.1" font-family="Liberation Sans, Arial, sans-serif" font-size="9.5" font-weight="bold" fill="#000" stroke="#000" stroke-width="0.35" textLength="8.7" lengthAdjust="spacingAndGlyphs">19</text>
<text x="543.0" y="469.1" font-family="Liberation Sans, Arial, sans-serif" font-size="9.5" font-weight="bold" fill="#000" stroke="#000" stroke-width="0.35" textLength="8.7" lengthAdjust="spacingAndGlyphs">26</text>
<text x="574.4" y="469.1" font-family="Liberation Sans, Arial, sans-serif" font-size="9.5" font-weight="bold" fill="#000" stroke="#000" stroke-width="0.35" textLength="8.7" lengthAdjust="spacingAndGlyphs">03</text>
<text x="605.7" y="469.1" font-family="Liberation Sans, Arial, sans-serif" font-size="9.5" font-weight="bold" fill="#000" stroke="#000" stroke-width="0.35" textLength="8.7" lengthAdjust="spacingAndGlyphs">10</text>
<text x="637.0" y="469.1" font-family="Liberation Sans, Arial, sans-serif" font-size="9.5" font-weight="bold" fill="#000" stroke="#000" stroke-width="0.35" textLength="8.7" lengthAdjust="spacingAndGlyphs">17</text>
<text x="668.3" y="469.1" font-family="Liberation Sans, Arial, sans-serif" font-size="9.5" font-weight="bold" fill="#000" stroke="#000" stroke-width="0.35" textLength="8.7" lengthAdjust="spacingAndGlyphs">24</text>
<text x="693.4" y="469.1" font-family="Liberation Sans, Arial, sans-serif" font-size="9.5" font-weight="bold" fill="#000" stroke="#000" stroke-width="0.35" textLength="8.7" lengthAdjust="spacingAndGlyphs">31</text>
<text x="718.5" y="469.1" font-family="Liberation Sans, Arial, sans-serif" font-size="9.5" font-weight="bold" fill="#000" stroke="#000" stroke-width="0.35" textLength="8.7" lengthAdjust="spacingAndGlyphs">07</text>
<text x="749.8" y="469.1" font-family="Liberation Sans, Arial, sans-serif" font-size="9.5" font-weight="bold" fill="#000" stroke="#000" stroke-width="0.35" textLength="8.7" lengthAdjust="spacingAndGlyphs">14</text>
<text x="781.1" y="469.1" font-family="Liberation Sans, Arial, sans-serif" font-size="9.5" font-weight="bold" fill="#000" stroke="#000" stroke-width="0.35" textLength="8.7" lengthAdjust="spacingAndGlyphs">22</text>
<text x="806.2" y="469.1" font-family="Liberation Sans, Arial, sans-serif" font-size="9.5" font-weight="bold" fill="#000" stroke="#000" stroke-width="0.35" textLength="8.7" lengthAdjust="spacingAndGlyphs">28</text>
<text x="837.5" y="469.1" font-family="Liberation Sans, Arial, sans-serif" font-size="9.5" font-weight="bold" fill="#000" stroke="#000" stroke-width="0.35" textLength="8.7" lengthAdjust="spacingAndGlyphs">04</text>
<text x="47.5" y="479.4" font-family="Liberation Sans, Arial, sans-serif" font-size="9.5" font-weight="bold" fill="#000" stroke="#000" stroke-width="0.35" textLength="15.4" lengthAdjust="spacingAndGlyphs">Aug</text>
<text x="191.6" y="479.4" font-family="Liberation Sans, Arial, sans-serif" font-size="9.5" font-weight="bold" fill="#000" stroke="#000" stroke-width="0.35" textLength="15.5" lengthAdjust="spacingAndGlyphs">Sep</text>
<text x="310.7" y="479.4" font-family="Liberation Sans, Arial, sans-serif" font-size="9.5" font-weight="bold" fill="#000" stroke="#000" stroke-width="0.35" textLength="14.5" lengthAdjust="spacingAndGlyphs">Oct</text>
<text x="442.3" y="479.4" font-family="Liberation Sans, Arial, sans-serif" font-size="9.5" font-weight="bold" fill="#000" stroke="#000" stroke-width="0.35" textLength="16.0" lengthAdjust="spacingAndGlyphs">Nov</text>
<text x="573.9" y="479.4" font-family="Liberation Sans, Arial, sans-serif" font-size="9.5" font-weight="bold" fill="#000" stroke="#000" stroke-width="0.35" textLength="16.0" lengthAdjust="spacingAndGlyphs">Dec</text>
<text x="699.2" y="479.4" font-family="Liberation Sans, Arial, sans-serif" font-size="9.5" font-weight="bold" fill="#000" stroke="#000" stroke-width="0.35" textLength="18.3" lengthAdjust="spacingAndGlyphs">2013</text>
<text x="830.8" y="479.4" font-family="Liberation Sans, Arial, sans-serif" font-size="9.5" font-weight="bold" fill="#000" stroke="#000" stroke-width="0.35" textLength="14.5" lengthAdjust="spacingAndGlyphs">Feb</text>
<text x="763.2" y="490.3" font-family="Liberation Sans, Arial, sans-serif" font-size="8.4" font-weight="normal" fill="#000" stroke="#000" stroke-width="0.22" textLength="133.3" lengthAdjust="spacingAndGlyphs">Published by eSignal (www.esignal.com)</text>
<rect x="105.00" y="2.50" width="14.00" height="12.00" fill="#f4f4f4"/><rect x="105.00" y="2.50" width="14.00" height="1.00" fill="#909090"/><rect x="105.00" y="2.50" width="1.00" height="12.00" fill="#909090"/><rect x="107.00" y="4.00" width="11.00" height="3.80" fill="#000"/><rect x="108.00" y="5.00" width="9.00" height="1.80" fill="#00ff00"/><rect x="109.00" y="8.00" width="1.00" height="2.00" fill="#8000a0"/><rect x="114.50" y="8.00" width="1.00" height="2.00" fill="#8000a0"/><ellipse cx="110" cy="11" rx="3" ry="1.8" fill="#e8e000" stroke="#202060" stroke-width="1"/><ellipse cx="115.2" cy="11" rx="3" ry="1.8" fill="#e8e000" stroke="#202060" stroke-width="1"/><rect x="122.00" y="4.50" width="7.80" height="7.80" fill="#000"/><rect x="123.30" y="5.80" width="2.20" height="2.20" fill="#fff"/><rect x="126.40" y="5.80" width="2.20" height="2.00" fill="#fff"/><rect x="123.30" y="8.90" width="2.20" height="2.20" fill="#fff"/><rect x="126.40" y="9.20" width="2.20" height="1.90" fill="#fff"/><path d="M135.8 4.5h3.2M136.4 5.2v7.2h7v-6.6h-7" fill="none" stroke="#000" stroke-width="1.3"/><rect x="138.60" y="7.60" width="2.60" height="2.60" fill="#000"/><rect x="139.40" y="8.40" width="1.20" height="1.00" fill="#fff"/><path d="M148.6 12.2h7.4M149.2 11.6v-3.2h3.2M152.2 6.2h3.6v4.6M149.6 9.8h2.2" fill="none" stroke="#000" stroke-width="1.3"/><rect x="155.40" y="4.40" width="1.60" height="2.40" fill="#2020a0"/><rect x="163.00" y="7.80" width="8.00" height="2.00" fill="#000"/><rect x="166.00" y="4.80" width="2.00" height="8.00" fill="#000"/><path d="M177.6 5.2v-0.6h3.6v0.9h5.2v6.8h-8.8z" fill="#f6f020" stroke="#6060c0" stroke-width="0.9"/><rect x="177.50" y="11.40" width="9.40" height="1.40" fill="#101030"/><rect x="185.60" y="5.80" width="1.30" height="7.00" fill="#101030"/><rect x="178.60" y="10.20" width="7.00" height="0.80" fill="#ffffff"/><path d="M230.6 5.2v-0.6h3.6v0.9h5.2v6.8h-8.8z" fill="#f6f020" stroke="#6060c0" stroke-width="0.9"/><rect x="230.50" y="11.40" width="9.40" height="1.40" fill="#101030"/><rect x="238.60" y="5.80" width="1.30" height="7.00" fill="#101030"/><rect x="231.60" y="10.20" width="7.00" height="0.80" fill="#ffffff"/><text x="191.0" y="11.8" font-family="Liberation Sans, Arial, sans-serif" font-size="8.8" font-weight="normal" fill="#000" stroke="#000" stroke-width="0.35" textLength="26.5" lengthAdjust="spacingAndGlyphs">Equities</text><path d="M222 8h4l-2 2.5z" fill="#000"/><text x="244.0" y="11.8" font-family="Liberation Sans, Arial, sans-serif" font-size="8.8" font-weight="normal" fill="#000" stroke="#000" stroke-width="0.35" textLength="51.8" lengthAdjust="spacingAndGlyphs">Other Intervals</text><path d="M300 8h4l-2 2.5z" fill="#000"/><circle cx="313.1" cy="8" r="4.3" fill="#f8f8f8" stroke="#000" stroke-width="1.2"/><text x="313.1" y="10.6" font-family="Liberation Sans, sans-serif" font-size="7.2" text-anchor="middle" fill="#000" stroke="#000" stroke-width="0.25">S</text><text x="321.8" y="11.8" font-family="Liberation Sans, Arial, sans-serif" font-size="8.8" font-weight="normal" fill="#000" stroke="#000" stroke-width="0.35" textLength="12.4" lengthAdjust="spacingAndGlyphs">IDC</text><circle cx="344.0" cy="8" r="4.3" fill="#f8f8f8" stroke="#000" stroke-width="1.2"/><text x="344.0" y="10.6" font-family="Liberation Serif, serif" font-size="7.2" text-anchor="middle" fill="#000" stroke="#000" stroke-width="0.25">I</text><text x="353.3" y="11.8" font-family="Liberation Sans, Arial, sans-serif" font-size="8.8" font-weight="normal" fill="#000" stroke="#000" stroke-width="0.35" textLength="3.1" lengthAdjust="spacingAndGlyphs">1</text><circle cx="368.2" cy="8" r="4.3" fill="#f8f8f8" stroke="#000" stroke-width="1.2"/><text x="368.2" y="10.6" font-family="Liberation Sans, sans-serif" font-size="7.2" text-anchor="middle" fill="#000" stroke="#000" stroke-width="0.25">L</text><text x="376.4" y="11.8" font-family="Liberation Sans, Arial, sans-serif" font-size="8.8" font-weight="normal" fill="#000" stroke="#000" stroke-width="0.35" textLength="4.5" lengthAdjust="spacingAndGlyphs">5</text><circle cx="392.0" cy="8" r="4.3" fill="#f8f8f8" stroke="#000" stroke-width="1.2"/><text x="392.0" y="10.6" font-family="Liberation Serif, serif" font-size="7.2" text-anchor="middle" fill="#000" stroke="#000" stroke-width="0.25">I</text><text x="400.6" y="11.8" font-family="Liberation Sans, Arial, sans-serif" font-size="8.8" font-weight="normal" fill="#000" stroke="#000" stroke-width="0.35" textLength="8.5" lengthAdjust="spacingAndGlyphs">60</text><circle cx="420.2" cy="8" r="4.3" fill="#f8f8f8" stroke="#000" stroke-width="1.2"/><text x="420.2" y="10.6" font-family="Liberation Serif, serif" font-size="7.2" text-anchor="middle" fill="#000" stroke="#000" stroke-width="0.25">I</text><text x="428.9" y="11.8" font-family="Liberation Sans, Arial, sans-serif" font-size="8.8" font-weight="normal" fill="#000" stroke="#000" stroke-width="0.35" textLength="15.0" lengthAdjust="spacingAndGlyphs">Daily</text><circle cx="454.7" cy="8" r="4.3" fill="#f8f8f8" stroke="#000" stroke-width="1.2"/><text x="454.7" y="10.6" font-family="Liberation Serif, serif" font-size="7.2" text-anchor="middle" fill="#000" stroke="#000" stroke-width="0.25">I</text><text x="463.9" y="11.8" font-family="Liberation Sans, Arial, sans-serif" font-size="8.8" font-weight="normal" fill="#000" stroke="#000" stroke-width="0.35" textLength="12.8" lengthAdjust="spacingAndGlyphs">Tick</text></svg>
</body></html>
